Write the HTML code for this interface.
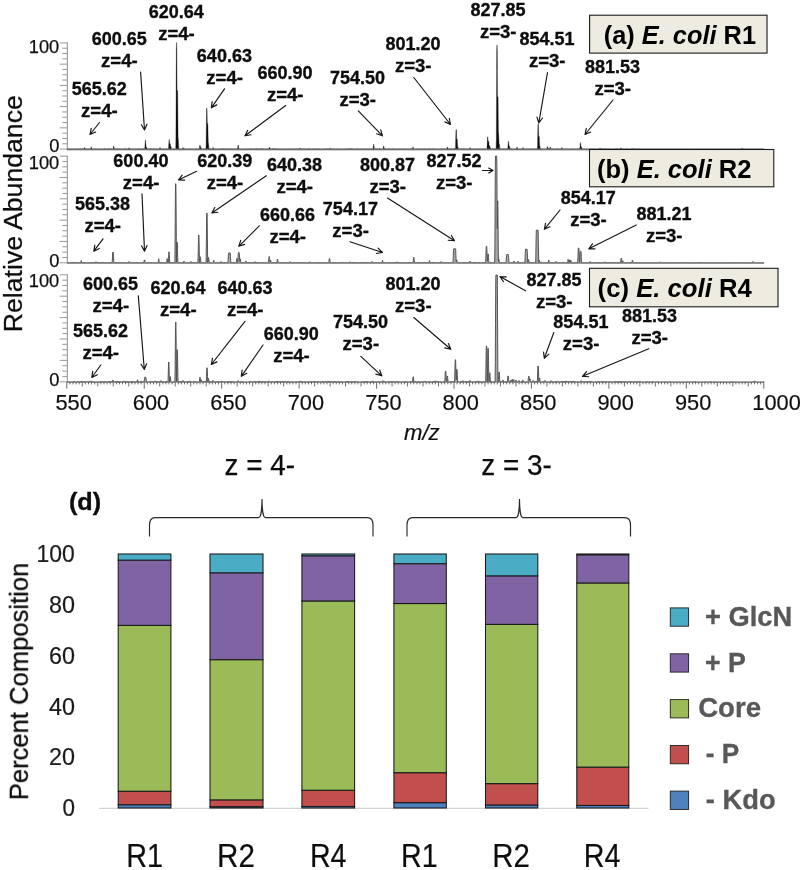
<!DOCTYPE html>
<html lang="en"><head><meta charset="utf-8"><title>LOS mass spectra and composition of E. coli R1, R2, R4</title>
<style>
html,body{margin:0;padding:0;background:#fff;}
body{width:800px;height:870px;overflow:hidden;}
svg{display:block;will-change:transform;}
text{font-family:"Liberation Sans",Arial,Helvetica,sans-serif;fill:#111;}
.pk{font-size:18px;font-weight:bold;text-anchor:middle;fill:#0a0a0a;stroke:#0a0a0a;stroke-width:0.3px;}
.yt{font-size:18.3px;fill:#111;stroke:#111;stroke-width:0.25px;}
.xt{font-size:21.8px;fill:#111;stroke:#111;stroke-width:0.2px;}
.bx{font-size:26.4px;font-weight:bold;fill:#000;}
.ar{stroke:#151515;stroke-width:1.15;fill:none;stroke-linecap:round;}
.bar rect{stroke:#1a1a1a;stroke-width:1.05;}
.lg{font-size:28px;font-weight:bold;fill:#595959;stroke:#595959;stroke-width:0.35px;}
.cy{font-size:24.6px;fill:#1a1a1a;text-anchor:end;stroke:#1a1a1a;stroke-width:0.2px;}
.cx{font-size:32.7px;fill:#111;stroke:#111;stroke-width:0.2px;}
.zz{font-size:29px;fill:#111;stroke:#111;stroke-width:0.25px;}
</style></head><body>
<svg width="800" height="870" viewBox="0 0 800 870">
<defs><filter id="soft" x="0" y="0" width="800" height="870" filterUnits="userSpaceOnUse"><feGaussianBlur stdDeviation="0.38"/></filter></defs>
<rect width="800" height="870" fill="#fff"/>
<g filter="url(#soft)">
<text transform="translate(22.3 332.2) rotate(-90)" font-size="26.2" textLength="237" lengthAdjust="spacingAndGlyphs" fill="#111" stroke="#111" stroke-width="0.25">Relative Abundance</text>
<path d="M67.3 149.7L67.3 149L67.5 148.8L67.7 149.1L67.9 148.8L68.1 149.1L68.3 149.1L68.5 148.7L68.7 149L68.9 149L69.1 148.9L69.3 148.8L69.5 149L69.7 148.9L69.9 149.1L71.5 149.1L71.7 149L71.9 149.1L72.1 149L72.3 149L72.5 148.9L72.7 149.1L73.7 149.1L73.9 148.8L74.1 149.1L74.3 148.9L74.5 149L74.7 149.1L74.9 148.9L75.1 148.9L75.3 148.8L75.5 149.1L76.1 149.1L76.3 149L76.5 149.1L76.7 148.8L76.9 149.1L77.5 149.1L77.7 148.7L77.9 149.1L78.3 149.1L78.5 148.7L78.7 149.1L78.9 148.8L79.1 149.1L79.3 149L79.5 149.1L79.7 148.9L79.9 149.1L80.1 149L80.3 148.9L80.5 148.7L80.7 149.1L80.9 148.7L81.1 148.8L81.3 149.1L81.5 149L81.7 149.1L81.9 148.7L82.1 149L82.3 149.1L83.1 149.1L83.3 148.6L83.5 149.1L83.7 149.1L83.9 148.7L84.1 148.2L84.3 147.7L84.5 147.6L84.7 147.7L84.9 148.2L85.1 148.7L85.3 149.1L85.5 149.1L85.7 148.6L85.9 148.9L86.1 149.1L86.3 148.6L86.5 148.9L86.7 149.1L86.9 149.1L87.1 149L87.3 149.1L87.9 149.1L88.1 148.8L88.3 149.1L88.5 149.1L88.7 148.9L88.9 149L89.1 148.9L89.3 148.8L89.5 149L89.9 149L90.1 149.1L90.3 148.9L90.5 148.8L90.7 148.2L90.9 147.4L91.1 146.9L91.3 146.9L91.5 147.4L91.7 148.2L91.9 148.9L92.1 149.1L92.3 149.1L92.5 149L92.7 149L92.9 149.1L93.1 149.1L93.3 149L93.5 148.8L93.7 149.1L94.1 149.1L94.3 148.9L94.5 149.1L94.7 148.8L94.9 149.1L95.1 148.8L95.3 149L95.5 149.1L96.1 149.1L96.3 148.9L96.5 149L96.7 149.1L96.9 148.9L97.1 148.8L97.3 149L97.5 149.1L97.7 149.1L97.9 148.9L98.1 148.9L98.3 149.1L98.5 148.9L98.7 149.1L98.9 149.1L99.1 148.8L99.3 148.9L99.5 149.1L99.7 149L99.9 148.9L100.1 149.1L100.3 149L100.5 148.9L100.7 149.1L100.9 149L101.1 148.9L101.3 148.9L101.5 149.1L101.7 149L101.9 149.1L102.1 148.9L102.3 148.9L102.5 149L102.7 149.1L102.9 149.1L103.1 148.9L103.3 149.1L103.5 148.9L103.7 148.9L103.9 149.1L104.1 148.6L104.3 149L104.5 148.6L104.7 149.1L104.9 149.1L105.1 148.8L105.3 148.9L105.5 149.1L105.7 149L105.9 149.1L106.5 149.1L106.7 148.8L106.9 149L107.1 148.9L107.3 149.1L107.5 149.1L107.7 149L107.9 149.1L108.1 148.8L108.3 149.1L108.5 148.7L108.7 149.1L108.9 148.8L109.1 149.1L109.3 148.7L109.5 149L109.7 148.9L109.9 148.9L110.1 149.1L110.5 149.1L110.7 148.8L110.9 149.1L111.1 149.1L111.3 149L111.5 148.6L111.7 149.1L111.9 149L112.1 149.1L112.3 148.9L112.5 149.1L112.7 149.1L112.9 148.9L113.1 148.4L113.3 147.4L113.5 146.4L113.7 146.1L113.9 146.4L114.1 147.3L114.3 148.3L114.5 148.9L114.7 149L114.9 149L115.1 148.8L115.3 149.1L115.5 148.9L115.7 149L115.9 149L116.1 148.9L116.3 149L116.7 149L116.9 148.6L117.1 149.1L117.3 148.8L117.5 148.9L117.7 149.1L117.9 148.9L118.1 149.1L118.3 148.8L118.5 149.1L118.7 149.1L118.9 149L119.1 148.9L119.3 148.8L119.5 148.8L119.7 149.1L119.9 149.1L120.1 148.9L120.3 149L120.5 149.1L120.7 148.8L120.9 149L121.1 149.1L121.3 148.9L121.5 149.1L121.7 149.1L121.9 148.9L122.1 149.1L122.3 149L122.5 149.1L122.7 148.9L122.9 149.1L123.1 149L123.3 149.1L123.5 149.1L123.7 148.8L123.9 148.9L124.1 149.1L124.3 148.8L124.5 148.8L124.7 149.1L124.9 148.7L125.1 149.1L125.3 149L125.5 148.8L125.9 148.8L126.1 149.1L126.3 149.1L126.5 148.9L126.7 149.1L126.9 149L127.1 149.1L127.3 148.8L127.5 148.9L127.7 148.9L127.9 149L128.3 149L128.5 148.6L128.7 148.1L128.9 147.8L129.1 147.8L129.3 148.1L129.5 148.6L129.7 148.7L129.9 148.8L130.1 149.1L130.3 149.1L130.5 148.8L130.7 149.1L130.9 149L131.1 149.1L131.3 149L131.5 149.1L131.7 149L131.9 149.1L132.1 149L132.3 149.1L132.5 148.9L132.7 149L132.9 149.1L133.1 149.1L133.3 149L133.5 148.9L133.7 149L133.9 148.8L134.1 149L134.3 149.1L134.5 149.1L134.7 148.9L134.9 149.1L135.1 148.9L135.3 148.8L135.5 148.9L135.7 148.8L135.9 149.1L136.1 149L136.3 149.1L137.3 149.1L137.5 149L137.7 148.9L137.9 149.1L138.1 148.8L138.5 148.8L138.7 149.1L138.9 149.1L139.1 148.9L139.3 149L139.5 148.9L139.7 148.9L139.9 148.8L140.1 149.1L140.3 148.9L140.5 149.1L140.9 149.1L141.1 148.7L141.3 149.1L141.5 148.8L141.7 149.1L141.9 149.1L142.1 149L142.3 149L142.5 149.1L142.7 149L142.9 148.9L143.1 148.9L143.3 149.1L143.5 148.7L143.7 148.7L143.9 148.6L144.1 149.1L144.3 149L144.5 149.1L144.7 148.9L144.9 146.8L145.1 143.7L145.3 140.7L145.5 139.9L145.7 140.7L145.9 143.7L146.1 146.8L146.3 147.3L146.5 147.3L146.7 147.5L146.9 148.3L147.1 148.7L147.3 149.1L147.5 149.1L147.7 148.9L147.9 149.1L148.1 149L148.3 148.9L148.5 148.9L148.7 148.7L148.9 148.8L149.1 149.1L149.3 149L149.5 148.6L149.7 149.1L149.9 148.8L150.1 149L150.3 149.1L150.5 148.7L150.7 148.8L150.9 149.1L151.1 148.8L151.3 149.1L151.5 149.1L151.7 148.8L151.9 149L152.1 149.1L152.3 148.9L152.5 149L152.7 148.8L152.9 148.8L153.1 149.1L153.3 149.1L153.5 149L153.7 149.1L153.9 148.7L154.1 148.7L154.3 148.8L154.5 148.9L154.7 149.1L154.9 148.8L155.1 149.1L155.3 149L155.5 149.1L155.7 149.1L155.9 148.7L156.1 149.1L156.3 149.1L156.5 149L156.7 148.7L156.9 148.7L157.1 149.1L157.3 149.1L157.5 149L157.7 149.1L157.9 149L158.1 149.1L159.1 149.1L159.3 148.8L159.5 148.5L159.7 148L159.9 147.6L160.1 147.6L160.3 148L160.5 148.5L160.7 148.7L160.9 149.1L161.7 149.1L161.9 148.9L162.1 148.7L162.3 148.9L162.5 149L162.7 149.1L162.9 149L163.1 149.1L163.3 149L163.5 148.8L163.7 149L163.9 149.1L164.1 149.1L164.3 149L164.5 149L164.7 149.1L164.9 149.1L165.1 148.8L165.3 149.1L165.7 149.1L165.9 148.7L166.1 148.9L166.5 148.9L166.7 149L166.9 149L167.1 149.1L167.3 149L167.5 148.9L167.7 149.1L167.9 148.9L168.1 148.9L168.3 149.1L168.5 148.3L168.7 145.1L168.9 141.9L169.1 139.5L169.3 139.5L169.5 141.9L169.7 143.8L170.3 143.8L170.5 145.6L170.7 146.7L171.1 146.7L171.3 147.5L171.5 148.6L171.7 149.1L172.3 149.1L172.5 148.9L172.7 149.1L173.1 149.1L173.3 148.7L173.5 149L173.7 149.1L174.1 149.1L174.3 149L174.5 148.9L174.7 148.8L174.9 148.8L175.1 149L175.3 149.1L175.7 149.1L175.9 138L176.1 93.6L176.3 49.3L176.5 42.6L176.7 42.6L176.9 49.3L177.1 90.5L177.7 90.5L177.9 116.6L178.1 138.4L178.3 138.4L178.5 142L178.7 146.7L178.9 148.9L179.1 149.1L179.3 148.7L179.5 149.1L179.7 149L179.9 149.1L180.1 148.9L180.3 149.1L180.5 148.9L180.7 149.1L180.9 149L181.1 149.1L181.3 149L181.5 149L181.7 148.9L181.9 149L182.1 148.9L182.3 148.8L182.5 148.5L182.7 148L182.9 147.6L183.1 147.6L183.3 148L183.5 148.5L183.7 149L183.9 149.1L184.1 148.8L184.3 148.6L184.5 149.1L184.9 149.1L185.1 148.8L185.3 149.1L185.5 149.1L185.7 148.9L185.9 149L186.1 149L186.3 149.1L186.5 149.1L186.7 149L186.9 149L187.1 148.9L187.3 149.1L187.5 149L187.7 148.9L187.9 149L188.1 148.9L188.3 148.8L188.5 149L188.7 149L188.9 149.1L189.1 149L189.3 149L189.5 149.1L189.7 149.1L189.9 148.9L190.1 148.5L190.3 148.9L190.5 149L190.7 148.9L190.9 149.1L191.1 149L191.3 149.1L191.5 149.1L191.7 149L192.1 149L192.3 149.1L192.5 149L192.7 149.1L192.9 148.9L193.1 149.1L193.3 149L193.5 148.9L193.7 148.9L193.9 149.1L194.1 149.1L194.3 148.9L194.5 149.1L194.7 149.1L194.9 149L195.1 149L195.3 148.9L195.5 149L195.9 149L196.1 148.8L196.3 148.9L196.5 148.9L196.7 149.1L196.9 148.8L197.1 149.1L197.3 148.9L197.5 149.1L197.7 149L197.9 149L198.1 149.1L198.3 148.8L198.5 148.9L198.7 149L198.9 149.1L199.1 148.7L199.3 148.7L199.5 147.3L199.7 146L199.9 144.9L200.1 144.9L200.3 146L200.5 147.3L200.7 147.6L201.1 147.6L201.3 148.1L201.5 148.8L201.7 149.1L201.9 148.9L202.1 149L202.3 149.1L202.5 149L202.7 148.9L202.9 149.1L203.7 149.1L203.9 149L204.1 149L204.3 149.1L204.5 149.1L204.7 149L204.9 149.1L205.1 149.1L205.3 149L205.5 148.6L205.7 149.1L205.9 149.1L206.1 144.8L206.3 127.6L206.5 110.5L206.7 107.9L206.9 107.9L207.1 110.5L207.3 123.6L207.9 123.6L208.1 134.9L208.3 143.3L208.5 143.3L208.7 145.3L208.9 147.8L209.1 149L209.3 148.9L209.5 148.8L209.7 149L210.1 149L210.3 148.5L210.5 149L210.7 148.8L210.9 149.1L211.1 148.9L211.3 149.1L211.7 149.1L211.9 149L212.1 149L212.3 148.9L212.5 148.4L212.7 147.9L212.9 147.5L213.1 147.5L213.3 147.9L213.5 148.4L213.7 148.8L213.9 148.9L214.1 149L214.3 148.7L214.5 149.1L214.7 149.1L214.9 149L215.1 149.1L215.3 149.1L215.5 148.8L215.7 149.1L215.9 149L216.1 148.9L216.3 149.1L216.5 149L216.7 149.1L217.1 149.1L217.3 149L217.5 149.1L217.7 149.1L217.9 148.8L218.1 148.8L218.3 148.9L218.5 149L218.7 149.1L219.1 149.1L219.3 149L219.5 148.8L219.7 148.8L219.9 149L220.1 149.1L220.3 149L220.5 149L220.7 148.9L220.9 148.7L221.1 149.1L221.3 148.6L221.5 149.1L222.3 149.1L222.5 148.6L222.7 149.1L222.9 148.8L223.1 149.1L223.3 149L223.5 149.1L223.7 148.6L223.9 149L224.1 149.1L224.3 148.6L224.5 149L224.7 148.9L224.9 149L225.1 149.1L225.5 149.1L225.7 148.7L225.9 148.9L226.1 149.1L226.3 148.8L226.5 149.1L226.7 148.8L226.9 149L227.1 149.1L227.3 148.9L227.5 148.9L227.7 149.1L227.9 149L228.1 148.8L228.3 148.7L228.5 149.1L228.7 149.1L228.9 148.6L229.1 149.1L229.3 149.1L229.5 148.9L229.7 149.1L229.9 148.8L230.1 149.1L230.5 149.1L230.7 148.7L230.9 149.1L231.1 148.8L231.3 148.8L231.5 149.1L231.7 149.1L231.9 148.9L232.1 149L232.3 149L232.5 148.9L232.7 148.8L232.9 149.1L233.1 149L233.3 148.9L233.5 149L233.7 149L233.9 149.1L234.1 148.7L234.3 149.1L234.5 149L235.1 149L235.3 149.1L235.5 148.9L235.7 148.8L235.9 148.9L236.3 148.9L236.5 149L236.7 148.7L236.9 149.1L237.1 148.9L237.3 148.8L237.5 148.8L237.7 147.4L237.9 146.1L238.1 145.1L238.3 145.1L238.5 146.1L238.7 147.4L238.9 148.8L239.1 149.1L239.3 149.1L239.5 149L239.7 149.1L239.9 149.1L240.1 149L240.3 149L240.5 149.1L240.7 149.1L240.9 148.8L241.1 149.1L241.5 149.1L241.7 148.9L241.9 149.1L242.1 149.1L242.3 148.9L242.5 149L242.7 148.9L242.9 149.1L243.7 149.1L243.9 148.8L244.1 148.9L244.3 149.1L244.5 148.9L244.7 149L244.9 149.1L245.1 148.8L245.3 149.1L245.5 148.8L245.7 148.8L245.9 149.1L246.1 149.1L246.3 149L246.5 149.1L246.9 149.1L247.1 149L247.3 149.1L247.5 149.1L247.7 148.8L247.9 148.8L248.1 149.1L248.3 148.9L248.5 148.6L248.7 149.1L249.1 149.1L249.3 148.9L249.5 149.1L249.7 149.1L249.9 148.8L250.1 149.1L250.3 148.9L250.5 148.6L250.7 149.1L250.9 149.1L251.1 148.8L251.3 149L251.5 148.9L251.7 149L251.9 148.5L252.1 148.9L252.3 149L252.5 149L252.7 148.9L252.9 149.1L253.1 149.1L253.3 148.9L253.5 149.1L253.7 149L253.9 149L254.1 149.1L254.3 148.5L254.5 148.9L254.7 149L254.9 149.1L255.1 149L255.3 149.1L255.5 149L255.7 149L255.9 148.5L256.1 148.8L256.3 148.7L256.5 148.8L256.7 148.5L256.9 149.1L257.1 149.1L257.3 149L257.7 149L257.9 149.1L258.1 148.9L258.3 148.7L258.5 149L258.7 149.1L258.9 148.8L259.1 149.1L259.3 149.1L259.5 149L259.7 149.1L259.9 148.7L260.1 149L260.3 148.9L260.5 149L260.7 148.9L260.9 149.1L261.1 148.7L261.3 148.9L261.5 149L261.7 148.4L261.9 149.1L262.1 148.9L262.3 149L262.5 149.1L262.7 148.6L262.9 149.1L263.1 149L263.5 149L263.7 149.1L263.9 148.8L264.1 149L264.3 149.1L264.5 149.1L264.7 149L264.9 149.1L265.1 148.9L265.3 149L265.5 149.1L265.9 149.1L266.1 148.9L266.3 149.1L266.5 148.7L266.7 149.1L266.9 148.9L267.1 148.9L267.3 149L267.5 149L267.7 148.8L267.9 149L268.1 149L268.3 149.1L268.5 148.6L268.7 149L268.9 148.6L269.1 147.9L269.3 147.3L269.5 147.1L269.7 147.3L269.9 147.9L270.1 148.6L270.3 149.1L270.5 148.9L270.7 148.8L270.9 149.1L271.1 148.8L271.3 149.1L271.5 148.9L271.7 149.1L271.9 148.8L272.1 148.6L272.3 149.1L272.5 148.8L272.7 149.1L272.9 149.1L273.1 148.5L273.3 149L273.5 148.9L273.7 149.1L273.9 149L274.1 149.1L274.3 148.8L274.5 149.1L274.7 148.5L274.9 149.1L275.1 149L275.3 149.1L275.5 149.1L275.7 148.8L275.9 149L276.1 149.1L276.3 148.9L276.5 148.8L276.7 148.9L276.9 148.8L277.1 149.1L277.3 148.7L277.5 148.9L277.7 149.1L277.9 148.7L278.1 149.1L278.3 148.9L278.5 149.1L278.9 149.1L279.1 148.9L279.3 149.1L279.7 149.1L279.9 148.8L280.1 149.1L280.3 148.9L280.5 149.1L281.1 149.1L281.3 149L281.5 148.8L281.7 149.1L281.9 149.1L282.1 148.9L282.3 148.9L282.5 149L282.7 149L282.9 149.1L283.5 149.1L283.7 148.8L283.9 149.1L284.1 148.8L284.3 149.1L284.7 149.1L284.9 148.9L285.1 149.1L285.3 149.1L285.5 149L285.7 149L285.9 148.9L286.1 148.9L286.3 149.1L286.5 149L287.3 149L287.5 149.1L287.7 149L287.9 148.8L288.1 149.1L288.3 149L288.5 149.1L288.9 149.1L289.1 149L289.3 148.7L289.5 149.1L289.7 148.8L289.9 148.9L290.1 149L290.3 149.1L290.5 149L290.7 149L290.9 149.1L291.1 149L291.3 148.7L291.5 149.1L291.7 149.1L291.9 148.8L292.1 149.1L292.3 149.1L292.5 149L292.7 148.8L292.9 148.8L293.1 148.9L293.3 148.6L293.5 148.9L293.7 149.1L293.9 149.1L294.1 148.9L294.3 148.9L294.5 149.1L294.7 148.9L294.9 149.1L295.1 149.1L295.3 148.7L295.5 149L295.7 149.1L295.9 149L296.1 149.1L296.3 148.6L296.5 148.9L296.7 148.8L296.9 149.1L297.1 149.1L297.3 149L297.5 149.1L297.7 148.8L297.9 149.1L298.1 149L298.3 149L298.5 149.1L298.7 148.9L298.9 148.9L299.1 148.7L299.3 148.9L299.5 148.6L299.7 148.2L299.9 147.9L300.1 147.9L300.3 148.2L300.5 148.6L300.7 148.9L300.9 148.8L301.1 149L301.3 149.1L301.5 148.8L301.7 149L301.9 149.1L302.1 149.1L302.3 148.9L302.5 149L302.7 148.9L302.9 149L303.1 148.7L303.3 149.1L303.5 148.9L303.7 149L303.9 148.8L304.1 149.1L305.1 149.1L305.3 148.9L305.5 148.7L305.7 149.1L305.9 148.9L306.1 149.1L306.5 149.1L306.7 149L306.9 148.9L307.1 149.1L307.3 149.1L307.5 149L307.7 149.1L307.9 148.6L308.1 149.1L308.3 149.1L308.5 148.8L308.7 149.1L308.9 149.1L309.1 148.5L309.3 149.1L309.5 149L309.7 149.1L309.9 149.1L310.1 149L310.3 149.1L310.5 148.8L310.7 148.9L310.9 148.9L311.1 149.1L311.7 149.1L311.9 148.9L312.1 149.1L312.3 149.1L312.5 149L312.7 148.9L312.9 149L313.1 149.1L313.3 149.1L313.5 148.6L313.7 148.8L313.9 149.1L314.1 148.7L314.3 149L314.5 149L314.7 149.1L314.9 148.7L315.1 149L315.3 149L315.5 149.1L315.7 149.1L315.9 149L316.1 149L316.3 148.7L316.5 149.1L316.7 149.1L316.9 148.8L317.1 148.9L317.3 149.1L317.5 148.7L317.7 148.9L317.9 148.8L318.1 149L318.3 148.8L318.5 149.1L318.7 149.1L318.9 148.8L319.1 148.9L319.3 148.9L319.5 148.8L319.7 149L319.9 148.9L320.1 149.1L320.3 149.1L320.5 148.9L320.7 149.1L320.9 149.1L321.1 149L321.3 149L321.5 148.9L321.7 148.9L321.9 149.1L322.1 148.8L322.3 149.1L322.5 149.1L322.7 149L322.9 148.9L323.1 149L323.3 149.1L323.5 149.1L323.7 149L323.9 148.9L324.1 148.7L324.3 149L324.5 149.1L324.7 149.1L324.9 148.8L325.1 148.8L325.3 149L325.5 149.1L325.7 149.1L325.9 148.9L326.1 149.1L326.3 148.7L326.5 148.9L326.7 148.8L326.9 149L327.1 148.8L327.3 149.1L327.5 148.7L327.7 149L327.9 149.1L328.3 149.1L328.5 149L328.7 149.1L329.1 149.1L329.3 149L329.5 148.6L329.7 148.2L329.9 147.9L330.1 147.9L330.3 148.2L330.5 148.6L330.7 149L330.9 148.8L331.1 149.1L331.3 149.1L331.5 149L331.7 149.1L331.9 149.1L332.1 148.9L332.3 149.1L332.5 148.7L332.7 148.6L332.9 149L333.1 149.1L333.3 149L333.5 149.1L334.3 149.1L334.5 148.8L334.7 148.8L334.9 148.9L335.1 149.1L335.3 148.9L335.5 149L335.7 149L335.9 149.1L336.1 149.1L336.3 148.8L336.5 149.1L336.7 149.1L336.9 149L337.1 149L337.3 149.1L337.5 148.7L337.7 149L337.9 149L338.1 149.1L338.3 149L338.5 148.9L338.7 149L338.9 149L339.1 149.1L339.3 148.9L339.5 149.1L339.9 149.1L340.1 149L340.3 148.8L340.5 149L340.7 149.1L340.9 149L341.1 148.8L341.3 148.9L341.5 148.9L341.7 149.1L342.3 149.1L342.5 149L342.7 149L342.9 149.1L343.1 148.9L343.3 149.1L343.5 149.1L343.7 149L343.9 149.1L344.5 149.1L344.7 149L345.3 149L345.5 149.1L345.7 148.7L345.9 148.8L346.1 149.1L346.5 149.1L346.7 149L346.9 148.9L347.1 149L347.3 149.1L347.5 148.5L347.7 148.9L347.9 148.9L348.1 149.1L348.3 149L348.5 148.8L348.7 149.1L348.9 148.8L349.1 149L349.3 148.7L349.5 149L349.7 148.7L349.9 149.1L350.1 148.7L350.3 148.9L350.5 149.1L350.7 148.8L350.9 149.1L351.1 148.9L351.3 148.8L351.5 148.8L351.7 148.6L351.9 148.8L352.1 148.5L352.3 148.9L352.5 149L352.7 148.9L352.9 149L353.1 149.1L353.3 149L353.5 149.1L354.3 149.1L354.5 149L354.7 149L354.9 148.8L355.1 148.9L355.3 148.8L355.5 149.1L356.1 149.1L356.3 148.9L356.5 149.1L356.7 149L356.9 149.1L357.1 148.7L357.3 149L357.5 148.8L357.7 149L357.9 148.8L358.1 149.1L358.3 149.1L358.5 148.8L358.7 149.1L358.9 149L359.1 148.9L359.3 148.9L359.5 149L359.7 149.1L359.9 149.1L360.1 149L360.3 148.9L360.7 148.9L360.9 149.1L361.1 149L361.3 148.8L361.5 149.1L361.7 149.1L361.9 148.8L362.1 148.7L362.3 148.9L362.5 149L362.7 149.1L362.9 149L363.1 149.1L363.3 149L363.5 148.9L363.7 148.9L363.9 148.8L364.1 149.1L364.3 149.1L364.5 148.8L364.7 148.8L364.9 149.1L365.1 149L365.3 149.1L365.5 149L365.7 149L365.9 148.8L366.1 149.1L366.3 149.1L366.5 148.9L366.7 149.1L366.9 148.7L367.1 149.1L367.5 149.1L367.7 148.8L367.9 148.8L368.1 148.9L368.3 149.1L368.9 149.1L369.1 148.7L369.3 148.8L369.5 149.1L369.7 148.9L370.1 148.9L370.3 149.1L370.5 149.1L370.7 148.8L370.9 148.9L371.1 149.1L371.3 148.6L371.5 149L371.7 149.1L371.9 148.8L372.1 148.9L372.3 149L372.5 148.7L372.7 148.8L372.9 149L373.1 147.8L373.3 146.2L373.5 144.5L373.7 144.1L373.9 144.5L374.1 146.2L374.3 147.9L374.5 149.1L374.9 149.1L375.1 148.9L375.3 149.1L375.5 148.7L375.7 148.7L375.9 149.1L376.1 149L376.3 149.1L376.5 149L376.7 148.9L376.9 148.7L377.1 148.6L377.3 148.7L377.5 149.1L378.1 149.1L378.3 149L378.5 148.9L378.7 149.1L378.9 149.1L379.1 148.6L379.3 148.9L379.5 148.6L379.7 149.1L379.9 148.8L380.1 148.7L380.3 148.8L380.5 149.1L380.7 148.9L380.9 149.1L381.1 149.1L381.3 149L381.5 148.9L381.7 149.1L381.9 149L382.1 148.9L382.3 149.1L382.5 148.9L382.9 148.9L383.1 148.3L383.3 147.2L383.5 146.2L383.7 145.9L383.9 146.2L384.1 147.2L384.3 148.3L384.5 149.1L384.7 148.9L384.9 149.1L385.1 149L385.3 148.8L385.5 148.7L385.7 149.1L385.9 149L386.1 149.1L386.5 149.1L386.7 148.9L386.9 149L387.1 149L387.3 149.1L387.7 149.1L387.9 149L388.1 149.1L388.3 149L388.5 148.8L388.7 148.5L388.9 148.7L389.1 148.8L389.3 148.9L389.5 148.7L389.7 149L389.9 148.9L390.1 149.1L390.3 149.1L390.5 148.8L390.7 149.1L390.9 149L391.1 149L391.3 149.1L391.5 149L391.7 149L391.9 149.1L392.1 149L392.3 149.1L392.5 148.7L392.7 149L392.9 148.8L393.1 149.1L393.3 148.7L393.5 148.8L393.7 148.9L393.9 149L394.1 148.9L394.3 149.1L394.5 149L394.7 149.1L394.9 148.9L395.1 148.7L395.3 148.8L395.5 149L395.7 148.9L395.9 149.1L396.7 149.1L396.9 149L397.1 149L397.3 148.9L397.5 148.8L397.7 148.9L397.9 149L398.1 149.1L398.3 149.1L398.5 148.9L398.7 149.1L399.1 149.1L399.3 148.8L399.5 148.8L399.7 148.9L399.9 149.1L400.1 149L400.3 148.9L400.5 148.8L400.7 148.7L400.9 149.1L401.1 148.9L401.3 149.1L401.7 149.1L401.9 148.9L402.1 149L402.3 149.1L402.5 149L402.7 148.9L402.9 148.7L403.1 149.1L403.5 149.1L403.7 148.8L403.9 149.1L404.1 149L404.3 148.9L404.5 149.1L404.7 148.8L404.9 149.1L405.1 148.7L405.3 149.1L406.5 149.1L406.7 149L406.9 149L407.1 149.1L407.3 149L407.5 149.1L407.7 149L407.9 149.1L408.1 149.1L408.3 149L408.5 149L408.7 149.1L408.9 149L409.1 148.9L409.3 149.1L409.5 149.1L409.7 148.9L409.9 149L410.1 148.9L410.3 148.6L410.5 149.1L410.7 148.9L410.9 149.1L411.1 148.7L411.3 148.9L411.5 149.1L411.7 148.8L411.9 149L412.1 149.1L412.3 148.9L412.5 148.2L412.7 147.4L412.9 146.9L413.1 146.9L413.3 147.5L413.5 148.2L413.7 148.9L413.9 149.1L414.1 149.1L414.3 149L414.5 149.1L415.1 149.1L415.3 149L415.7 149L415.9 148.9L416.1 148.9L416.3 149.1L416.5 149L416.7 148.7L416.9 149.1L417.1 149.1L417.3 149L417.5 149.1L417.7 148.9L417.9 149L418.1 149.1L418.3 148.9L418.5 148.8L418.7 149.1L419.3 149.1L419.5 148.9L419.7 148.6L419.9 148.9L420.1 148.8L420.3 149.1L420.7 149.1L420.9 148.9L421.1 149L421.3 149.1L421.5 148.9L421.7 148.9L421.9 148.7L422.1 148.8L422.3 148.8L422.5 149.1L422.7 148.8L422.9 149L423.1 149.1L423.3 149L423.5 149.1L423.7 149L423.9 148.8L424.1 149.1L424.3 148.9L424.5 148.8L424.7 149.1L424.9 148.7L425.1 149.1L425.3 149.1L425.5 148.8L425.7 149L425.9 149.1L426.1 149.1L426.3 148.9L426.5 149.1L426.7 149.1L426.9 149L427.1 149L427.3 149.1L427.5 149.1L427.7 148.9L427.9 148.8L428.1 149.1L428.3 148.9L428.5 148.8L428.7 149.1L428.9 148.7L429.1 149.1L429.3 148.8L429.5 148.7L429.7 148.7L429.9 149.1L430.1 149L430.3 149.1L430.5 148.9L430.7 148.7L430.9 148.9L431.1 148.7L431.3 149.1L431.7 149.1L431.9 148.9L432.1 148.8L432.3 149.1L432.5 149.1L432.7 148.8L432.9 149.1L433.1 148.9L433.3 149.1L433.5 149L433.7 148.6L433.9 149.1L434.1 149L434.3 149.1L434.5 148.9L434.7 148.7L434.9 148.9L435.1 149.1L435.3 148.9L435.5 148.7L435.7 149.1L435.9 149L436.1 149.1L436.7 149.1L436.9 148.9L437.1 149L437.3 149.1L437.9 149.1L438.1 149L438.3 149.1L438.5 148.9L438.7 149.1L439.7 149.1L439.9 149L440.1 148.7L440.3 149.1L440.5 149.1L440.7 149L440.9 149.1L441.1 148.9L441.3 148.8L441.5 148.7L441.7 149L441.9 149.1L442.1 148.7L442.3 148.8L442.5 148.8L442.7 149L442.9 149.1L443.1 149L443.3 149.1L443.5 148.8L443.7 149.1L443.9 149.1L444.1 148.9L444.3 149.1L444.5 148.9L444.7 149.1L444.9 148.6L445.1 148.8L445.3 148.9L445.5 149L445.7 149L445.9 149.1L446.7 149.1L446.9 148.5L447.1 147.8L447.3 147.1L447.5 146.9L447.7 147.1L447.9 147.8L448.1 148.5L448.3 149L448.5 148.9L448.7 149L448.9 149L449.1 148.7L449.3 149L449.5 148.9L449.7 149L449.9 149.1L450.1 148.8L450.3 149L450.5 148.7L450.7 149.1L450.9 148.9L451.1 148.7L451.3 149.1L451.5 148.9L451.7 148.7L451.9 148.9L452.1 149.1L452.3 149.1L452.5 149L452.7 149.1L452.9 149.1L453.1 149L453.3 149.1L453.5 148.7L453.7 149.1L453.9 149L454.1 149L454.3 148.7L454.5 149.1L454.7 148.6L454.9 148.7L455.1 148.9L455.3 149.1L455.5 147.1L455.7 138.9L455.9 130.7L456.1 129.5L456.3 129.5L456.5 130.7L456.7 138.9L456.9 139.3L457.3 139.3L457.5 143.7L457.7 146.7L457.9 146.7L458.1 147.5L458.3 148.6L458.5 149.1L458.7 149L458.9 148.9L459.1 148.9L459.3 149.1L459.5 149L459.7 148.8L459.9 149.1L460.1 149L460.3 149.1L460.5 149L460.7 148.6L460.9 148.9L461.1 149.1L461.3 148.8L461.7 148.8L461.9 149.1L462.1 149.1L462.3 148.9L462.7 148.9L462.9 149.1L463.1 148.9L463.3 148.6L463.5 148.8L463.7 148.5L463.9 148.9L464.1 149L464.3 148.7L464.5 148.8L464.7 149.1L464.9 149.1L465.1 149L465.3 149.1L465.5 148.7L465.7 148.7L465.9 148.8L466.1 149.1L466.3 149.1L466.5 148.9L466.7 149.1L466.9 148.9L467.1 149L467.3 148.9L467.5 149L467.7 149.1L468.3 149.1L468.5 148.9L468.7 149.1L468.9 149.1L469.1 148.9L469.3 148.9L469.5 148.5L469.7 148L469.9 147.6L470.1 147.6L470.3 148L470.5 148.5L470.7 149L470.9 148.9L471.1 148.9L471.3 149.1L472.1 149.1L472.3 148.7L472.5 149.1L473.7 149.1L473.9 149L474.1 149.1L474.3 149L474.5 148.7L474.7 149.1L474.9 149L475.1 149.1L475.5 149.1L475.7 149L475.9 149L476.1 148.8L476.3 148.6L476.5 149.1L476.7 148.8L476.9 149.1L477.3 149.1L477.5 148.9L477.7 148.8L477.9 149L478.1 149L478.3 149.1L478.7 149.1L478.9 149L479.1 149.1L479.3 148.6L479.5 148.8L479.7 149.1L480.1 149.1L480.3 149L480.5 149L480.7 148.7L480.9 149.1L481.1 149.1L481.3 149L481.5 148.9L481.7 149.1L481.9 148.9L482.1 149.1L482.3 149.1L482.5 149L482.7 149.1L482.9 149.1L483.1 148.7L483.3 148.8L483.5 148.9L483.7 149L483.9 149L484.1 149.1L484.3 149L484.5 149.1L484.7 149.1L484.9 148.7L485.1 149.1L485.3 149L485.5 149L485.7 148.8L485.9 149.1L486.1 148.9L486.3 148.9L486.5 149.1L486.9 149.1L487.1 145.3L487.3 140.2L487.5 136.9L487.9 136.9L488.1 140.2L488.3 141.2L488.7 141.2L488.9 142.1L489.1 145.4L489.5 145.4L489.7 145.8L489.9 147.5L490.1 147.6L490.3 147.6L490.5 148.1L490.7 148.5L490.9 148.7L491.1 148.8L491.3 149.1L491.5 149.1L491.7 149L491.9 149L492.1 148.9L492.3 149.1L492.5 148.7L492.7 149.1L492.9 148.9L493.1 148.9L493.3 148.8L493.5 148.8L493.7 149L493.9 149L494.1 148.7L494.3 148.8L494.5 149L494.7 148.8L494.9 149.1L495.1 148.9L495.3 149.1L495.5 148.8L495.7 149.1L495.9 148.8L496.1 148.9L496.3 138.3L496.5 94.9L496.7 51.6L496.9 45.1L497.1 45.1L497.3 51.6L497.5 94.9L497.7 97.1L498.1 97.1L498.3 120.2L498.5 133.5L498.7 133.5L498.9 138.7L499.1 143.9L499.3 143.9L499.5 144.5L499.7 146.8L499.9 149.1L500.1 149.1L500.3 149L500.5 148.9L500.7 148.7L500.9 148.8L501.1 149.1L501.3 149L501.5 148.6L501.7 149L501.9 148.9L502.1 149.1L502.7 149.1L502.9 148.9L503.1 149L503.3 149.1L503.5 148.5L503.7 148.9L503.9 149.1L504.1 148.7L504.3 148.8L504.5 149L504.7 149L504.9 148.9L505.1 149.1L505.3 148.8L505.5 149L505.7 148.9L505.9 149.1L506.1 149.1L506.3 148.7L506.5 149.1L506.7 148.8L506.9 148.8L507.1 149.1L507.7 149.1L507.9 147.1L508.1 144.4L508.3 141.8L508.5 141.1L508.7 141.8L508.9 144.4L509.1 146.3L509.5 146.3L509.7 146.6L509.9 147.9L510.1 149.1L510.3 148.9L510.5 149.1L510.7 148.7L510.9 149.1L511.1 148.6L511.3 149.1L511.5 148.6L511.7 148.9L511.9 148.8L512.1 148.9L512.3 148.9L512.5 149.1L512.7 149L512.9 149.1L513.1 149L513.3 149.1L513.5 148.9L513.7 149L513.9 149.1L514.1 149.1L514.3 148.8L514.5 149.1L514.7 149.1L514.9 148.9L515.1 149L515.5 149L515.7 149.1L515.9 148.9L516.1 149L516.3 148.9L516.5 148.3L516.7 147.6L516.9 147.1L517.1 147.1L517.3 147.6L517.5 148.3L517.7 148.9L517.9 148.8L518.1 148.9L518.3 149.1L518.5 149.1L518.7 148.8L518.9 149L519.1 149.1L519.3 149L519.5 148.8L519.7 149.1L519.9 149L520.1 149.1L520.3 149.1L520.5 148.9L520.7 149.1L520.9 149L521.1 148.9L521.7 148.9L521.9 149.1L522.1 149.1L522.3 148.8L522.5 148.5L522.7 148L522.9 147.6L523.1 147.6L523.3 148L523.5 148.5L523.7 149L523.9 148.9L524.1 149L524.3 148.7L524.5 149.1L524.9 149.1L525.1 149L525.3 149L525.5 149.1L525.7 148.9L525.9 149.1L526.1 149.1L526.3 148.6L526.5 149L526.7 149.1L526.9 148.8L527.1 149L527.3 149.1L527.5 148.9L527.7 148.8L527.9 148.9L528.1 149L528.3 148.7L528.5 149.1L528.7 149L528.9 148.9L529.1 149.1L529.3 148.9L529.5 148.9L529.7 148.8L529.9 149L530.1 148.6L530.3 149.1L530.7 149.1L530.9 149L531.1 148.9L531.3 149.1L531.5 148.8L531.7 148.8L531.9 149L532.1 149.1L532.3 148.9L532.5 148.9L532.7 149.1L533.3 149.1L533.5 148.9L533.7 148.8L533.9 148.9L534.1 149.1L534.3 149L534.5 149L534.7 148.7L534.9 149.1L535.1 148.9L535.3 149.1L535.5 148.8L535.7 149.1L535.9 148.9L536.1 149.1L536.3 148.9L536.5 149.1L536.7 149L536.9 148.8L537.1 148.9L537.3 149.1L537.5 146.5L537.7 135.9L537.9 125.3L538.1 123.7L538.3 123.7L538.5 125.3L538.7 135.9L538.9 136.4L539.3 136.4L539.5 142L539.7 146.1L539.9 146.1L540.1 147.1L540.3 148.4L540.5 148.9L540.7 149.1L540.9 149L541.1 148.8L541.3 149.1L541.5 149.1L541.7 148.8L541.9 149.1L542.7 149.1L542.9 149L543.1 149.1L543.3 148.8L543.5 149.1L543.7 149L543.9 148.9L544.1 149.1L544.3 149.1L544.5 149L544.7 149.1L544.9 148.9L545.1 149.1L545.3 149.1L545.5 148.9L545.7 149.1L546.1 149.1L546.3 148.8L546.5 148.9L546.7 149L546.9 148.5L547.1 147.6L547.3 146.7L547.5 146.5L547.7 146.7L547.9 147.6L548.1 148.5L548.3 149.1L548.5 149.1L548.7 148.7L548.9 148.6L549.1 149L549.3 149.1L549.5 148.8L549.7 148.3L549.9 147.6L550.1 147.1L550.3 147.1L550.5 147.6L550.7 148.3L550.9 148.9L551.1 149.1L551.3 149L551.5 149.1L551.7 149L551.9 148.9L552.1 148.6L552.3 149.1L552.5 148.8L552.7 148.8L552.9 148.9L553.1 149.1L553.3 149L553.5 149.1L553.7 149L553.9 149.1L554.1 149.1L554.3 149L554.5 149.1L554.7 149.1L554.9 149L555.1 149L555.3 148.9L555.5 148.9L555.7 148.7L555.9 149L556.1 148.8L556.3 149.1L556.5 148.9L556.7 148.9L556.9 148.7L557.1 149.1L557.3 148.7L557.5 149L557.7 149.1L557.9 149.1L558.1 148.8L558.3 149.1L558.5 148.9L558.7 149L558.9 148.9L559.1 149L559.3 149.1L559.5 149.1L559.7 149L559.9 148.9L560.1 149.1L560.3 148.8L560.5 149.1L560.7 149.1L560.9 148.9L561.1 149L561.3 148.6L561.5 148.5L561.7 148L561.9 147.6L562.1 147.6L562.3 148L562.5 148.5L562.7 149L562.9 149.1L563.1 149.1L563.3 149L563.5 149.1L563.7 149L563.9 148.9L564.1 149.1L564.3 149.1L564.5 148.9L564.7 148.9L564.9 149.1L566.1 149.1L566.3 148.7L566.5 148.8L566.7 149.1L566.9 148.9L567.1 149L567.3 149L567.5 149.1L568.1 149.1L568.3 149L568.5 149.1L568.7 149.1L568.9 148.9L569.1 148.8L569.3 148.9L569.5 149.1L569.7 149.1L569.9 148.9L570.1 149.1L570.3 149.1L570.5 148.9L570.7 149.1L570.9 149L571.1 149.1L571.3 149.1L571.5 148.8L571.7 149.1L571.9 148.9L572.1 148.7L572.3 149L572.5 149L572.7 149.1L572.9 148.9L573.1 149L573.3 148.9L573.5 148.7L573.7 148.9L573.9 148.8L574.1 149.1L574.3 149.1L574.5 148.9L574.7 149.1L574.9 149.1L575.1 149L575.3 149.1L575.5 148.9L575.7 148.7L575.9 149.1L576.7 149.1L576.9 148.8L577.1 148.9L577.3 148.9L577.5 149.1L577.7 148.8L577.9 149L578.1 148.7L578.3 149L578.5 149L578.7 148.9L578.9 148.6L579.1 149.1L579.3 148.9L579.5 149.1L579.7 149.1L579.9 147.5L580.1 145.2L580.3 143.1L580.5 142.5L580.7 143L580.9 145.2L581.1 147.1L581.5 147.1L581.7 147.3L581.9 148.2L582.1 148.8L582.3 149.1L583.1 149.1L583.3 148.7L583.5 149.1L583.7 149L583.9 148.8L584.1 148.9L584.3 149L584.5 148.9L584.7 149L584.9 149L585.1 149.1L585.5 149.1L585.7 149L585.9 149.1L586.7 149.1L586.9 148.9L587.1 149.1L587.3 148.9L587.5 149.1L587.7 148.9L588.1 148.9L588.3 149.1L588.5 149.1L588.7 148.9L588.9 149.1L589.3 149.1L589.5 149L589.7 148.9L589.9 149L590.1 148.9L590.3 148.8L590.5 149.1L590.7 149L590.9 149.1L591.3 149.1L591.5 149L591.7 149.1L591.9 149L592.1 148.8L592.3 149.1L592.5 148.9L592.7 149.1L592.9 149.1L593.1 148.7L593.3 149.1L593.5 148.8L593.7 149.1L593.9 149.1L594.1 149L594.3 149.1L594.5 149.1L594.7 148.9L594.9 148.9L595.1 149.1L595.3 148.9L595.5 148.9L595.7 149L595.9 149.1L596.1 148.9L596.3 149.1L596.7 149.1L596.9 149L597.1 148.8L597.3 149.1L597.9 149.1L598.1 148.9L598.3 149.1L598.5 148.9L598.7 148.8L598.9 149.1L599.1 149.1L599.3 148.9L599.5 148.6L599.7 148.2L599.9 147.9L600.1 147.9L600.3 148.2L600.5 148.6L600.7 149L600.9 148.9L601.1 149.1L601.3 148.9L601.5 149L601.7 149.1L601.9 148.7L602.1 148.9L602.3 149L602.5 148.6L602.7 148.8L602.9 149.1L603.1 149L603.3 148.7L603.5 148.8L603.7 148.7L603.9 149L604.1 148.8L604.3 149.1L604.5 149.1L604.7 148.9L604.9 149.1L605.1 148.9L605.3 149.1L605.5 149L605.7 148.6L605.9 148.9L606.1 148.8L606.3 149.1L606.5 149.1L606.7 148.8L606.9 149.1L607.3 149.1L607.5 148.8L607.7 149.1L607.9 149.1L608.1 149L608.3 149L608.5 149.1L608.7 148.8L608.9 148.9L609.1 148.8L609.3 148.9L609.5 148.9L609.7 149.1L610.1 149.1L610.3 148.9L610.5 149.1L610.7 148.8L610.9 148.9L611.1 149.1L611.3 149L611.5 149.1L613.3 149.1L613.5 148.9L613.7 149.1L613.9 148.8L614.1 149.1L614.3 149.1L614.5 148.9L614.7 148.8L614.9 148.8L615.1 148.9L615.3 149.1L615.5 148.9L615.7 148.7L615.9 149.1L616.1 149L616.3 148.6L616.5 149.1L616.7 149L616.9 148.6L617.1 148.9L617.3 149L617.5 148.9L617.7 149.1L617.9 148.9L618.1 149.1L618.3 148.9L618.5 149.1L618.7 149.1L618.9 149L619.1 149.1L619.3 148.8L619.5 149.1L619.9 149.1L620.1 149L620.3 149L620.5 148.6L620.7 148.1L620.9 147.8L621.1 147.8L621.3 148.1L621.5 148.6L621.7 148.9L621.9 149.1L622.1 148.9L622.3 149L622.5 149.1L622.7 149.1L622.9 148.9L623.1 148.8L623.3 149L623.5 148.9L623.7 148.9L623.9 149L624.1 148.9L624.3 149.1L624.5 148.9L624.7 149.1L624.9 148.8L625.1 148.7L625.3 148.8L625.5 149.1L625.7 149.1L625.9 148.9L626.1 149.1L626.3 148.9L626.5 149L626.7 148.7L626.9 149.1L627.1 149.1L627.3 148.9L627.5 148.8L627.7 149.1L628.3 149.1L628.5 149L628.7 149.1L628.9 149L629.1 149.1L629.3 149.1L629.5 148.9L629.7 149.1L629.9 148.8L630.1 149L630.3 149.1L630.5 149.1L630.7 149L630.9 149.1L631.1 149.1L631.3 149L631.5 149.1L631.7 148.5L631.9 148.9L632.1 148.8L632.3 148.6L632.5 148.9L632.7 149L632.9 149L633.1 148.9L633.3 148.7L633.5 149.1L633.7 148.7L633.9 149.1L634.1 149.1L634.3 148.8L634.5 149.1L634.7 148.9L634.9 149.1L635.1 148.9L635.3 149.1L635.5 148.8L635.7 149.1L636.1 149.1L636.3 149L636.5 149.1L636.7 149.1L636.9 149L637.1 149.1L637.3 149L637.5 149L637.7 149.1L637.9 148.8L638.1 149.1L638.3 149.1L638.5 148.7L638.7 149.1L638.9 149.1L639.1 148.9L639.3 149.1L639.5 149L639.7 149.1L640.1 149.1L640.3 148.9L640.5 149.1L640.7 149L640.9 149.1L641.1 149.1L641.3 148.9L641.5 149.1L641.7 149L641.9 149.1L642.1 149.1L642.3 149L642.5 148.8L642.7 149L643.1 149L643.3 148.9L643.5 149.1L644.5 149.1L644.7 148.9L644.9 149.1L645.3 149.1L645.5 148.9L645.7 148.9L645.9 149L646.1 149.1L646.7 149.1L646.9 149L647.3 149L647.5 149.1L647.9 149.1L648.1 148.9L648.3 149.1L648.9 149.1L649.1 149L649.3 149.1L649.5 149L649.7 149.1L649.9 149L650.3 149L650.5 149.1L651.5 149.1L651.7 148.9L651.9 149L652.1 149L652.3 148.8L652.5 149.1L652.7 149.1L652.9 149L653.1 149.1L653.3 148.9L653.5 148.9L653.7 149L653.9 149.1L654.1 149L654.3 149.1L654.5 149L654.7 149.1L654.9 149.1L655.1 148.9L655.3 149.1L655.9 149.1L656.1 148.9L656.3 149.1L656.5 149.1L656.7 149L656.9 148.9L657.1 148.9L657.3 149.1L657.5 149.1L657.7 149L657.9 149L658.1 149.1L658.3 148.9L658.5 149.1L658.7 149L659.7 149L659.9 149.1L660.1 149.1L660.3 148.9L660.5 149.1L660.7 149L660.9 149.1L661.3 149.1L661.5 149L661.7 149.1L661.9 149L662.1 148.9L662.3 149.1L662.7 149.1L662.9 149L663.1 149.1L663.3 149.1L663.5 149L663.7 149.1L663.9 149L664.1 149.1L664.3 149L664.5 149.1L664.7 149.1L664.9 149L665.1 149.1L665.3 149.1L665.5 148.9L665.7 149.1L665.9 149L666.1 149.1L666.3 149L666.5 149L666.7 149.1L666.9 149L667.1 149.1L667.3 149L667.5 149L667.7 149.1L667.9 149L668.1 149L668.3 149.1L668.7 149.1L668.9 149L669.1 149.1L669.3 149L669.5 149L669.7 149.1L670.1 149.1L670.3 149L670.5 148.9L670.7 149L670.9 149.1L671.1 149.1L671.3 149L671.5 148.9L671.7 149.1L671.9 149.1L672.1 148.9L672.3 149.1L672.7 149.1L672.9 148.9L673.1 149.1L673.5 149.1L673.7 149L673.9 149.1L674.1 149L674.3 149L674.5 148.9L674.7 148.9L674.9 149.1L675.3 149.1L675.5 149L675.7 149.1L675.9 149L676.1 149.1L676.3 148.9L676.5 148.9L676.7 149.1L677.3 149.1L677.5 149L677.7 149.1L677.9 148.9L678.1 149L678.3 148.9L678.5 149.1L678.7 149L678.9 149L679.1 149.1L679.3 148.9L679.5 149L679.7 149.1L679.9 149L680.1 149.1L680.3 148.9L680.5 148.9L680.7 149.1L680.9 149L681.1 149.1L681.3 149.1L681.5 149L681.7 148.9L681.9 149L682.1 149.1L682.3 148.9L682.5 149.1L682.9 149.1L683.1 149L683.5 149L683.7 149.1L683.9 149L684.1 149.1L684.3 148.9L684.5 149.1L684.7 149.1L684.9 148.9L685.1 149L685.3 149.1L685.5 149L685.7 149.1L686.1 149.1L686.3 148.9L686.5 149L686.7 149.1L686.9 149.1L687.1 149L687.3 148.8L687.5 149L687.7 149L687.9 149.1L689.1 149.1L689.3 148.9L689.5 149L689.7 149.1L689.9 149.1L690.1 149L690.3 149L690.5 149.1L690.9 149.1L691.1 149L691.3 149.1L691.7 149.1L691.9 149L692.1 149.1L692.3 149L692.5 149.1L692.9 149.1L693.1 149L693.3 149.1L693.7 149.1L693.9 148.9L694.1 149.1L694.3 149L694.5 149L694.7 149.1L695.3 149.1L695.5 149L695.7 149.1L695.9 149L696.1 149L696.3 149.1L696.5 149L696.7 148.9L696.9 149L697.1 149.1L697.7 149.1L697.9 149L698.1 149L698.3 149.1L698.5 149.1L698.7 149L698.9 149L699.1 149.1L699.3 149.1L699.5 149L699.7 149.1L699.9 149L700.1 149L700.3 149.1L701.1 149.1L701.3 149L701.5 148.8L701.7 149.1L701.9 148.9L702.1 148.9L702.3 149.1L702.5 149L702.7 149.1L702.9 149.1L703.1 149L703.3 149.1L703.5 149.1L703.7 149L703.9 148.9L704.1 149.1L704.3 149L704.5 149L704.7 149.1L704.9 149L705.1 149.1L705.3 149L705.5 149L705.7 148.9L705.9 149.1L706.9 149.1L707.1 149L707.3 148.8L707.5 149L707.7 149L707.9 149.1L708.3 149.1L708.5 149L708.7 149.1L709.3 149.1L709.5 149L709.7 149.1L709.9 149L710.1 148.9L710.3 148.9L710.5 149.1L710.7 149L710.9 149.1L711.3 149.1L711.5 149L711.7 149L711.9 148.9L712.1 148.9L712.3 149.1L712.5 149L712.7 149.1L712.9 148.9L713.1 149.1L713.3 148.9L713.5 148.8L713.9 148.8L714.1 149L714.3 149L714.5 149.1L714.7 149L714.9 149.1L715.1 149.1L715.3 148.9L715.5 148.9L715.7 149.1L715.9 148.8L716.1 149.1L716.3 149.1L716.5 148.9L716.7 148.9L716.9 149.1L717.1 149L717.3 149.1L717.5 149L717.7 149.1L717.9 148.9L718.1 149.1L718.3 149.1L718.5 149L718.7 149L718.9 149.1L719.1 149.1L719.3 149L719.5 148.9L719.7 149L719.9 149.1L720.1 149L720.3 149L720.5 148.9L720.7 149.1L720.9 149.1L721.1 148.9L721.3 149.1L721.7 149.1L721.9 148.9L722.1 149.1L722.3 149L722.5 149.1L722.7 148.9L722.9 149L723.1 149.1L723.3 149L723.5 149L723.7 149.1L723.9 149.1L724.1 148.9L724.3 149L724.5 149.1L724.7 149L724.9 149.1L725.1 149.1L725.3 148.9L725.5 149.1L725.7 149L725.9 149.1L726.1 149.1L726.3 148.9L726.5 149.1L726.7 149L726.9 149L727.1 148.9L727.3 148.9L727.5 149L727.7 149L727.9 148.9L728.1 148.9L728.3 149.1L728.5 149L728.7 149.1L728.9 148.8L729.1 148.9L729.3 149.1L729.5 148.9L729.7 149.1L729.9 149L730.1 149.1L730.3 149.1L730.5 149L730.7 149.1L730.9 149L731.1 148.9L731.5 148.9L731.7 149L731.9 149L732.1 149.1L732.3 149.1L732.5 148.9L732.7 149.1L732.9 149.1L733.1 149L733.3 149.1L734.3 149.1L734.5 149L734.7 149.1L734.9 149L735.1 149.1L735.3 149.1L735.5 149L735.7 149L735.9 149.1L736.1 149.1L736.3 148.9L736.5 149.1L736.7 149.1L736.9 149L737.1 149L737.3 149.1L737.5 149.1L737.7 148.9L737.9 148.9L738.1 149L738.3 149.1L738.5 149L738.7 148.9L738.9 149.1L739.1 149L739.3 149.1L739.5 149.1L739.7 149L739.9 149L740.1 149.1L740.3 149L740.7 149L740.9 149.1L741.1 149.1L741.3 149L741.5 148.6L741.7 148.2L741.9 147.9L742.1 147.9L742.3 148.2L742.5 148.6L742.7 148.9L742.9 149.1L743.1 148.8L743.3 149.1L743.5 149.1L743.7 149L743.9 148.9L744.1 149L744.3 149.1L744.7 149.1L744.9 149L745.1 149.1L745.5 149.1L745.7 149L745.9 149.1L746.1 149L746.3 149.1L746.5 149.1L746.7 149L746.9 149L747.1 149.1L747.3 149.1L747.5 148.9L747.7 149L748.1 149L748.3 149.1L748.9 149.1L749.1 148.9L749.3 149.1L749.5 148.8L749.7 149L749.9 149.1L750.1 148.9L750.3 148.9L750.5 149L750.7 149.1L750.9 149L751.1 149L751.3 149.1L751.7 149.1L751.9 149L752.1 149.1L752.3 149L752.5 149.1L752.7 149L752.9 149.1L753.1 149L753.3 149L753.5 148.9L753.7 149L753.9 149.1L754.1 149L754.3 149.1L754.5 149L754.9 149L755.1 149.1L755.3 149L755.7 149L755.9 149.1L756.1 149L756.3 149.1L756.7 149.1L756.9 148.9L757.1 148.9L757.3 149.1L757.7 149.1L757.9 149L758.1 148.9L758.3 149L758.5 149.1L758.7 148.9L758.9 149L759.1 149.1L759.3 149.1L759.5 149L759.7 149.1L759.9 149L760.1 149.1L760.3 149L760.5 148.9L760.7 148.9L760.9 149.1L761.1 149.1L761.3 148.9L761.5 149L761.7 149.1L761.9 148.9L762.1 149.1L762.9 149.1L763.1 148.9L763.3 149.1L763.5 149L763.7 148.9L763.9 149L763.9 149.7Z" fill="#0d0d0d" stroke="#0d0d0d" stroke-width="0.3" stroke-linejoin="round"/>
<path d="M67.3 262.8L67.5 262.8L67.7 262.6L67.9 262.8L68.1 262.7L68.3 262.8L68.5 262.5L68.7 262.7L68.9 262.4L69.1 262.8L69.3 262.6L69.5 262.8L69.7 262.8L69.9 262.7L70.1 262.8L70.3 262.8L70.5 262.6L70.7 262.7L70.9 262.8L71.1 262.3L71.3 262.7L71.5 262.8L71.7 262.7L71.9 262.8L72.3 262.8L72.5 262.3L72.7 262.7L72.9 262.7L73.1 262.6L73.3 262.3L73.5 262.8L73.7 262.8L73.9 262.2L74.1 262.8L74.3 262.8L74.5 262.6L74.7 262.2L74.9 262.8L75.1 262.8L75.3 262.6L75.5 262.8L75.7 262.8L75.9 262.6L76.1 262.7L76.3 262.6L76.5 262.8L76.7 262.4L76.9 262.4L77.1 262.7L77.3 262.8L77.5 262.6L77.7 262.6L77.9 262.8L78.1 262.8L78.3 262.5L78.5 262.7L78.7 262.8L78.9 262.7L79.3 262.7L79.5 262.8L79.7 262.3L79.9 262.7L80.1 262.8L80.3 262.5L80.5 262.6L80.7 262.4L80.9 261.5L81.1 260.6L81.3 260.6L81.5 261.5L81.7 262.3L81.9 262.8L82.1 262.8L82.3 262.5L82.5 262.8L82.7 262.8L82.9 262.4L83.1 262.5L83.3 262.6L83.5 262.8L83.7 262.2L83.9 262.6L84.1 262.5L84.3 262.6L84.5 262.8L84.9 262.8L85.1 262.3L85.3 262.8L85.7 262.8L85.9 262.6L86.1 262.6L86.3 262.7L86.5 262.8L86.7 262.8L86.9 262.7L87.1 262.7L87.3 262.5L87.5 262.7L87.7 262.8L87.9 262.6L88.1 262.8L88.5 262.8L88.7 262.6L88.9 262.3L89.1 262.5L89.3 262.5L89.5 262.7L89.7 262.7L89.9 262.8L90.7 262.8L90.9 262.5L91.1 262.6L91.3 262.5L91.5 262.4L91.7 262.8L91.9 262.5L92.1 262.3L92.3 262.7L92.5 262.5L92.7 262.7L92.9 262.8L93.1 262.7L93.3 262.8L93.5 262.7L93.7 262.8L93.9 262.6L94.1 262.8L94.3 262.3L94.5 262.4L94.7 262.8L94.9 262.8L95.1 262.7L95.3 262.6L95.5 262.6L95.7 262.1L95.9 261.7L96.1 261.7L96.3 262.1L96.5 262.6L96.7 262.8L97.3 262.8L97.5 262.5L97.7 262.8L97.9 262.5L98.1 262.7L98.3 262.8L98.5 262.8L98.7 262.2L98.9 262.8L99.1 262.8L99.3 262.4L99.5 262.7L99.7 262.7L99.9 262.4L100.1 262.8L100.3 262.6L100.5 262.8L100.9 262.8L101.1 262.5L101.3 262.7L101.5 262.8L101.7 262.8L101.9 262.4L102.1 262.5L102.3 262.8L102.5 262.2L102.7 262.8L102.9 262.8L103.1 262.7L103.3 262.5L103.5 262.4L103.7 262.5L103.9 262.8L104.3 262.8L104.5 262.7L104.7 262.8L104.9 262.7L105.1 262.8L106.3 262.8L106.5 262.6L106.7 262.7L106.9 262.8L107.1 262.6L107.3 262.6L107.5 262.4L107.7 262.8L108.1 262.8L108.3 262.7L108.5 262.6L108.7 262.7L108.9 262.8L109.1 262.6L109.3 262.7L109.5 262.7L109.7 262.8L109.9 262.7L110.1 262.8L110.3 262.8L110.5 262.7L110.7 262.3L110.9 262.5L111.1 262.7L111.3 262.7L111.5 262.5L111.7 262.4L111.9 262.4L112.1 262.7L112.3 260.8L112.5 256.9L112.7 253L112.9 252L113.1 252L113.3 253L113.5 256.9L113.7 260.8L113.9 262.8L114.1 262.6L114.3 262.8L114.5 262.8L114.7 262.6L114.9 262.8L115.1 262.8L115.3 262.2L115.5 262.8L115.9 262.8L116.1 262.7L116.3 262.7L116.5 262.5L116.7 262.5L116.9 262.8L117.7 262.8L117.9 262.6L118.1 262.7L118.3 262.5L118.5 262.5L118.7 262.7L118.9 262.3L119.1 262.8L119.5 262.8L119.7 262.5L119.9 262.7L120.1 262.8L120.3 262.6L120.5 262.5L120.7 262.7L120.9 262.8L121.1 262.5L121.5 262.5L121.7 262.8L121.9 262.6L122.1 262.6L122.3 262.8L122.5 262.5L122.7 262.7L122.9 262.8L123.1 262.2L123.3 262.7L123.5 262.8L123.7 262.7L123.9 262.6L124.1 262.5L124.3 262.7L124.5 262.8L125.1 262.8L125.3 262.7L125.5 262.8L125.7 262.7L125.9 262.8L126.1 262.8L126.3 262.7L126.5 262.8L126.7 262.5L126.9 262.8L127.1 262.7L127.3 262.7L127.5 262.8L127.7 262.6L127.9 262.7L128.1 262.8L128.3 262.6L128.5 262.5L128.7 262.1L128.9 261.6L129.1 261.6L129.3 262.1L129.5 262.6L129.7 262.8L130.1 262.8L130.3 262.7L130.5 262.8L130.7 262.6L130.9 262.6L131.1 262.8L131.3 262.8L131.5 262.3L131.7 262.3L131.9 262.5L132.1 262.8L132.5 262.8L132.7 262.4L132.9 262.6L133.1 262.8L133.3 262.8L133.5 262.7L133.7 262.8L133.9 262.7L134.1 262.6L134.3 262.5L134.5 262.7L134.7 262.8L134.9 262.7L135.1 262.3L135.3 262.6L135.5 262.8L135.7 262.4L135.9 262.7L136.1 262L136.3 262.8L136.5 262.7L136.7 262.8L136.9 262.6L137.1 262.8L137.5 262.8L137.7 262.7L137.9 262.8L138.1 262.8L138.3 262.3L138.5 262.5L138.7 262.5L138.9 262.8L139.1 262.6L139.3 262.8L139.5 262.8L139.7 262.6L140.1 262.6L140.3 262.7L140.5 262.8L140.7 262.8L140.9 262.6L141.1 262.8L141.3 262.8L141.5 262.6L141.7 262.8L141.9 262.8L142.1 262.5L142.3 262.8L142.5 262.4L142.7 262.6L142.9 262.5L143.1 262.5L143.3 262.8L143.5 262.7L143.7 262.8L143.9 262L144.1 261L144.3 260L144.5 259.8L144.7 260L144.9 261.1L145.1 262.1L145.3 262.7L145.5 262.5L145.7 262.7L145.9 262.8L146.3 262.8L146.5 262.4L146.7 262.6L146.9 262.6L147.1 262.7L147.3 262.8L147.5 262.8L147.7 262.5L147.9 262.8L148.1 262.8L148.3 262.4L148.5 262.4L148.7 262.6L148.9 262.6L149.1 262.7L149.3 262.4L149.5 262.8L149.7 262.7L149.9 262.6L150.1 262.4L150.3 262.8L150.5 262.7L150.7 262.8L151.1 262.8L151.3 262.7L151.5 262.5L151.7 262.8L152.1 262.8L152.3 262.6L152.5 262.6L152.7 262.8L152.9 262.6L153.1 262.8L153.3 262.6L153.5 262.8L153.9 262.8L154.1 262.7L154.3 262.8L154.5 262.7L155.1 262.7L155.3 262.5L155.5 262.8L155.7 262.7L155.9 262.7L156.1 262.8L156.3 262.6L156.5 262.8L156.9 262.8L157.1 262.7L157.3 262.6L157.5 262.6L157.7 262.8L157.9 262.6L158.1 262.6L158.3 261.4L158.5 260L158.7 258.6L158.9 260L159.1 261.4L159.3 262.7L159.5 262.5L159.7 262.2L159.9 262.6L160.1 262.8L160.3 262.3L160.5 262.8L160.9 262.8L161.1 262.6L161.3 262.5L161.5 262.5L161.7 262.8L161.9 262.4L162.1 262.7L162.3 262.8L162.5 262.7L162.9 262.7L163.1 262.6L163.3 262.8L163.5 262.4L163.7 262.8L163.9 262.6L164.1 262.8L164.3 262.7L164.5 262.7L164.7 262.8L164.9 262.6L165.1 262.6L165.3 262.8L165.9 262.8L166.1 262.7L166.3 262.7L166.5 262.4L166.7 262L166.9 260.3L167.1 258.6L167.3 258.6L167.5 260.3L167.7 262L167.9 262.7L168.1 262.6L168.3 262.7L168.5 258.8L168.7 254.8L168.9 251.8L169.1 251.8L169.3 254.8L169.5 258.8L169.7 262.8L169.9 262.7L170.1 262.7L170.3 262.5L170.5 262.7L170.7 262.6L170.9 262.2L171.1 262.6L171.3 262.6L171.5 262.5L171.7 262.8L171.9 262.6L172.3 262.6L172.5 262.5L172.9 262.5L173.1 262.8L173.3 262.6L173.5 262.8L173.7 262.4L173.9 262.7L174.1 262.8L174.3 262.7L174.5 262.8L174.7 262.5L174.9 262.8L175.1 237.7L175.3 208.9L175.5 183.8L175.9 183.8L176.1 208.9L176.3 237.7L176.5 262.4L176.7 257.2L176.9 249.8L177.1 242.3L177.3 242.3L177.5 249.8L177.7 257.2L177.9 262.6L178.1 262.8L178.3 262.6L178.5 262.7L178.7 262.6L178.9 262.7L179.1 262.8L179.3 262.7L179.5 262.5L179.7 262.8L179.9 262.6L180.1 262.8L180.3 262.6L180.5 262.7L180.7 262.8L180.9 262.5L181.1 262.8L181.3 262.7L181.5 262.8L181.7 262.8L181.9 262.6L182.1 262.8L182.9 262.8L183.1 262.3L183.3 262.8L183.5 262.5L183.7 261.8L183.9 261.1L184.1 261.1L184.3 261.8L184.5 262.5L184.7 262.6L184.9 262.7L185.1 262.8L185.3 262.6L185.5 262.7L185.7 262.6L185.9 262.6L186.1 262.4L186.3 262.8L186.9 262.8L187.1 262.6L187.3 262.7L187.5 262.7L187.7 262.8L187.9 262.8L188.1 262.7L188.3 262.8L188.5 262.8L188.7 262.7L188.9 262.8L189.1 262.8L189.3 262.4L189.5 262.8L189.7 262.6L189.9 262.6L190.1 262.5L190.3 262.8L190.5 262.6L190.7 262.1L190.9 261.6L191.1 261.6L191.3 262.1L191.5 262.6L191.7 262.8L191.9 262.8L192.1 262.6L192.3 262.8L192.5 262.2L192.7 262.5L192.9 262.4L193.1 262.7L193.3 262.8L193.5 262.7L193.7 262.8L193.9 262.6L194.1 262.7L194.3 262.6L194.5 262.8L194.7 262.8L194.9 262.7L195.1 262.8L195.3 262.8L195.5 262.6L195.7 262.3L195.9 262.8L196.1 262.5L196.3 262.8L196.5 262.8L196.7 262.6L196.9 262.6L197.1 262.8L197.3 262.6L197.5 262.7L197.7 262.4L197.9 262.5L198.1 257.7L198.3 247.6L198.5 237.5L198.7 235L198.9 235L199.1 242.6L199.3 252.7L199.5 262.8L199.7 261.3L199.9 259.3L200.1 257.3L200.3 256.8L200.5 258.3L200.7 260.3L200.9 262.3L201.1 262.7L201.3 262.8L201.5 262.5L201.7 262.8L201.9 262.7L202.1 262.8L202.3 262.4L202.5 262.5L202.7 262.8L203.7 262.8L203.9 262.5L204.1 262.8L204.3 262.8L204.5 262.7L204.7 262.6L204.9 262.5L205.1 262.6L205.3 262.8L205.5 262.8L205.7 262.7L205.9 262.8L206.1 262.6L206.3 247L206.5 228.9L206.7 213.1L207.1 213.1L207.3 228.9L207.5 247L207.7 262.8L207.9 261.9L208.1 260L208.3 258.2L208.5 257.3L208.7 258.2L208.9 260L209.1 261.9L209.3 262.5L209.5 262.8L209.7 262.7L209.9 262.7L210.1 262.8L210.3 262.6L210.5 262.8L210.7 262.8L210.9 262.5L211.1 262.8L211.3 262.8L211.5 262.6L211.7 262.8L212.3 262.8L212.5 262.6L212.7 262.8L212.9 262.8L213.1 262.6L213.3 262.3L213.5 261.3L213.7 260.3L213.9 260.3L214.1 261.3L214.3 262.3L214.5 262.5L214.7 262.6L214.9 262.5L215.1 262.8L215.3 262.7L215.5 262.8L215.7 262.8L215.9 262.6L216.1 262.6L216.3 262.8L216.5 262.8L216.7 262.4L216.9 262.6L217.1 262.7L217.3 262.6L217.5 262.7L217.7 262.8L217.9 262.8L218.1 262.7L218.3 262.6L218.5 262.8L219.1 262.8L219.3 262.5L219.5 262.6L219.7 262.4L219.9 262.8L220.1 262.8L220.3 262.3L220.5 262.6L220.7 262.1L220.9 261.5L221.1 261.6L221.3 262.1L221.5 262.6L221.9 262.6L222.1 262.7L222.3 262.6L222.5 262.5L222.7 262.5L222.9 262.4L223.1 262.5L223.3 262.7L223.5 262.8L223.7 262.6L223.9 262.8L224.1 262.2L224.3 262.8L224.7 262.8L224.9 262.6L225.1 262.7L225.3 262.6L225.5 262.7L225.7 262.8L225.9 262.5L226.1 262.8L226.3 262.8L226.5 262.5L226.7 262.6L226.9 262.8L227.1 262.8L227.3 262.5L227.5 262.5L227.7 262.8L227.9 262.5L228.1 260.5L228.3 256.9L228.5 253.4L228.7 252.9L230.1 252.9L230.3 253.4L230.5 256.9L230.7 260.5L230.9 262.8L231.1 262.7L231.3 262.6L231.5 262.8L231.7 262.8L231.9 262.5L232.1 262.6L232.3 262.8L232.5 262.5L232.7 262.6L232.9 262.7L233.1 262.4L233.3 262.6L233.5 262.6L233.7 262.5L233.9 262.6L234.1 262.4L234.3 262.7L234.5 262.8L234.7 262.4L234.9 262.5L235.1 262.6L235.3 262.7L235.7 262.7L235.9 262.8L236.1 262.6L236.3 262.7L236.5 261.3L236.7 259.8L236.9 258.3L237.1 259.8L237.3 261.3L237.5 262.2L237.7 262.8L237.9 260.9L238.1 257.1L238.3 253.3L238.5 252.4L239.1 252.4L239.3 253.3L239.5 257.1L239.7 260.9L239.9 261.5L240.1 260.1L240.3 258.8L240.5 260.1L240.7 261.5L240.9 262.4L241.1 262.7L241.3 262.8L241.5 262.5L241.7 262.5L241.9 262.8L242.1 262.8L242.3 262.2L242.5 262.7L242.7 262.8L242.9 262.5L243.1 262.4L243.3 262.8L243.5 262.4L243.7 262.6L243.9 262.7L244.1 262.8L244.3 262.6L244.5 262.8L244.7 262.7L244.9 262.8L245.1 262.8L245.3 262.6L245.5 262.4L245.7 261.7L245.9 261L246.1 261L246.3 261.7L246.5 262.4L246.7 262.7L246.9 262.5L247.1 262.8L247.5 262.8L247.7 262.7L247.9 262.2L248.1 262.7L248.3 262.7L248.5 262.6L248.7 262.5L248.9 262.7L249.1 262.4L249.3 262.8L249.5 262.5L249.7 262.6L249.9 262.5L250.1 262.4L250.3 262.8L250.5 262.6L250.7 262.7L250.9 262.8L251.3 262.8L251.5 262.5L251.7 262.8L251.9 262.8L252.1 262.7L252.3 262.4L252.5 262.7L252.7 262.4L252.9 262.7L253.1 262.8L253.3 262.8L253.5 262.7L253.7 262.3L253.9 262.7L254.1 262.8L254.3 262.6L254.5 262.6L254.7 262.2L254.9 261.7L255.1 261.7L255.3 262.2L255.5 262.6L255.7 262.7L255.9 262.7L256.1 262.8L256.3 262.5L256.5 262.8L256.9 262.8L257.1 262.5L257.3 262.8L257.5 262.8L257.7 262.1L257.9 262.8L258.1 262.8L258.3 262.6L258.5 262.6L258.7 262.7L258.9 262.8L259.1 262.6L259.3 262.8L259.5 262.7L259.7 262.6L259.9 262.8L260.3 262.8L260.5 262.6L260.7 262.6L260.9 262.8L261.1 262.7L261.3 262.6L261.5 262.5L261.7 262.6L261.9 262.7L262.1 262.8L262.3 262.6L262.5 262.5L262.7 262.7L262.9 262.8L263.1 262.3L263.3 262.7L263.5 262.8L263.7 262.6L263.9 262.8L264.1 262.8L264.3 262.5L264.5 262.7L264.7 262.5L264.9 262.5L265.1 262.8L265.3 262.6L265.5 262.8L265.7 262.7L266.1 262.7L266.3 262.8L266.5 262.6L266.7 262.7L266.9 262.6L267.1 262.8L267.3 262.7L267.5 262.8L268.3 262.8L268.5 261.8L268.7 259.7L268.9 257.5L269.1 256.5L269.3 256.5L269.5 257.6L269.7 259.7L269.9 261.8L270.1 262.3L270.3 261.3L270.5 260.3L270.7 260.3L270.9 261.3L271.1 262.3L271.3 262.7L271.5 262.8L271.7 262.7L271.9 262.8L272.1 262.7L272.5 262.7L272.7 262.8L272.9 262.5L273.1 262.8L273.3 262.6L273.5 262.6L273.7 262.8L273.9 262.2L274.1 262.7L274.3 262.6L274.5 262.8L274.7 262.6L274.9 262.8L275.1 262.6L275.3 262.8L275.5 262.8L275.7 262.6L275.9 262.5L276.1 262.8L276.7 262.8L276.9 262.2L277.1 260.9L277.3 259.6L277.5 259L277.7 259.6L277.9 260.9L278.1 262.2L278.3 262.8L278.5 262.6L278.7 262.8L278.9 262.7L279.1 262.6L279.3 262.7L279.5 262.5L279.7 262.6L279.9 262.8L280.3 262.8L280.5 262.6L280.7 262.7L280.9 262.7L281.1 262.8L281.3 262.5L281.5 262.5L281.7 262.6L281.9 262.8L282.1 262.2L282.3 262.5L282.5 262.8L282.7 262.5L282.9 262.7L283.1 262.8L283.3 262.8L283.5 262.6L283.7 262.6L283.9 262.7L284.1 262.8L284.3 262.8L284.5 262.7L284.7 262.8L284.9 262.8L285.1 262.6L285.3 262.4L285.5 262.8L285.7 262.5L285.9 262.8L286.1 262.5L286.3 262.6L286.5 262.7L286.7 262.7L286.9 262.8L287.1 262.8L287.3 262.5L287.5 262.6L287.7 262.2L287.9 262.8L288.1 262.8L288.3 262.7L288.5 262.7L288.7 262.8L288.9 262.8L289.1 262.7L289.3 262.4L289.5 262.6L289.7 262.2L289.9 261.7L290.1 261.7L290.3 262.2L290.5 262.6L290.7 262.6L290.9 262.8L291.3 262.8L291.5 262.5L291.7 262.5L291.9 262.8L292.1 262.6L292.3 262.8L292.5 262.7L292.7 262.7L292.9 262.5L293.1 262.8L293.3 262.8L293.5 262.5L293.7 262.8L294.1 262.8L294.3 262.4L294.5 262.7L294.7 262.5L294.9 262.7L295.1 262.8L295.3 262.6L295.5 262.6L295.7 262.8L295.9 262.8L296.1 262.1L296.3 262.3L296.5 262.6L296.7 262.6L296.9 262.5L297.1 262.6L297.3 262.8L297.5 262.8L297.7 262.5L297.9 262.4L298.1 262.5L298.3 262.5L298.5 262.7L298.7 262.5L298.9 262.4L299.1 262.6L299.3 262.5L299.5 262.5L299.7 262.8L299.9 262.5L300.1 262.8L300.3 262.8L300.5 262.4L300.7 262.8L300.9 262.7L301.1 262.5L301.3 262.6L301.5 262.8L301.7 262.8L301.9 262.6L302.1 262.6L302.3 262.7L302.5 262.8L302.7 262.8L302.9 262.7L303.1 262.7L303.3 262.5L303.5 262.8L303.7 262.5L303.9 262.8L304.1 262.8L304.3 262.5L304.5 262.8L304.7 262.8L304.9 262.7L305.1 262.8L305.5 262.8L305.7 262.7L305.9 262.8L306.1 262.7L306.3 262.7L306.5 262.6L306.7 262.8L306.9 262.7L307.1 262.8L307.5 262.8L307.7 262.6L307.9 262.6L308.1 262.3L308.3 262.8L308.5 262.7L308.7 262.3L308.9 262.8L309.3 262.8L309.5 262.6L309.7 262.2L309.9 261.8L310.1 261.8L310.3 262.2L310.5 262.6L310.7 262.8L310.9 262.8L311.1 262.6L311.3 262.7L311.5 262.8L312.1 262.8L312.3 262.6L312.9 262.6L313.1 262.8L313.3 262.7L313.7 262.7L313.9 262.8L314.1 262.8L314.3 262.7L314.5 262.6L314.7 262.8L314.9 262.8L315.1 262.7L315.3 262.6L315.5 262.8L316.3 262.8L316.5 262.5L316.7 262.8L316.9 262.3L317.1 262.7L317.3 262.6L317.5 262.7L317.7 262.5L317.9 262.6L318.1 262.5L318.3 262.6L318.7 262.6L318.9 262.5L319.1 262.7L319.3 262.8L319.5 262.4L319.7 262.8L319.9 262.6L320.1 262.3L320.3 262.8L320.9 262.8L321.1 262.6L321.3 262.8L321.5 262.7L321.7 262.8L321.9 262.6L322.1 262.8L322.7 262.8L322.9 262.4L323.1 262.8L323.3 262.7L323.5 262.8L323.9 262.8L324.1 262.5L324.3 262.8L324.5 262.8L324.7 262.7L324.9 262.8L325.1 262.6L325.3 262.8L325.5 262.8L325.7 262.6L325.9 262.5L326.1 262.6L326.3 262.8L326.5 262.5L326.7 262.5L326.9 262.8L327.1 262.6L327.3 262.7L327.5 262.7L327.7 262.6L327.9 262.5L328.1 262.7L328.3 262.7L328.5 262.8L328.7 262.8L328.9 261.7L329.1 260.2L329.3 258.7L329.5 258.3L329.7 258.7L329.9 260.2L330.1 261.7L330.3 262.6L330.5 262.7L330.7 262.8L330.9 262.6L331.1 262.8L331.3 262.5L331.5 262.8L331.7 262.8L331.9 262.7L332.1 262.8L332.3 262.6L332.5 262.6L332.7 262.8L332.9 262.8L333.1 262.3L333.3 262.5L333.5 262.6L333.7 262.7L333.9 262.4L334.1 262.8L334.3 262.8L334.5 262.7L334.7 262.8L334.9 262.8L335.1 262.3L335.3 262.7L335.5 262.8L336.1 262.8L336.3 262.7L336.5 262.8L336.7 262.8L336.9 262.7L337.1 262.8L337.3 262.8L337.5 262.7L337.7 262.8L337.9 262.7L338.1 262.8L338.3 262.5L338.5 262.4L338.7 262.6L338.9 262.7L339.1 262.5L339.3 262.6L339.7 262.6L339.9 262.8L340.1 262.6L340.5 262.6L340.7 262.7L340.9 262.8L341.1 262.6L341.3 262.8L341.5 262.8L341.7 262.4L341.9 262.5L342.1 262.8L342.3 262.4L342.5 262.8L342.7 262.6L342.9 262.6L343.1 262.7L343.3 262.7L343.5 262.5L343.7 262.6L343.9 262.8L344.1 262.8L344.3 262.5L344.5 262.6L344.7 262.8L344.9 262.8L345.1 262.6L345.3 262.8L345.7 262.8L345.9 262.7L346.1 262.8L346.3 262.5L346.5 262.8L346.7 262.5L346.9 262.8L347.1 262.8L347.3 262.6L347.5 262.5L347.7 262.7L347.9 262.8L348.1 262.4L348.3 262.5L348.5 262.6L348.7 262.8L348.9 262.5L349.1 262.6L349.3 262.8L349.5 262.4L349.7 262.2L349.9 261.8L350.1 261.8L350.3 262.2L350.5 262.6L350.7 262.8L350.9 262.5L351.1 262.8L351.5 262.8L351.7 262.6L351.9 262.5L352.1 262.8L352.3 262.4L352.7 262.4L352.9 262.8L353.1 262.4L353.3 262.2L353.5 262.8L353.7 262.8L353.9 262.4L354.1 262.6L354.3 262.7L354.5 262.7L354.7 262.8L354.9 262.8L355.1 262.7L355.3 262.6L355.5 262.5L355.7 262.5L355.9 262.8L356.1 262.7L356.3 262.4L356.5 262.8L356.7 262.6L356.9 262.8L357.1 262.7L357.3 262.3L357.5 262.6L357.7 262.8L358.1 262.8L358.3 262.7L358.5 262.8L358.7 262.7L358.9 262.7L359.1 262.8L359.3 262.8L359.5 262.5L359.7 262.5L359.9 262.3L360.1 262.5L360.3 262.6L360.5 262.7L360.7 262.5L360.9 262.6L361.1 262.7L361.3 262.3L361.5 262.7L361.7 262.7L361.9 262.5L362.1 262.6L362.3 262.7L362.5 262.5L362.7 262.1L362.9 262.8L363.1 262.6L363.3 262.6L363.5 262.7L363.7 262.4L363.9 262.7L364.1 262.4L364.3 262.8L364.5 262.7L364.7 262.8L364.9 262.6L365.3 262.6L365.5 262.7L365.7 262.8L365.9 262.8L366.1 262.5L366.3 262.7L366.5 262.5L366.7 262.8L367.1 262.8L367.3 262.5L367.5 262.8L367.7 262.8L367.9 262.5L368.1 262.7L368.5 262.7L368.7 262.5L368.9 262.6L369.1 262.7L369.3 262.7L369.5 262.5L369.7 262.5L369.9 262.8L370.1 262.5L370.3 262.8L370.9 262.8L371.1 262.6L371.3 262.8L371.5 262.6L371.7 262L371.9 261.5L372.1 261.6L372.3 262.1L372.5 262.6L372.7 262.8L372.9 262.5L373.1 262.7L373.3 262.7L373.5 262.6L373.7 262.8L374.1 262.8L374.3 262.4L374.5 262.6L374.7 262.3L374.9 262.5L375.1 262.5L375.3 262.8L375.7 262.8L375.9 262.7L376.1 262.8L376.3 262.8L376.5 262.6L376.7 262.6L376.9 262.8L377.1 262.7L377.3 262.4L377.5 262.5L377.7 262.8L377.9 262.5L378.1 262.8L378.5 262.8L378.7 262.5L378.9 262.8L379.3 262.8L379.5 262.6L379.7 262.8L379.9 262.7L380.1 262.8L380.5 262.8L380.7 262.6L380.9 262.7L381.1 262.6L381.3 262.7L381.5 262.7L381.7 262.8L381.9 262.7L382.1 261.9L382.3 261.1L382.5 260.2L382.7 261.1L382.9 261.9L383.1 262.8L383.3 262.8L383.5 262.5L383.7 262.7L384.1 262.7L384.3 262.5L384.5 262.5L384.7 262.8L384.9 262.7L385.1 262.5L385.3 262.8L385.5 262.7L385.7 262.8L386.1 262.8L386.3 262.7L386.5 262.6L386.7 262.8L387.3 262.8L387.5 262.7L387.7 262.8L387.9 262.4L388.1 262.8L388.3 262.5L388.5 262.8L388.7 262.8L388.9 262.4L389.1 262.8L389.5 262.8L389.7 262.7L389.9 262.4L390.1 262.8L390.3 262.8L390.5 262.7L390.7 262.8L390.9 262.8L391.1 262.7L391.3 262.8L391.7 262.8L391.9 262.6L392.1 262.8L392.3 262.6L392.5 262.5L392.7 262.7L392.9 262.8L393.1 262.8L393.3 262.4L393.5 262.5L393.7 262.8L393.9 262.8L394.1 262.6L394.3 262.8L394.5 262.6L394.7 262.5L394.9 262.8L395.1 262.8L395.3 262.3L395.5 262.8L395.7 262.7L395.9 262.8L396.1 262.8L396.3 262.5L396.5 262.4L396.7 262.2L396.9 261.8L397.1 261.8L397.3 262.2L397.5 262.6L397.7 262.8L398.5 262.8L398.7 262.7L398.9 262.8L399.1 262.8L399.3 262.2L399.5 262.5L399.7 262.8L399.9 262.5L400.1 262.6L400.3 262.7L400.5 262.6L400.7 262.8L400.9 262.8L401.1 262.3L401.3 262.7L401.5 262.4L401.7 262.8L402.1 262.8L402.3 262.7L402.5 262.7L402.7 262.5L402.9 262.6L403.1 262.7L403.3 262.6L403.5 262.6L403.7 262.7L403.9 262.8L404.1 262.8L404.3 262.6L404.5 262.8L404.7 262.4L404.9 262.8L405.1 262.7L405.3 262.8L405.5 262.7L405.7 262.5L405.9 262.4L406.1 262.5L406.3 262.6L406.5 262.7L406.7 262.8L406.9 262.6L407.1 262.8L407.3 262.7L407.5 262.7L407.7 262.5L407.9 262.8L408.1 262.5L408.3 262.7L408.5 262.4L408.7 262.7L408.9 262.7L409.1 262.8L409.3 262.5L409.5 262.7L409.7 262.8L409.9 262.6L410.1 262.6L410.3 262.8L410.5 262.4L410.7 262.7L410.9 262.7L411.1 262.6L411.3 262.8L411.5 262.6L411.7 262.8L411.9 262.7L412.1 262.5L412.3 262.8L412.5 262.8L412.7 262.4L412.9 262.7L413.1 262.3L413.3 260.5L413.5 258.7L413.7 257.3L413.9 257.3L414.1 258.7L414.3 260.5L414.5 262.3L414.7 262.8L414.9 262.8L415.1 262.6L415.3 262.6L415.5 262.7L415.9 262.7L416.1 262.8L416.3 262.8L416.5 262.7L416.7 262.5L416.9 262.8L417.1 262.7L417.3 262.6L417.5 262.8L417.7 262.6L417.9 262.7L418.1 262.5L418.3 262.8L418.5 262.8L418.7 262.4L418.9 262.3L419.1 262.6L419.3 262.4L419.5 262.8L419.7 262.5L419.9 262.6L420.1 262.6L420.3 262.8L420.5 262.7L420.7 262.6L420.9 262.5L421.1 262.6L421.3 262.6L421.5 262.5L421.7 262.4L421.9 262.8L422.1 262.8L422.3 262.7L422.5 262.4L422.7 262.3L422.9 262.5L423.1 262.8L423.3 262.6L423.5 262.8L423.7 262.5L423.9 262.7L424.1 262.4L424.3 262.8L424.5 262.4L424.7 262.8L424.9 262.6L425.1 262.6L425.3 262.8L425.5 262.8L425.7 262.7L425.9 262.8L426.1 262.8L426.3 262.6L426.7 262.6L426.9 262.8L427.1 262.7L427.3 262.7L427.5 262.5L427.7 262.4L427.9 262.8L428.1 262.7L428.3 262.8L428.5 262.3L428.7 262.6L428.9 262.6L429.1 262.1L429.3 261.3L429.5 260.6L429.7 261.3L429.9 262.1L430.1 262.7L430.3 262.8L430.5 262.7L430.7 262.6L430.9 262.7L431.1 262.7L431.3 262.2L431.5 262.8L431.7 262.8L431.9 262.5L432.1 262.8L432.3 262.3L432.5 262.8L432.7 262.7L432.9 262.3L433.1 262.8L433.3 262.5L433.5 262.6L433.7 262.7L433.9 262.4L434.1 262.8L434.3 262.6L434.5 262.8L434.7 262.4L434.9 262.8L435.1 262.7L435.3 262.8L435.5 262.8L435.7 262.5L435.9 262.8L436.1 262.6L436.3 262.8L436.7 262.8L436.9 262.6L437.1 262.8L437.3 262.6L437.5 262.5L437.7 262.7L437.9 262.7L438.1 262.8L438.3 262.8L438.5 262.7L438.7 262.7L438.9 262.4L439.1 262.7L439.3 262.8L439.5 262.5L439.7 262.8L440.3 262.8L440.5 262.6L440.7 262.1L440.9 261.6L441.1 261.6L441.3 262.1L441.5 262.3L441.7 262.8L441.9 262.8L442.1 262.5L442.3 262.4L442.5 262.8L442.7 262.4L442.9 262.7L443.1 262.8L443.3 262.7L443.5 262.5L443.7 262.4L443.9 262.8L444.1 262.8L444.3 262.7L444.5 262.8L444.7 262.8L444.9 262.6L445.1 262.7L445.3 262.8L445.5 262.8L445.7 262.4L445.9 262.8L446.1 262.3L446.3 262.8L446.5 262.8L446.7 262.7L446.9 262.8L447.1 262.7L447.3 262.7L447.5 262.8L447.7 262.3L447.9 262.3L448.1 262.8L449.1 262.8L449.3 262.5L449.5 262.5L449.7 262.8L449.9 262.6L450.1 262.6L450.3 262.8L450.5 262.7L450.7 262.8L450.9 262.5L451.1 262.4L451.3 262.6L451.5 262.4L451.7 262.8L451.9 262.8L452.1 262.4L452.3 262.7L452.5 262.6L452.7 262.8L452.9 262.6L453.1 260.3L453.3 255.2L453.5 250.1L453.7 248.8L455.5 248.8L455.7 250.1L455.9 255.2L456.1 260.3L456.3 261.8L456.5 260.8L456.7 259.8L456.9 260.8L457.1 261.8L457.3 262.8L457.5 262.8L457.7 262.6L457.9 262.8L458.1 262.8L458.3 262.4L458.5 262.8L458.7 262.8L458.9 262.7L459.1 262.7L459.3 262.8L459.5 262.8L459.7 262.6L459.9 262.8L460.1 262.6L460.3 262.8L460.5 262.5L460.7 262.8L461.1 262.8L461.3 262.5L461.5 262.7L461.7 262.8L461.9 262.6L462.1 262.7L462.3 262.8L462.5 262.6L462.7 262.8L462.9 262.5L463.1 262.2L463.3 262.8L463.5 262.7L463.7 262.8L463.9 262.6L464.1 262.8L464.3 262.3L464.5 262.5L464.7 262.3L464.9 262.5L465.1 262.8L465.3 262.7L465.5 262.4L465.7 262.5L465.9 262.8L466.1 262.7L466.3 262.4L466.5 262.4L466.7 262.8L466.9 262.6L467.1 262.6L467.3 262.8L467.5 262.8L467.7 262.5L467.9 262.7L468.1 262.7L468.3 262.5L468.5 262.5L468.7 262.6L468.9 262.8L469.3 262.8L469.5 262.5L469.7 261.9L469.9 261.3L470.1 261.3L470.3 261.9L470.5 262.5L470.7 262.8L470.9 262.4L471.1 262.4L471.3 262.7L471.5 262.7L471.7 262.5L471.9 262.8L472.1 262.5L472.3 262.8L472.5 262.8L472.7 262.6L472.9 262.7L473.1 262.8L473.3 262.8L473.5 262.7L473.7 262.8L473.9 262.3L474.1 262.8L474.3 262.7L474.5 262.1L474.7 262.8L474.9 262.6L475.1 262.6L475.3 262.7L475.5 262.8L475.7 262.8L475.9 262.7L476.1 262.8L476.3 262.4L476.5 262.7L476.7 262.6L476.9 262.8L477.1 262.8L477.3 262.6L477.5 262.8L477.7 262.6L477.9 262.8L478.1 262.8L478.3 262.6L478.5 262.8L478.7 262.2L478.9 262.8L479.1 262.4L479.3 262.4L479.5 262.8L479.7 262.6L479.9 262.5L480.1 262.6L480.3 262.6L480.5 262.8L480.7 262.6L480.9 262.8L481.3 262.8L481.5 262.6L481.9 262.6L482.1 262.8L482.3 262.7L482.5 262.8L482.7 262.7L482.9 262.7L483.1 262.8L483.3 262.4L483.5 262.8L483.7 262.6L483.9 262.8L484.1 262.5L484.3 262.8L484.5 262.5L484.7 262.8L485.1 262.8L485.3 262.7L485.5 262.8L485.7 261.3L485.9 255.3L486.1 249.3L486.3 246.3L486.7 246.3L486.9 249.3L487.1 255.3L487.3 261.3L487.5 260.4L487.7 257.3L487.9 254.1L488.3 254.1L488.5 257.3L488.7 260.4L488.9 262.7L489.1 262.8L489.3 262.8L489.5 262.7L489.7 262.8L490.1 262.8L490.3 262.4L490.5 262.8L490.7 262.7L490.9 262L491.1 262.7L491.5 262.7L491.7 262.5L491.9 262.6L492.1 262.6L492.3 262.8L492.5 262.7L492.7 262.6L492.9 262.7L493.1 262.6L493.3 262.5L493.5 262.4L493.7 262.7L493.9 262.6L494.1 262.8L494.3 262.8L494.5 262.6L494.7 262.8L494.9 243.4L495.1 204.5L495.3 165.7L495.5 156L496.7 156L496.9 165.7L497.1 204.5L497.3 229L497.5 206.4L497.7 200.8L497.9 206.4L498.1 229L498.3 251.5L498.5 261.6L498.7 260.5L498.9 259.3L499.1 260.5L499.3 261.6L499.5 262.5L499.7 262.8L499.9 262.7L500.1 262.8L500.3 262.7L500.5 262.8L500.7 262.8L500.9 262.5L501.1 262.8L501.3 262.8L501.5 262.5L501.7 262.8L502.3 262.8L502.5 262.6L502.7 262.5L502.9 262.6L503.1 262.8L503.3 262.8L503.5 262.6L503.7 262.8L504.1 262.8L504.3 262.5L504.5 262.8L504.7 262.5L504.9 262.6L505.1 262.8L505.9 262.8L506.1 261.3L506.3 258.3L506.5 255.3L506.7 254.5L508.3 254.5L508.5 255.3L508.7 258.3L508.9 261.3L509.1 262.4L509.3 262.6L509.5 262.7L509.7 262.8L509.9 262.8L510.1 262.4L510.3 262.7L510.5 262.5L510.7 262.8L510.9 262.6L511.1 262.5L511.3 262.7L511.5 262.8L511.7 262.2L511.9 262.4L512.1 262.4L512.3 262.8L512.5 262.4L512.7 262.6L512.9 262.3L513.1 262.7L513.3 262.8L513.5 262.4L513.7 261.7L513.9 261L514.1 261L514.3 261.7L514.5 262.4L514.7 262.3L514.9 262.8L515.1 262.8L515.3 262.7L515.5 262.6L515.7 262.8L516.1 262.8L516.3 262.7L516.5 262.7L516.7 262.8L516.9 262.7L517.1 262.8L517.3 262.8L517.5 262.5L517.7 261.9L517.9 261.3L518.1 261.3L518.3 261.9L518.5 262.5L518.7 262.8L519.3 262.8L519.5 262.3L519.7 262.6L519.9 262.7L520.1 262.8L520.5 262.8L520.7 262.7L520.9 262.5L521.1 262.8L521.3 262.6L521.5 262.8L521.7 262.6L521.9 262.8L522.1 262.6L522.3 262.4L522.5 262.8L522.7 262.8L522.9 262.5L523.1 262.8L523.7 262.8L523.9 262.5L524.1 262.8L524.9 262.8L525.1 257.9L525.3 252.9L525.5 249.2L527.1 249.2L527.3 252.9L527.5 257.9L527.7 262.2L527.9 262.8L528.1 262.1L528.3 260.8L528.5 259.5L528.7 259.5L528.9 260.8L529.1 262.1L529.3 262.8L529.5 262.7L529.7 262.7L529.9 262.5L530.1 262.6L530.3 262.6L530.5 262.8L530.7 262.8L530.9 262.2L531.1 262.8L531.5 262.8L531.7 262.7L531.9 262.8L532.1 262.6L532.3 262.8L533.3 262.8L533.5 262.6L533.7 262.8L533.9 262.3L534.1 262.5L534.3 262.7L534.5 262.8L534.7 262.5L534.9 262.6L535.1 262.8L535.3 262.7L535.5 262.7L535.7 262.8L535.9 250.9L536.1 239.1L536.3 230.2L538.1 230.2L538.3 239.1L538.5 250.9L538.7 262.8L538.9 262.3L539.1 261.3L539.3 260.3L539.5 260.3L539.7 261.3L539.9 262.3L540.1 262.8L540.3 262.5L540.5 262.7L540.7 262.8L540.9 262.8L541.1 262.5L541.3 262.4L541.5 262.3L541.7 262.2L541.9 262.8L542.1 262.7L542.3 262.6L542.5 262.8L542.7 262.7L542.9 262.5L543.1 262.8L543.3 262.6L543.5 262.8L543.7 262.8L543.9 262.7L544.1 262.6L544.3 262.6L544.5 262.5L544.7 262.8L544.9 262.6L545.1 262.8L545.3 262.7L545.5 262.8L545.7 262.7L545.9 262.8L546.1 262.7L546.3 262.5L546.5 262.5L546.7 262.8L546.9 262.4L547.1 262.6L547.3 262.4L547.5 262.7L547.7 262.8L547.9 262.7L548.1 262.8L548.3 262.2L548.5 261.1L548.7 260L548.9 260L549.1 261.1L549.3 262.2L549.5 262.8L549.7 262.6L549.9 262.5L550.1 262.7L550.3 262.6L550.5 262.6L550.7 262.8L550.9 262.6L551.1 262.8L551.3 262.7L551.5 262.7L551.7 262.6L551.9 262.4L552.1 262.8L553.1 262.8L553.3 262.7L553.5 262.8L553.7 262.7L554.1 262.7L554.3 262.5L554.5 262.6L554.7 262.7L554.9 262.4L555.1 262.8L555.3 262.8L555.5 262.6L555.7 262.1L555.9 261.6L556.1 261.6L556.3 262.1L556.5 262.2L556.7 262.8L556.9 262.5L557.1 262.4L557.3 262.8L557.9 262.8L558.1 262.7L558.3 262.8L558.5 262.8L558.7 262.7L558.9 262.3L559.1 262.8L559.3 262.7L559.5 262.8L559.7 262.7L559.9 262.8L560.5 262.8L560.7 262.7L560.9 262.5L561.1 262.6L561.3 262.7L561.5 262.6L561.7 262.8L561.9 262.6L562.1 262.1L562.3 262.6L562.5 262.3L562.7 262.6L562.9 262.8L563.1 262.7L563.3 262.8L563.5 262.6L563.7 262.5L563.9 262.6L564.1 262.5L564.3 262.7L564.5 262.8L564.7 262.8L564.9 262.6L565.1 262.5L565.3 262.5L565.5 262.8L565.7 262.6L566.1 262.6L566.3 262.8L567.3 262.8L567.5 262.7L567.7 261.7L567.9 260.5L568.1 259.4L568.3 260.5L568.5 261.7L568.7 262.7L568.9 262.8L569.1 261.8L569.3 260.8L569.5 259.8L569.7 260.8L569.9 261.8L570.1 262.8L570.3 262.3L570.5 261.2L570.7 260.1L570.9 260.1L571.1 261.2L571.3 262.3L571.5 262.6L571.7 262.8L571.9 262.7L572.1 262.8L573.7 262.8L573.9 262.7L574.1 262.6L574.3 262.7L574.5 262.8L574.7 262.6L574.9 262.6L575.1 262.8L575.3 262.5L575.5 262.8L575.7 262.7L575.9 262.6L576.1 262.5L576.3 262.4L576.5 262.6L576.7 262.5L576.9 262.4L577.1 262.4L577.3 262.7L577.5 262.6L577.7 262.8L577.9 257.4L578.1 252L578.3 248L578.9 248L579.1 252L579.3 257.4L579.5 262.8L579.7 260.7L579.9 256.5L580.1 252.3L580.3 251.3L580.9 251.3L581.1 252.3L581.3 256.5L581.5 260.7L581.7 262.8L581.9 262.4L582.1 262.8L582.3 262.8L582.5 262.5L582.7 262.8L582.9 262.8L583.1 262.7L583.3 262.6L583.5 262.8L583.7 262.7L583.9 262.8L584.1 262.8L584.3 262.7L584.5 262.8L584.7 262.7L584.9 262.6L585.1 262.8L585.3 262.7L585.5 262.7L585.7 262.8L585.9 262.7L586.1 262.8L586.3 262.6L586.5 262.7L586.7 262.3L586.9 262.8L587.1 262.8L587.3 262.6L587.5 262.5L587.7 262.8L588.1 262.8L588.3 262.7L588.5 262.8L588.7 262.5L588.9 262.4L589.1 262.8L589.3 262.5L589.5 262.6L589.7 262.1L589.9 261.6L590.1 261.6L590.3 262L590.5 262.6L590.7 262.6L590.9 262.7L591.1 262.8L591.3 262.7L591.5 262.6L591.7 262.8L591.9 262.8L592.1 262.5L592.3 262.8L592.5 262.8L592.7 262.7L592.9 262.5L593.3 262.5L593.5 262.7L593.7 262.7L593.9 262.6L594.1 262.4L594.3 262.7L594.5 262.8L594.7 262.5L594.9 262.7L595.1 262.8L595.3 262.8L595.5 262.6L595.7 262.7L596.1 262.7L596.3 262.5L596.5 262.8L596.7 262.6L596.9 262.6L597.1 262.7L597.3 262.4L597.5 262.4L597.7 262.8L597.9 262.5L598.1 262.8L598.3 262.3L598.5 262.5L598.7 262.8L598.9 262.5L599.1 262.6L599.3 262.8L599.5 262.8L599.7 262.7L599.9 262.5L600.1 262.5L600.3 262.6L600.5 262.6L600.7 262.8L600.9 262.8L601.1 262.7L601.3 262.8L601.7 262.8L601.9 262.5L602.1 262.7L602.3 262.6L602.5 262.8L602.7 262.8L602.9 262.5L603.1 262.6L603.3 262.5L603.5 262.8L603.7 262.8L603.9 262.6L604.1 262.8L604.3 262.4L604.5 262.4L604.7 262.2L604.9 261.8L605.1 261.8L605.3 262.2L605.5 262.6L605.7 262.8L605.9 262.7L606.1 262.3L606.3 262.5L606.5 262.6L606.7 262.8L606.9 262.2L607.1 262.4L607.3 262.6L607.5 262.6L607.7 262.7L607.9 262.6L608.1 262.5L608.3 262.7L608.5 262.7L608.7 262.8L608.9 262.8L609.1 262.7L609.3 262.6L609.5 262.8L609.7 262.5L609.9 262.8L610.1 262.5L610.3 262.5L610.5 262.4L610.7 262.6L610.9 262.8L611.1 262.3L611.3 262.8L611.5 262.4L611.7 262.8L611.9 262.7L612.1 262.8L612.3 262.7L612.5 262.6L612.7 262.5L612.9 262.8L613.3 262.8L613.5 262.5L613.7 262.6L613.9 262.5L614.1 262.7L614.3 262.3L614.5 262.6L614.7 262.5L614.9 262.5L615.1 262.6L615.3 262.8L615.5 262.7L615.7 262.4L615.9 262.4L616.1 262.8L616.3 262.6L616.5 262.8L616.7 262.5L616.9 262.7L617.1 262.8L617.7 262.8L617.9 262.7L618.1 262.8L618.3 262.8L618.5 262.4L618.7 262.8L619.3 262.8L619.5 262.4L619.7 262.5L619.9 262.3L620.1 262.8L620.3 262.7L620.5 262.1L620.7 260.6L620.9 259.1L621.1 258.3L621.3 258.3L621.5 259L621.7 260.5L621.9 262L622.1 262.8L622.3 262.4L622.5 261.5L622.7 260.7L622.9 260.7L623.1 261.6L623.3 262.4L623.5 262.6L623.7 262.8L623.9 262.8L624.1 262.6L624.3 262.8L624.9 262.8L625.1 262.5L625.3 262.6L625.5 262.8L625.9 262.8L626.1 262.5L626.3 262.6L626.5 262.6L626.7 262.8L626.9 262.8L627.1 262.5L627.3 262.3L627.5 262.6L627.7 262.8L628.1 262.8L628.3 262.6L628.5 262.6L628.7 262.8L628.9 262.6L629.1 262.4L629.3 262.6L629.5 262.8L630.1 262.8L630.3 262.3L630.5 262.8L630.7 262.4L630.9 262.8L631.1 262.6L631.3 262.6L631.5 262.7L631.7 262.7L631.9 262.2L632.1 261.3L632.3 260.4L632.5 260.2L632.7 260.4L632.9 261.3L633.1 262.2L633.3 262.7L633.5 262.7L633.7 262.6L633.9 262.7L634.1 262.5L634.3 262.8L634.5 262.7L634.7 262.6L634.9 262.8L635.1 262.8L635.3 262.6L635.5 262.5L635.7 262.8L636.5 262.8L636.7 262.7L636.9 262.3L637.1 262.8L637.7 262.8L637.9 262.5L638.1 262.8L638.5 262.8L638.7 262.6L638.9 262.7L639.1 262.8L639.3 262.8L639.5 262.6L639.7 262.6L639.9 262.3L640.1 262.8L640.3 262.6L640.5 262.5L640.7 262.7L640.9 262.8L641.1 262.7L641.3 262.6L641.5 262.7L641.7 262.7L641.9 262.8L642.1 262.7L642.5 262.7L642.7 262.8L642.9 262.7L643.3 262.7L643.5 262.8L643.7 262.6L643.9 262.6L644.1 262.7L644.3 262.8L644.7 262.8L644.9 262.7L645.1 262.8L645.5 262.8L645.7 262.7L645.9 262.8L646.1 262.8L646.3 262.6L646.5 262.5L646.7 262.8L647.1 262.8L647.3 262.7L647.5 262.8L647.7 262.6L647.9 262.6L648.1 262.7L648.3 262.7L648.5 262.8L649.1 262.8L649.3 262.7L649.5 262.8L649.7 262.7L649.9 262.8L650.1 262.8L650.3 262.6L650.5 262.6L650.7 262.8L650.9 262.7L651.1 262.8L651.3 262.8L651.5 262.6L651.7 262.7L651.9 262.8L652.1 262.6L652.3 262.6L652.5 262.8L652.7 262.8L652.9 262.7L653.1 262.8L653.3 262.7L653.7 262.7L653.9 262.8L654.1 262.8L654.3 262.7L654.5 262.7L654.7 262.8L654.9 262.8L655.1 262.5L655.3 262.6L655.5 262.8L655.7 262.8L655.9 262.6L656.1 262.8L656.3 262.8L656.5 262.7L656.7 262.8L657.1 262.8L657.3 262.7L657.5 262.8L657.7 262.6L657.9 262.7L658.1 262.5L658.3 262.7L658.5 262.7L658.7 262.6L658.9 262.8L659.1 262.6L659.3 262.8L659.5 262.6L659.7 262.3L659.9 261.9L660.1 261.9L660.3 262.2L660.5 262.6L660.7 262.7L660.9 262.5L661.1 262.7L661.3 262.7L661.5 262.8L661.7 262.7L661.9 262.8L662.1 262.7L662.3 262.5L662.5 262.6L662.7 262.6L662.9 262.8L663.1 262.8L663.3 262.7L663.5 262.7L663.7 262.8L664.3 262.8L664.5 262.6L664.7 262.7L664.9 262.6L665.1 262.8L665.5 262.8L665.7 262.7L665.9 262.8L666.1 262.6L666.3 262.7L666.5 262.8L666.7 262.7L666.9 262.7L667.1 262.5L667.3 262.8L667.9 262.8L668.1 262.6L668.3 262.8L668.5 262.8L668.7 262.6L668.9 262.6L669.1 262.7L669.3 262.6L669.5 262.8L669.7 262.6L669.9 262.8L670.1 262.6L670.3 262.8L670.5 262.6L670.7 262.8L671.1 262.8L671.3 262.7L671.5 262.8L671.9 262.8L672.1 262.7L672.3 262.7L672.5 262.8L672.7 262.7L672.9 262.8L673.1 262.7L673.3 262.8L673.5 262.8L673.7 262.5L673.9 262.8L674.1 262.8L674.3 262.6L674.5 262.8L674.7 262.8L674.9 262.7L675.1 262.7L675.3 262.8L675.5 262.8L675.7 262.6L675.9 262.8L676.3 262.8L676.5 262.5L676.7 262.8L676.9 262.6L677.1 262.8L677.3 262.6L677.5 262.8L677.7 262.7L677.9 262.7L678.1 262.8L678.3 262.8L678.5 262.5L678.7 262.7L678.9 262.8L679.1 262.8L679.3 262.7L679.5 262.6L679.7 262.8L679.9 262.7L680.1 262.6L680.3 262.8L680.5 262.7L680.7 262.6L680.9 262.8L681.1 262.8L681.3 262.5L681.5 262.8L681.7 262.6L681.9 262.7L682.1 262.6L682.7 262.6L682.9 262.8L683.1 262.8L683.3 262.5L683.5 262.8L684.3 262.8L684.5 262.7L684.7 262.7L684.9 262.8L685.3 262.8L685.5 262.7L685.7 262.8L685.9 262.6L686.1 262.7L686.3 262.8L686.5 262.7L686.7 262.6L686.9 262.8L687.1 262.7L687.7 262.7L687.9 262.5L688.1 262.7L688.3 262.8L689.3 262.8L689.5 262.5L689.7 262.7L689.9 262.8L690.1 262.6L690.3 262.6L690.5 262.8L690.7 262.7L690.9 262.8L691.1 262.8L691.3 262.7L691.5 262.8L691.7 262.7L691.9 262.8L692.1 262.7L692.3 262.7L692.5 262.8L693.1 262.8L693.3 262.7L693.5 262.6L693.7 262.8L694.3 262.8L694.5 262.6L694.7 262.6L694.9 262.7L695.1 262.8L695.3 262.7L695.5 262.8L696.1 262.8L696.3 262.7L696.5 262.8L696.7 262.6L696.9 262.8L697.1 262.8L697.3 262.7L697.5 262.6L697.7 262.8L697.9 262.7L698.7 262.7L698.9 262.6L699.1 262.8L699.3 262.7L699.5 262.6L699.7 262.3L699.9 262L700.1 262L700.3 262.3L700.5 262.6L700.7 262.8L700.9 262.7L701.1 262.8L701.3 262.6L701.5 262.8L702.1 262.8L702.3 262.7L702.5 262.5L702.7 262.8L702.9 262.7L703.1 262.6L703.3 262.8L703.5 262.8L703.7 262.6L703.9 262.8L704.1 262.7L704.3 262.7L704.5 262.8L704.7 262.8L704.9 262.7L705.1 262.8L705.3 262.7L705.5 262.8L705.7 262.8L705.9 262.7L706.3 262.7L706.5 262.8L706.7 262.7L707.5 262.7L707.7 262.8L707.9 262.4L708.1 262.8L708.3 262.7L708.5 262.8L708.7 262.8L708.9 262.6L709.1 262.8L709.3 262.6L709.5 262.8L709.7 262.7L709.9 262.8L710.3 262.8L710.5 262.7L710.7 262.8L710.9 262.7L711.1 262.8L711.3 262.8L711.5 262.6L711.7 262.8L711.9 262.8L712.1 262.6L712.3 262.6L712.5 262.7L712.7 262.6L712.9 262.7L713.1 262.8L713.3 262.8L713.5 262.7L713.7 262.6L713.9 262.8L714.7 262.8L714.9 262.7L715.3 262.7L715.5 262.8L715.9 262.8L716.1 262.6L716.3 262.8L716.5 262.7L716.7 262.8L716.9 262.6L717.1 262.8L717.5 262.8L717.7 262.7L717.9 262.7L718.1 262.5L718.3 262.7L718.5 262.8L718.7 262.7L718.9 262.8L719.1 262.7L719.3 262.8L719.9 262.8L720.1 262.7L720.3 262.8L720.5 262.6L720.7 262.8L720.9 262.6L721.1 262.5L721.3 262.7L721.5 262.6L721.7 262.8L721.9 262.7L722.1 262.7L722.3 262.8L722.5 262.6L722.7 262.8L723.1 262.8L723.3 262.6L723.5 262.8L724.1 262.8L724.3 262.6L724.5 262.8L724.7 262.7L724.9 262.8L725.1 262.7L725.3 262.8L725.5 262.8L725.7 262.7L725.9 262.7L726.1 262.8L726.5 262.8L726.7 262.7L726.9 262.8L727.3 262.8L727.5 262.7L727.7 262.8L727.9 262.6L728.1 262.7L729.1 262.7L729.3 262.6L729.5 262.8L729.7 262.8L729.9 262.7L730.1 262.8L730.3 262.5L730.5 262.8L730.7 262.8L730.9 262.7L731.1 262.8L731.3 262.6L731.5 262.7L731.7 262.6L731.9 262.7L732.1 262.8L732.5 262.8L732.7 262.5L732.9 262.6L733.1 262.8L733.9 262.8L734.1 262.7L734.7 262.7L734.9 262.8L735.1 262.8L735.3 262.7L735.5 262.7L735.7 262.8L735.9 262.7L736.1 262.6L736.3 262.8L736.5 262.8L736.7 262.5L736.9 262.8L737.1 262.6L737.3 262.8L737.9 262.8L738.1 262.7L738.3 262.8L738.5 262.7L738.7 262.8L738.9 262.6L739.1 262.7L739.3 262.6L739.5 262.8L739.7 262.8L739.9 262.6L740.1 262.8L740.3 262.6L740.5 262.8L740.7 262.7L740.9 262.7L741.1 262.8L741.3 262.7L741.5 262.7L741.7 262.8L741.9 262.6L742.1 262.8L742.3 262.7L742.5 262.7L742.7 262.8L742.9 262.7L743.1 262.7L743.3 262.6L743.5 262.7L743.7 262.8L743.9 262.8L744.1 262.7L744.3 262.5L744.5 262.6L744.7 262.8L744.9 262.7L745.1 262.7L745.3 262.8L745.9 262.8L746.1 262.7L746.5 262.7L746.7 262.6L746.9 262.6L747.1 262.8L747.3 262.8L747.5 262.7L747.7 262.8L748.1 262.8L748.3 262.5L748.5 262.8L748.7 262.6L748.9 262.8L749.1 262.8L749.3 262.6L749.5 262.7L749.7 262.8L749.9 262.8L750.1 262.7L750.3 262.7L750.5 262.8L750.7 262.6L750.9 262.6L751.1 262.8L751.3 262.8L751.5 262.6L751.7 262.6L751.9 262.8L752.1 262.8L752.3 262.7L752.5 262.5L752.7 262L752.9 261.5L753.1 261.5L753.3 262L753.5 262.5L753.7 262.8L753.9 262.8L754.1 262.6L754.3 262.8L754.5 262.8L754.7 262.7L754.9 262.7L755.1 262.8L755.3 262.7L755.5 262.8L755.7 262.6L755.9 262.8L756.1 262.7L756.3 262.8L756.5 262.8L756.7 262.7L757.1 262.7L757.3 262.6L757.5 262.6L757.7 262.8L757.9 262.8L758.1 262.6L758.3 262.8L758.5 262.6L758.7 262.5L758.9 262.6L759.1 262.7L759.3 262.7L759.5 262.8L759.7 262.8L759.9 262.6L760.3 262.6L760.5 262.8L760.7 262.8L760.9 262.7L761.1 262.8L761.3 262.7L761.5 262.8L761.7 262.8L761.9 262.6L762.1 262.8L762.3 262.7L762.5 262.8L763.3 262.8L763.5 262.7L763.7 262.8L763.9 262.8" fill="#505050" fill-opacity="0.5" stroke="#505050" stroke-width="0.95" stroke-linejoin="round"/>
<path d="M67.3 382.2L67.5 382L67.7 381.6L67.9 381.5L68.1 381.7L68.3 382L68.5 381.9L68.7 382.1L68.9 382.2L69.1 382.2L69.3 381.7L69.5 382L69.7 382.2L69.9 382.2L70.1 382.1L70.3 382.2L70.5 382L70.7 381.9L70.9 382.2L71.1 382.1L71.3 382.2L71.7 382.2L71.9 381.7L72.1 381.8L72.3 381.9L72.5 382.2L72.9 382.2L73.1 382L73.3 382.1L73.5 381.8L73.7 382.2L73.9 381.5L74.1 381.8L74.3 381.4L74.5 382L74.7 382.1L74.9 382.2L75.1 381.8L75.3 381.7L75.5 382L75.7 381.9L75.9 382.1L76.1 382.2L76.7 382.2L76.9 382L77.1 382L77.3 381.7L77.5 381.8L77.7 381.5L77.9 381L78.1 381L78.3 381.5L78.5 382L78.7 381.9L78.9 382.2L79.9 382.2L80.1 381.7L80.3 381.9L80.5 382.2L80.9 382.2L81.1 381L81.3 381.9L81.5 382.1L81.7 382.2L81.9 382.2L82.1 382L82.3 381.6L82.5 381.8L82.7 382L82.9 382.2L83.1 382.2L83.3 382L83.5 382.2L83.7 382.2L83.9 381.5L84.1 382.2L84.5 382.2L84.7 381.5L84.9 382.1L85.1 382.1L85.3 382L85.5 382.2L85.7 382.2L85.9 382L86.1 382.2L86.3 382L86.5 381.7L86.7 381.8L86.9 381.6L87.1 381.7L87.3 381.5L87.5 382L87.7 381.9L87.9 382.2L88.1 382.1L88.3 382.2L88.5 382.1L88.7 382.2L88.9 382L89.1 381.2L89.3 382.2L89.5 381.9L89.7 381.9L89.9 382.2L90.3 382.2L90.5 381.9L90.7 381.4L90.9 380.9L91.1 380.9L91.3 381.4L91.5 381.3L91.7 381.6L91.9 382.1L92.1 381.9L92.3 382L92.5 382L92.7 381.7L92.9 382.2L93.3 382.2L93.5 381.9L93.7 382.2L93.9 382.1L94.1 381.7L94.3 381.8L94.5 382.1L94.7 382.2L94.9 382.2L95.1 381.9L95.3 382L95.5 382.2L95.7 381.9L95.9 382.2L96.3 382.2L96.5 381.8L96.7 382.2L96.9 382L97.1 382L97.3 382.2L97.5 382.1L97.7 382.2L97.9 382.2L98.1 382L98.3 382.2L98.5 381.9L98.7 382L98.9 382.2L99.1 381.9L99.3 382.2L99.5 381.9L99.7 382.2L99.9 382L100.1 382.2L100.3 382.2L100.5 381L100.7 381.9L100.9 381.7L101.1 382.2L101.3 382.2L101.5 382.1L101.7 382L101.9 382.1L102.1 382.2L102.5 382.2L102.7 381.5L102.9 382.1L103.1 382.2L103.7 382.2L103.9 382L104.1 381.6L104.3 381.9L104.5 382.2L104.7 381.6L104.9 382L105.1 381.4L105.3 382.1L105.5 382.2L105.7 382L105.9 382.1L106.1 382.2L106.7 382.2L106.9 381.9L107.1 382L107.3 382.2L107.5 382.2L107.7 381.8L107.9 381.9L108.1 382.2L108.3 382L108.5 381.5L108.7 382L108.9 382.2L109.1 381.6L109.3 381.2L109.5 382L109.7 382.2L109.9 382.2L110.1 381.4L110.3 382.1L110.5 381.8L110.7 381.9L110.9 382L111.1 381.5L111.3 382L111.5 381.8L111.7 381.9L111.9 381.9L112.1 381.2L112.3 382.2L112.5 381.8L112.7 380.9L112.9 380L113.1 380L113.3 380.9L113.5 381.7L113.7 382L113.9 381.8L114.1 382.2L114.3 382.1L114.5 382.2L114.7 381.8L114.9 381.9L115.1 382L115.3 382L115.5 382.2L115.7 382.1L115.9 381.4L116.1 382.2L116.3 382.2L116.5 381.8L116.7 382L116.9 382.2L117.1 381.5L117.3 381.5L117.5 382.1L117.7 381.4L117.9 382.2L118.1 381.5L118.3 382.2L118.5 381.9L118.7 382.1L118.9 382.2L119.1 381.8L119.3 382.2L119.7 382.2L119.9 381.5L120.1 382.2L120.3 381.9L120.5 382.1L120.7 381.7L120.9 382.2L121.3 382.2L121.5 382L121.7 382.2L121.9 381.9L122.1 381.9L122.3 381.7L122.5 381.9L122.7 381.6L122.9 382.2L123.3 382.2L123.5 381.9L123.7 381.4L123.9 380.9L124.1 380.9L124.3 381.4L124.5 381.9L124.7 382.2L124.9 382.2L125.1 382.1L125.3 381.6L125.5 382L125.7 382.2L125.9 381.9L126.1 382.2L126.3 381.5L126.5 382.2L126.7 382.1L126.9 382.1L127.1 382.2L127.3 382.2L127.5 382.1L127.7 381.3L127.9 382L128.1 381.9L128.3 382L128.5 382L128.7 381.9L128.9 381.6L129.1 382.2L129.5 382.2L129.7 381.8L129.9 382.2L130.1 381.7L130.3 381.7L130.5 382.2L130.7 381.9L130.9 382.2L131.1 381.8L131.3 381.9L131.5 381.6L131.7 381.8L131.9 382.2L132.1 381.6L132.3 382L132.5 381.7L132.7 382L132.9 381.7L133.1 382.2L133.3 381.6L133.5 382.2L133.7 382.1L133.9 381.9L134.1 382.2L134.3 381.9L134.5 382L134.7 381.8L134.9 382.1L135.1 382.2L135.5 382.2L135.7 382L135.9 382.1L136.1 381.8L136.3 381.5L136.5 382.1L136.7 382.2L136.9 381.9L137.1 381.4L137.3 380.5L137.5 379.7L137.7 380.5L137.9 381.4L138.1 382.2L138.3 382.2L138.5 381.4L138.7 382.2L138.9 381.6L139.1 382.2L139.3 382.2L139.5 382.1L139.7 381.9L139.9 382.2L140.1 382.2L140.3 382L140.5 381.6L140.7 382.2L140.9 381.3L141.1 382.2L141.3 381.8L141.5 381.9L141.7 381.6L141.9 382.2L142.1 381.8L142.3 382.1L142.5 382.2L143.1 382.2L143.3 381.9L143.5 382.1L143.7 381.4L143.9 381.8L144.1 382.2L144.3 380.5L144.5 378.9L144.7 377.2L145.9 377.2L146.1 378.9L146.3 380.5L146.5 382L146.7 381.9L146.9 382.2L147.9 382.2L148.1 381.9L148.3 382.2L148.5 381.9L148.7 381.8L148.9 381.7L149.1 382.1L149.3 382.1L149.5 381.7L149.7 381.8L149.9 381.5L150.1 382.2L150.3 382.2L150.5 381.7L150.7 382.1L150.9 382.1L151.1 381.6L151.3 381.8L151.5 382.2L151.7 381.8L151.9 382L152.1 381.7L152.3 381.9L152.5 382.2L152.7 381.5L152.9 382L153.1 382L153.3 382.2L153.5 382L153.7 382.1L153.9 381.8L154.1 381.9L154.3 381.6L154.5 381.8L154.7 381.4L154.9 380.9L155.1 380.9L155.3 381.4L155.5 381.9L155.7 381.5L155.9 382L156.3 382L156.5 381.4L156.7 382L156.9 382.1L157.1 382.2L157.5 382.2L157.7 381.6L157.9 381.8L158.1 382.2L158.3 382.2L158.5 381.7L158.7 381.9L158.9 382.2L159.1 382.1L159.3 382.2L159.5 381.7L159.7 381.8L159.9 382.2L160.1 382.2L160.3 382.1L160.5 381.2L160.7 381.3L160.9 380.7L161.1 380.7L161.3 381.3L161.5 381.5L161.7 382.2L161.9 382.2L162.1 381.5L162.3 381.6L162.5 381.8L162.7 382.2L162.9 382L163.1 381.8L163.3 382.2L163.5 382L163.7 381.7L163.9 382.2L164.1 381.9L164.3 382.1L164.5 382.2L165.1 382.2L165.3 381.7L165.5 382L165.7 382.2L165.9 381.5L166.1 381.2L166.3 382.2L166.5 381.9L166.7 382.1L166.9 381.8L167.1 382L167.3 381.9L167.5 382L167.7 382.2L167.9 382.2L168.1 379.4L168.3 372.1L168.5 364.8L168.7 362L168.9 362L169.1 368.4L169.3 375.8L169.5 382.1L169.7 380.8L169.9 378.9L170.1 377.1L170.3 376.6L170.5 378L170.7 379.9L170.9 381.7L171.1 382L171.3 382.2L172.1 382.2L172.3 382L172.5 382.2L172.7 382.2L172.9 381.8L173.1 381.9L173.3 382L173.5 382.2L173.7 381.7L173.9 381.9L174.1 382.2L174.3 382.2L174.5 381.8L174.7 381.7L174.9 382.2L175.1 371.3L175.3 349.4L175.5 327.5L175.7 322L175.9 322L176.1 338.4L176.3 360.3L176.5 381.6L176.7 376.3L176.9 364.5L177.1 352.7L177.3 349.7L177.5 352.7L177.7 364.5L177.9 376.3L178.1 382.2L178.3 382.1L178.5 382.2L178.7 381.6L178.9 381.6L179.1 381.3L179.3 382.2L179.7 382.2L179.9 382L180.1 382.2L180.3 381.6L180.5 381.3L180.7 382.2L180.9 382.1L181.1 381.5L181.3 382.2L181.5 382.2L181.7 381.7L181.9 381.9L182.1 382.2L182.3 381.9L182.5 381.9L182.7 381.2L182.9 380.5L183.1 380.5L183.3 381.2L183.5 381.9L183.7 381.6L183.9 381.8L184.1 381.9L184.3 382.2L184.5 382.2L184.7 382L184.9 381.5L185.1 381.9L185.3 382L185.5 381.9L185.7 381.9L185.9 382.1L186.1 382L186.3 382.2L186.5 382.1L186.7 381.7L186.9 382L187.1 381.5L187.3 381.5L187.5 382.1L187.7 382.2L187.9 382L188.1 382.2L188.3 381.8L188.5 382.1L188.7 381.8L188.9 382.1L189.1 382.2L189.3 381.5L189.5 381.9L189.7 381.4L189.9 380.9L190.1 380.9L190.3 381.4L190.5 381.9L190.7 382.1L190.9 381.9L191.1 382.2L191.5 382.2L191.7 381.9L191.9 381.8L192.1 381.9L192.3 382.2L192.5 381.9L192.7 382.1L192.9 381.8L193.1 381.9L193.3 382.2L193.5 382L193.7 382L193.9 381.7L194.1 381.4L194.3 382.2L195.1 382.2L195.3 381.5L195.5 381.8L195.7 382.1L195.9 381.9L196.1 382L196.3 382.2L196.5 382L196.7 381.9L196.9 381.7L197.1 382.2L197.3 382L197.5 381.9L197.7 381.9L197.9 382.2L198.9 382.2L199.1 381.9L199.3 381.8L199.5 380.1L199.7 378.5L199.9 377.2L200.1 377.2L200.3 378.5L200.5 380.1L200.7 381.8L200.9 381.4L201.1 380.5L201.3 379.7L201.5 380.5L201.7 381.4L201.9 382.2L202.1 381.6L202.3 382.2L202.5 382.1L202.7 381.9L202.9 382.1L203.1 382L203.3 382L203.5 381.9L203.7 381.7L203.9 382L204.1 381.7L204.3 382L204.5 381.7L204.7 382.2L204.9 381.5L205.1 381.9L205.3 381.8L205.5 381.5L205.7 382.2L206.1 382.2L206.3 381.5L206.5 376.3L206.7 371.1L206.9 367.8L207.1 367.8L207.3 371.1L207.5 376.3L207.7 381.5L207.9 382.2L208.1 380.9L208.3 379.7L208.5 378.4L208.7 379.7L208.9 380.9L209.1 382.1L209.3 382.1L209.5 382.2L209.7 381.6L209.9 381.9L210.1 381.7L210.3 382.2L210.7 382.2L210.9 381.7L211.1 382.2L211.3 381.9L211.5 381.7L211.7 382.2L211.9 381.8L212.1 382.1L212.3 382L212.5 381.9L212.7 381.2L212.9 380.5L213.1 380.5L213.3 381.2L213.5 381.9L213.7 382.1L213.9 382.2L214.1 382.2L214.3 382L214.5 381.7L214.7 382.1L214.9 382.2L215.1 382L215.3 382.2L215.5 381.9L215.7 382.2L215.9 381.8L216.1 382.2L216.3 381.7L216.5 382.1L216.7 382.2L216.9 382L217.1 382.2L217.3 382.1L217.5 381.4L217.7 381.9L217.9 381.9L218.1 382.2L218.3 381.6L218.5 381.8L218.7 382.1L218.9 382.2L219.3 382.2L219.5 382.1L219.7 382L220.3 382L220.5 382.1L220.7 382.2L220.9 381.3L221.1 381.7L221.3 381.7L221.5 382L221.7 381.5L221.9 381L222.1 381L222.3 381.5L222.5 381.8L222.7 381.6L222.9 382.2L223.1 382L223.3 381.8L223.5 382L223.7 382L223.9 381.8L224.1 381.8L224.3 382.2L224.5 382L224.7 381.9L224.9 381.7L225.1 381.9L225.3 382.2L225.5 382L225.7 382.2L225.9 382.1L226.1 381.7L226.3 382L226.5 381.9L226.7 381.9L226.9 382.1L227.1 382.2L227.3 382.2L227.5 381.7L227.7 382.1L227.9 382.2L228.1 381.6L228.3 382.2L228.5 382.2L228.7 381.4L228.9 381.8L229.1 382L229.3 381.8L229.5 381.8L229.7 382.2L229.9 381.8L230.1 382.2L230.5 382.2L230.7 382L230.9 381.3L231.1 382.2L231.3 382.2L231.5 381.8L231.7 381.4L231.9 382.1L232.1 381.9L232.3 382.2L232.5 382.1L232.7 381.7L232.9 382.2L233.1 381.7L233.3 381.7L233.5 382.2L233.7 382.2L233.9 382.1L234.1 382.2L234.3 382.2L234.5 382L234.9 382L235.1 382.2L235.3 382.2L235.5 381.9L235.7 381.7L235.9 381.8L236.1 382.2L237.1 382.2L237.3 381.9L237.5 381.9L237.7 381.3L237.9 380.7L238.1 380.7L238.3 381.3L238.5 381.7L238.7 382.1L238.9 382L239.1 382.2L239.5 382.2L239.7 381.8L239.9 382.1L240.1 382L240.3 382L240.5 381.9L240.7 382.2L240.9 381.7L241.1 382.2L241.3 382L241.5 381.7L241.7 382.2L241.9 381.4L242.1 381.8L242.3 382.1L242.5 382.2L242.7 382.2L242.9 381.9L243.1 382.1L243.3 381.9L243.5 381.9L243.7 382.1L243.9 382.1L244.1 381.9L244.3 382.2L244.7 382.2L244.9 382L245.1 382.2L245.3 381.9L245.5 382.2L245.7 382.2L245.9 382.1L246.1 382.2L246.3 382.2L246.5 382.1L246.7 382.2L246.9 382.2L247.1 382.1L247.3 382.2L247.5 382.2L247.7 382.1L247.9 382.2L248.1 382L248.3 382L248.5 381.9L248.7 382.1L248.9 382.1L249.1 382.2L249.3 382.2L249.5 382L249.7 381.5L249.9 381L250.1 381L250.3 381.5L250.5 382L250.7 382.1L250.9 381.8L251.1 382L251.3 382.2L251.5 381.9L251.7 381.8L251.9 382L252.1 382.2L252.3 382.1L252.5 381.8L252.7 381.9L252.9 382L253.1 382L253.3 381.9L253.5 382.2L253.7 382.1L253.9 382.2L254.1 382.1L254.3 382.2L254.5 381.6L254.7 382L254.9 381.6L255.1 382.2L255.3 381.7L255.5 381.7L255.7 382.1L255.9 382.2L256.3 382.2L256.5 381.9L256.7 381.5L256.9 382L257.1 382.2L257.3 382.2L257.5 382L257.7 381.7L257.9 382L258.1 381.8L258.3 382.2L258.5 382.2L258.7 382L258.9 381.5L259.1 382.2L259.3 380.9L259.5 381.3L259.7 382.2L259.9 381.8L260.1 381.8L260.3 381.5L260.5 382.2L260.9 382.2L261.1 382L261.3 382.2L261.5 382.2L261.7 382.1L261.9 382.2L262.1 381.2L262.3 381.9L262.5 381.6L262.7 381.7L262.9 382L263.1 382.2L263.5 382.2L263.7 381.9L263.9 381.4L264.1 382.1L264.3 382.2L264.5 382.1L264.7 382L264.9 381.9L265.1 382.2L265.3 382.2L265.5 381.6L265.7 381.5L265.9 381.4L266.1 382.1L266.3 382.2L266.9 382.2L267.1 381.9L267.3 381.6L267.5 382.2L267.7 382.2L267.9 381.9L268.1 382.2L268.3 382.2L268.5 381.9L268.7 381.4L268.9 380.9L269.1 380.9L269.3 381.4L269.5 381.9L269.7 382.2L270.1 382.2L270.3 382L270.5 382.2L271.1 382.2L271.3 381.7L271.5 382.2L271.7 382L271.9 382.2L272.1 382.1L272.3 381.7L272.5 381.2L272.7 382L272.9 382L273.1 381.9L273.3 382L273.5 382.2L273.9 382.2L274.1 382L274.3 382L274.5 382.2L274.7 382.2L274.9 382L275.1 382.2L275.3 382.2L275.5 381.7L275.7 381.4L275.9 381.9L276.1 381.6L276.3 382.2L276.5 381.5L276.7 382.2L276.9 382.2L277.1 381.6L277.3 382L277.5 382.1L277.7 381.2L277.9 381.6L278.1 381.4L278.3 381.7L278.5 382.2L278.7 381.9L278.9 382.2L279.1 381.6L279.3 382.2L279.5 382.2L279.7 381.9L279.9 382.2L280.1 381.9L280.3 382.2L280.5 381.8L280.7 382.2L280.9 382.2L281.1 381.2L281.3 381.6L281.5 382.1L281.7 382.2L281.9 382.1L282.1 382.2L282.3 382.2L282.5 381.7L282.7 382.2L282.9 381.6L283.1 382.1L283.3 381.4L283.5 382.2L283.7 382.1L283.9 382L284.1 382.2L284.3 382.2L284.5 382L284.7 381.6L284.9 381.2L285.1 381.2L285.3 381.6L285.5 382L285.7 382.2L285.9 381.8L286.1 382.2L286.3 381.8L286.5 382L286.7 382.2L286.9 382.2L287.1 382L287.3 382.2L287.5 382.2L287.7 381.5L287.9 382.2L288.1 381.6L288.3 382.1L288.5 382.2L288.7 381.8L288.9 382.1L289.1 382.2L289.3 381.8L289.5 382.2L289.7 381.8L289.9 382.2L290.9 382.2L291.1 381.8L291.3 381.9L291.5 382.1L291.7 381.7L291.9 382.2L292.1 382.1L292.3 382L292.5 382.2L292.7 382.1L292.9 381.9L293.1 381.7L293.3 382.2L293.9 382.2L294.1 382.1L294.5 382.1L294.7 381.9L294.9 382.2L295.5 382.2L295.7 381.8L295.9 382L296.1 381.7L296.3 382.2L296.9 382.2L297.1 381.9L297.3 381.7L297.5 382.2L297.7 382L297.9 382.2L298.1 382.1L298.3 382L298.5 382.2L298.7 382.1L298.9 382.1L299.1 381.7L299.3 382.2L299.5 381.9L299.7 381.5L299.9 380.9L300.1 381L300.3 381.5L300.5 381.6L300.7 382.1L300.9 381.6L301.1 382.2L301.3 381.9L301.5 382.2L301.7 381.6L301.9 382.1L302.1 382.2L302.3 381.6L302.5 381.8L302.7 381.9L302.9 381.9L303.1 382.1L303.3 382.2L303.5 381.9L303.7 382.2L304.1 382.2L304.3 381.7L304.5 381.8L304.7 382L304.9 382.2L305.1 381.8L305.3 381.6L305.5 382.2L305.7 382.2L305.9 382.1L306.1 381.8L306.3 382.2L306.5 381.9L306.7 382.2L308.1 382.2L308.3 381.5L308.5 381.9L308.7 382L308.9 382L309.1 381.8L309.3 382.2L309.5 381.9L309.7 382L309.9 382.1L310.1 381.9L310.3 382.2L310.5 382.2L310.7 381.7L310.9 382.2L311.1 381.9L311.3 381.6L311.5 382L311.7 381.9L311.9 382L312.1 382.1L312.3 381.7L312.5 382.1L312.7 382.1L312.9 381.7L313.1 382L313.3 382L313.5 381.5L313.7 381.8L313.9 382.2L314.1 381.2L314.3 382.1L314.5 382L314.7 381.6L314.9 381.8L315.1 381.8L315.3 382.2L315.5 382.2L315.7 381.7L315.9 382.1L316.1 382.2L316.3 381.7L316.5 382L316.7 382.2L316.9 382.2L317.1 381.7L317.3 381.5L317.5 381.8L317.7 381.7L317.9 382.2L318.1 381.7L318.3 381.8L318.5 381.7L318.7 381.5L318.9 382.1L319.1 382L319.3 382.2L319.5 382L319.7 381.9L319.9 382.2L320.1 381.8L320.3 381.8L320.5 382.2L320.7 381.9L320.9 381.7L321.1 382.1L321.3 381.9L321.5 382.2L321.7 382.2L321.9 382L322.1 381.8L322.3 382.2L322.5 381L322.7 381.4L322.9 382.2L323.1 381.7L323.3 381.9L323.5 382L323.7 382.2L323.9 381.8L324.1 382L324.3 382.2L324.5 382.1L324.7 381.6L324.9 382.2L325.1 382L325.5 382L325.7 381.6L325.9 381.8L326.1 381.5L326.3 382.2L326.7 382.2L326.9 382.1L327.1 381.7L327.3 382.2L327.5 381.7L327.7 381.7L327.9 382.1L328.1 382.1L328.3 381.5L328.5 381.3L328.7 382.2L328.9 381.5L329.1 382.1L329.3 381.9L329.5 382L329.7 381.5L329.9 381L330.1 381L330.3 381.5L330.5 382L330.7 382.2L330.9 381.8L331.1 382.2L331.3 382.1L331.5 382.1L331.7 381.7L331.9 382.2L332.1 381.9L332.3 381.8L332.5 382.2L332.7 381.8L332.9 382.1L333.1 381.8L333.3 382.2L333.5 382.1L333.7 382.2L333.9 382L334.1 382.2L334.3 381.5L334.5 382L334.7 382.2L334.9 381.5L335.1 381.9L335.3 382.2L335.5 381.8L335.7 382.2L335.9 382L336.1 382.2L336.3 382.2L336.5 381.8L336.7 381.7L336.9 382.1L337.1 382L337.3 381.7L337.5 382L337.7 382.1L337.9 381.8L338.1 382.2L338.3 381.5L338.5 382.2L338.7 382.1L338.9 381.9L339.1 382.2L339.3 381.7L339.5 382.2L339.9 382.2L340.1 381.9L340.3 381.8L340.5 382.2L340.7 382.2L340.9 381.8L341.1 382.1L341.3 382.1L341.5 381.5L341.7 382L341.9 382.2L342.1 381.7L342.3 381.9L342.5 382.2L343.1 382.2L343.3 382L343.5 382.2L343.7 382.1L343.9 382.1L344.1 382.2L344.7 382.2L344.9 382L345.1 382.2L345.3 381.9L345.5 382.2L345.7 381.8L345.9 382.2L346.1 381.6L346.3 382L346.5 381.9L346.7 382.2L346.9 381.6L347.1 381.4L347.3 381.9L347.5 381L347.7 382.2L347.9 381.4L348.1 382.2L348.3 382.1L348.5 382L348.7 381.6L348.9 381.8L349.1 382L349.3 382.2L349.5 381.9L349.7 381.7L349.9 382.2L350.1 382.2L350.3 381.8L350.5 381.7L350.7 381.8L350.9 382.2L351.1 382.2L351.3 381.6L351.5 382.2L351.7 382.2L351.9 381.9L352.1 381.6L352.3 381.8L352.5 382.2L353.1 382.2L353.3 381.6L353.5 382L353.7 382L353.9 382.2L354.1 382.1L354.3 381.7L354.5 381.9L354.7 381.5L354.9 381.1L355.1 381.1L355.3 381.6L355.7 381.6L355.9 382.2L356.1 382L356.3 381.8L356.5 382L356.7 382.1L356.9 382.2L357.1 382L357.3 381.9L357.5 381.7L357.7 382.2L357.9 381.8L358.1 381.8L358.3 382.2L358.5 382L358.7 382.1L358.9 381.9L359.1 382.2L359.3 382.2L359.5 382.1L359.7 382.2L359.9 382.2L360.1 382L360.3 382.2L360.5 381.9L360.7 382.2L361.1 382.2L361.3 382.1L361.5 382.1L361.7 382.2L361.9 382.1L362.1 382.2L362.3 381.5L362.5 382.2L362.7 382.1L362.9 382L363.1 381.9L363.3 382.2L363.5 381.8L363.7 381.6L363.9 382.2L364.1 381.9L364.3 381.8L364.5 382L364.7 382.1L364.9 381.5L365.1 382.2L365.3 381.9L365.5 382.2L365.7 381.8L365.9 382.2L366.1 382.2L366.3 382L366.5 382.2L366.7 381.6L366.9 382.2L367.1 381.2L367.3 381.9L367.5 382.2L367.9 382.2L368.1 382.1L368.3 381.9L368.5 381.7L368.7 381.8L368.9 381.8L369.1 382.2L369.3 382.2L369.5 382.1L369.7 382.2L369.9 382.2L370.1 382.1L370.3 382.2L370.5 381.8L370.7 382.2L370.9 381.5L371.1 382.2L371.3 382.1L371.5 382.2L371.7 382.2L371.9 381.9L372.1 382.2L372.3 381.6L372.5 381.9L372.7 381.4L372.9 380.9L373.1 380.9L373.3 381.4L373.5 381.8L373.7 381.8L373.9 382.2L374.1 382L374.3 382.2L374.5 382.1L374.7 382.2L374.9 381.7L375.1 382.2L375.3 382.1L375.5 381.9L375.7 381.9L375.9 382.2L376.1 381.7L376.3 382L376.5 382.2L376.7 382.2L376.9 381.8L377.1 381.8L377.3 382.2L377.5 382.2L377.7 382.1L377.9 382.1L378.1 382.2L378.3 382L378.5 381.6L378.7 382.2L378.9 381.8L379.1 382.2L379.3 382.1L379.5 382.2L379.7 381.8L379.9 382.2L380.5 382.2L380.7 381.9L380.9 381.8L381.1 381.9L381.3 382.2L381.5 382.2L381.7 381.7L381.9 381.4L382.1 381.9L382.3 382.2L382.5 381.9L382.7 381.3L382.9 380.7L383.1 380.7L383.3 381.3L383.5 381.9L383.7 381.6L383.9 382.2L384.1 381.9L384.3 382.2L384.5 382.2L384.7 381.5L384.9 381.8L385.1 382.2L385.3 382.2L385.5 381.9L385.9 381.9L386.1 382.1L386.3 381.9L386.5 382.2L386.9 382.2L387.1 382.1L387.3 382L387.5 381.7L387.7 381.9L387.9 381.8L388.1 381.8L388.3 381.6L388.5 382.1L388.7 382.2L388.9 381.9L389.1 381.8L389.3 381.9L389.5 381.4L389.7 382.1L389.9 382L390.1 382.2L390.3 381.7L390.5 381.8L390.7 382.2L390.9 381.9L391.1 382.2L391.3 382L391.5 381.5L391.7 382.2L391.9 382.2L392.1 381.8L392.3 381.8L392.5 382L392.7 381.4L392.9 381.6L393.1 382.1L393.3 382.2L393.5 382.2L393.7 381.8L393.9 381.9L394.1 382.2L394.3 381.7L394.5 381.7L394.7 382.2L395.1 382.2L395.3 382L395.5 382L395.7 381.7L395.9 381.7L396.1 382.2L396.3 382.2L396.5 381.9L396.7 381.5L396.9 381.1L397.1 381.1L397.3 381.6L397.5 382L397.7 382.2L398.1 382.2L398.3 382.1L398.5 382.2L398.7 381.5L398.9 382.2L399.3 382.2L399.5 382.1L399.7 382.2L399.9 381.9L400.1 382L400.3 382.1L400.5 382.2L400.7 382L401.1 382L401.3 382.1L401.7 382.1L401.9 382.2L402.1 381.9L402.3 381.7L402.5 382.1L402.7 382.2L402.9 382.2L403.1 381.9L403.3 382.1L403.5 382.1L403.7 382.2L403.9 381.9L404.1 381.7L404.3 382L404.5 382.2L404.7 382.1L404.9 381.6L405.1 381.6L405.3 382.2L405.5 382.2L405.7 381.4L405.9 381.9L406.1 382.2L406.3 382.2L406.5 381.8L406.7 382.1L406.9 382.2L407.1 382.2L407.3 382L407.5 382.2L407.7 382.2L407.9 382.1L408.1 382L408.3 382.1L408.5 382.2L408.7 382L408.9 382L409.1 381.8L409.3 382.1L409.5 382.2L409.7 382.2L409.9 382.1L410.1 382.1L410.3 381.5L410.5 382.2L410.7 382.1L410.9 382.2L411.1 382L411.3 381.8L411.5 381.7L411.7 382.2L411.9 381.9L412.1 382.2L412.3 381.4L412.5 381.7L412.7 379.9L412.9 378.1L413.1 376.8L413.3 376.8L413.5 378.2L413.7 380L413.9 381.8L414.1 382.2L414.3 381.6L414.5 382.2L414.7 382L414.9 381.6L415.1 381.5L415.3 382.2L415.5 382.2L415.7 382L415.9 382.2L416.1 382.2L416.3 381.9L416.5 382.2L416.7 382L416.9 382.2L417.1 381.9L417.3 382.2L417.5 381.7L417.7 382.2L417.9 382L418.1 382.2L418.3 382.2L418.5 381.5L418.7 382.2L418.9 381.9L419.1 382.2L419.3 381.9L419.5 382.2L419.7 382.2L419.9 381.7L420.1 381.6L420.3 382.2L420.7 382.2L420.9 382.1L421.1 382.2L421.3 382.2L421.5 381.9L421.7 381.6L421.9 382.1L422.1 382.2L422.3 382.2L422.5 381.7L422.7 381.7L422.9 382.1L423.1 382.1L423.3 382.2L423.5 381.8L423.7 381.6L423.9 382.2L424.1 382.1L424.3 381.8L424.5 382L424.7 381.5L424.9 381L425.1 381L425.3 381.5L425.5 381.6L425.7 381.5L425.9 381.8L426.1 382.1L426.3 382.2L426.5 382.2L426.7 381.7L426.9 381.9L427.1 382.1L427.3 382L427.5 382.2L427.7 382L427.9 382.2L428.1 382.2L428.3 381.9L428.5 382.2L428.7 381.6L428.9 382.2L429.1 382.2L429.3 382.1L429.5 381.7L429.7 381.6L429.9 382L430.1 382L430.3 382.2L430.5 381.6L430.7 381.8L430.9 382.2L431.3 382.2L431.5 382L431.7 381.9L431.9 382.2L432.1 382.1L432.3 382L432.5 382.2L432.7 382.1L432.9 382.2L433.1 382.2L433.3 381.4L433.5 382.2L433.7 382.1L433.9 382L434.1 381.4L434.3 381.5L434.5 382.1L434.7 381.2L434.9 382.1L435.1 382.1L435.3 382.2L435.5 381.9L435.7 381.4L435.9 380.9L436.1 380.9L436.3 381.4L436.5 381.3L436.7 381.8L436.9 382.2L437.1 381.8L437.5 381.8L437.7 381.9L437.9 382.2L438.1 382L438.3 381.1L438.5 382.1L438.7 382.2L438.9 381.9L439.1 381.9L439.3 382L439.5 381.9L439.7 382.2L440.1 382.2L440.3 382L440.5 381.4L440.7 382.2L440.9 382.2L441.1 382.1L441.3 382.2L442.3 382.2L442.5 382L442.7 382.2L442.9 381.8L443.1 382.2L443.5 382.2L443.7 381.6L443.9 381.9L444.1 382.2L444.5 382.2L444.7 382.1L444.9 380.2L445.1 376.1L445.3 372L445.5 371L445.7 371L445.9 372L446.1 376.1L446.3 380.2L446.5 382.2L446.7 381.7L446.9 379.6L447.1 377.5L447.3 376L447.5 376L447.7 377.6L447.9 379.6L448.1 381.7L448.3 382.2L448.9 382.2L449.1 382.1L449.3 381.7L449.5 382L449.7 382L449.9 382.2L450.1 382.2L450.3 382.1L450.5 382L450.7 381.8L450.9 382L451.1 381.5L451.3 382.1L451.5 381.3L451.7 381.2L451.9 381.8L452.1 381.7L452.3 382.2L452.5 382.1L452.7 382L452.9 382L453.1 382.2L453.3 381.7L453.5 381.4L453.7 382.1L453.9 381.9L454.1 381.9L454.3 382.2L454.5 381.9L454.7 378.1L454.9 369.9L455.1 361.7L455.3 359.7L455.5 359.7L455.7 361.7L455.9 369.9L456.1 378.1L456.3 379.8L456.5 375.1L456.7 370.4L456.9 369.2L457.1 370.4L457.3 375.1L457.5 379.8L457.7 382.2L457.9 381.9L458.1 381.8L458.3 381.9L458.5 381.6L458.7 381.7L458.9 381.6L459.1 381.9L459.3 382.2L459.5 382.1L459.7 382.2L459.9 382.2L460.1 382L460.3 381.6L460.5 381.9L460.7 381.9L460.9 381.6L461.1 382.2L461.3 381.3L461.5 382.2L461.7 382.2L461.9 382.1L462.1 382.2L462.3 382.2L462.5 381.8L462.7 381.3L462.9 380.7L463.1 380.7L463.3 381.3L463.5 381.8L463.7 382L463.9 382.1L464.1 381.9L464.3 381.8L464.5 382.2L464.7 382L464.9 382L465.1 382.1L465.3 382.2L465.5 381.7L465.7 381.8L465.9 381.9L466.1 381.1L466.3 382.2L466.7 382.2L466.9 382.1L467.1 381.5L467.3 382L467.5 382.2L467.7 381.9L467.9 381.6L468.1 381.5L468.3 382.2L468.7 382.2L468.9 381.5L469.1 382.2L469.3 381.7L469.5 381.5L469.7 381.2L469.9 380.5L470.1 380.5L470.3 381.2L470.5 381.9L470.7 382.1L470.9 382.2L471.1 382.1L471.3 382L471.5 382L471.7 382.1L471.9 381.8L472.1 382L472.3 382.2L472.5 382.1L472.7 382L472.9 381.6L473.1 381.9L473.3 382L473.5 382.2L473.7 382.1L473.9 382.1L474.1 382.2L474.3 381.9L474.5 382.1L474.7 382.2L474.9 382.2L475.1 381.9L475.3 381.7L475.5 382L475.7 381.3L475.9 381.9L476.1 381.5L476.3 381.8L476.5 382.2L476.7 382.2L476.9 382L477.1 381.7L477.3 382.2L477.5 381.9L477.7 381.4L477.9 380.9L478.1 380.9L478.3 381.4L478.5 381.4L478.7 381.6L478.9 382.2L479.1 382.1L479.3 381.7L479.5 382.2L479.7 381.8L479.9 381.8L480.1 381.9L480.3 382.2L480.7 382.2L480.9 381.7L481.1 381.9L481.3 382.2L481.5 381.8L481.7 381.5L481.9 382.2L482.1 382.2L482.3 382.1L482.5 381.9L482.7 382.2L482.9 382.1L483.1 382.2L483.3 382L483.5 381.8L483.7 382.2L483.9 382.1L484.1 381.6L484.3 382.2L484.5 381.9L484.7 382.2L484.9 381.7L485.1 382.2L485.3 382.1L485.5 382.2L485.7 382.2L485.9 369L486.1 355.9L486.3 346L486.7 346L486.9 355.9L487.1 369L487.3 382.1L487.5 373L487.7 360.7L487.9 348.4L488.3 348.4L488.5 360.7L488.7 373L488.9 381.9L489.1 381.3L489.3 377.9L489.5 374.5L489.7 372.8L489.9 372.8L490.1 376.2L490.3 379.6L490.5 382.2L490.7 381.9L490.9 382.2L491.1 381.5L491.3 382.2L491.5 382.2L491.7 381.8L491.9 381.8L492.1 382.2L492.3 382.1L492.5 382.2L492.7 381.8L492.9 381.8L493.1 382.2L493.7 382.2L493.9 382.1L494.1 381.8L494.3 382L494.5 381.7L494.7 382.2L494.9 382.1L495.1 382.1L495.3 362.7L495.5 323.7L495.7 284.7L495.9 275L497.3 275L497.5 304.2L497.7 343.2L497.9 382L498.1 382L498.3 382.2L498.5 379.4L498.7 375.7L498.9 372L499.3 372L499.5 375.7L499.7 379.4L499.9 382.2L500.1 382.2L500.3 381.8L500.5 382.1L500.7 382L500.9 382.2L501.1 381.5L501.3 381.8L501.5 382.2L501.9 382.2L502.1 381.6L502.3 381.5L502.5 381.8L502.7 380.9L502.9 380.1L503.1 380.1L503.3 381L503.5 381.8L503.7 382L503.9 381.5L504.1 381.9L504.3 382.2L504.5 382.2L504.7 381.9L504.9 382.2L505.1 382.1L505.3 382.2L505.5 382.2L505.7 381.6L505.9 382.2L506.1 382.2L506.3 381.7L506.5 381.9L506.7 381.7L506.9 381.9L507.1 381.9L507.3 382.2L507.5 380.1L507.7 378.1L507.9 376L508.3 376L508.5 378.1L508.7 380.1L508.9 381.7L509.1 382.2L509.5 382.2L509.7 381.5L509.9 382.2L510.1 382.2L510.3 381.3L510.5 381.8L510.7 380.9L510.9 380L511.1 380L511.3 380.9L511.5 381.8L511.7 381.6L511.9 381.2L512.1 380.2L512.3 379.2L512.5 380.2L512.7 381.2L512.9 382.2L513.1 382.2L513.3 381.7L513.5 380.7L513.7 379.7L513.9 379.7L514.1 380.7L514.3 381.7L514.5 382L514.7 382L514.9 382.2L515.1 382.2L515.3 381.9L515.5 381.6L515.7 380.9L515.9 380.1L516.1 380.1L516.3 380.9L516.5 381.8L516.7 382.2L516.9 381.7L517.1 381.9L517.3 382L517.5 382.2L517.7 382.1L517.9 381.9L518.1 382L518.3 381.6L518.5 381.9L518.7 381.2L518.9 380.5L519.1 380.5L519.3 381.2L519.5 381.8L519.7 382.2L520.7 382.2L520.9 382L521.1 382L521.3 382.2L521.5 381.9L521.7 381.1L521.9 382.1L522.1 382.2L522.3 382.2L522.5 381.8L522.7 381L522.9 380.2L523.1 380.2L523.3 381L523.5 381.8L523.7 382.1L523.9 382L524.1 382L524.3 382.2L524.5 382.1L524.7 382.2L524.9 382.2L525.1 381.8L525.3 382.1L525.5 382.2L526.1 382.2L526.3 381.8L526.5 381.9L526.7 382.1L526.9 382L527.1 382.2L527.3 382.2L527.5 382L527.7 382.2L527.9 381.3L528.1 380.6L528.3 378.6L528.5 376.5L528.7 376L528.9 376L529.1 376.5L529.3 378.6L529.5 380.7L529.7 380.2L529.9 378.9L530.1 378.9L530.3 380.2L530.5 381.5L530.7 382.2L530.9 381.9L531.1 382.2L531.3 382L531.5 382.1L531.7 382.2L531.9 381.8L532.1 382.1L532.3 382L532.5 381.9L532.7 381.2L532.9 380.5L533.1 380.5L533.3 381.2L533.5 381.6L533.7 381.8L533.9 381.4L534.1 382.2L534.3 382L534.5 382.2L534.7 382.1L534.9 382.1L535.1 381.3L535.3 381.9L535.5 382.2L535.7 381.6L535.9 382L536.1 382L536.3 382.1L536.5 382.2L536.7 381.3L536.9 381.8L537.1 382.2L537.3 381.8L537.5 377L537.7 371.2L537.9 366L538.3 366L538.5 371.2L538.7 377L538.9 382.1L539.1 381.4L539.3 379.7L539.5 378L539.7 378L539.9 379.7L540.1 381.4L540.3 382.2L540.7 382.2L540.9 382L541.1 382.1L541.3 381.8L541.5 382.2L541.7 382.1L541.9 381.7L542.1 381.8L542.3 382.2L542.5 382L542.7 381.8L542.9 381.8L543.1 382L543.3 382.2L543.5 381.5L543.7 382L543.9 382.2L544.1 382.2L544.3 382.1L544.5 381.9L544.7 381.2L544.9 380.5L545.1 380.5L545.3 381.2L545.5 381.9L545.7 381.7L545.9 382.2L546.1 382.1L546.3 382.1L546.5 382.2L546.9 382.2L547.1 381.9L547.3 382L547.5 382.2L547.7 382.2L547.9 381.8L548.1 382.2L548.3 382.1L549.3 382.1L549.5 382.2L549.7 381.8L549.9 381.8L550.1 382.2L550.3 382.2L550.5 381.9L550.7 381.3L550.9 380.7L551.1 380.7L551.3 381.3L551.5 381.9L551.7 382.2L551.9 382.2L552.1 382.1L552.3 382.1L552.5 382.2L552.7 381.6L552.9 382.1L553.1 382.2L553.3 381.9L553.5 381.7L553.7 381.7L553.9 382.1L554.1 382.2L554.3 382.2L554.5 382.1L554.7 382.2L555.1 382.2L555.3 381.6L555.5 382.2L555.7 382.2L555.9 382.1L556.1 381.9L556.3 381.8L556.5 381.4L556.7 382.1L556.9 382.2L557.1 382.2L557.3 382.1L557.5 381.9L557.7 381.4L557.9 381L558.1 381L558.3 381.4L558.5 381.9L558.7 382.2L558.9 381.9L559.1 382.2L559.3 382L559.5 382.1L559.7 382.2L559.9 382L560.1 382.2L560.3 381.9L560.5 382.1L560.7 381.9L560.9 382.1L561.1 382.2L561.3 381.4L561.5 382.2L561.7 381.9L561.9 382.2L562.1 382.2L562.3 381.5L562.5 381.7L562.7 381.7L562.9 382L563.1 382L563.3 381.2L563.5 382.2L563.7 381.7L563.9 382.1L564.1 382.2L564.3 381.6L564.5 382.2L564.7 381.5L564.9 381.9L565.1 382.2L565.3 381.8L565.5 381.9L565.7 381.4L565.9 380.9L566.1 380.9L566.3 381.4L566.5 381.9L566.7 382.1L566.9 382L567.1 382L567.3 381.4L567.5 382.1L567.7 382.2L567.9 382.2L568.1 381.9L568.3 381.4L568.5 381.8L568.7 381.7L568.9 381.7L569.1 382.2L569.3 381.7L569.5 381.9L569.7 382.2L569.9 381.8L570.1 382L570.3 381.8L570.5 382.1L570.7 382.2L570.9 381.3L571.1 381.8L571.3 382.2L571.5 381.9L571.7 382.2L571.9 381.7L572.1 381.6L572.3 382L572.5 381.7L572.7 382.1L572.9 381.3L573.1 382.2L573.3 382.2L573.5 381.9L573.7 381.5L573.9 381L574.1 381L574.3 381.5L574.5 382L574.7 382.2L574.9 382.1L575.1 382.2L575.3 382.2L575.5 381.8L575.7 382.2L576.1 382.2L576.3 381.9L576.5 382.1L576.7 382.2L576.9 381.9L577.1 381.8L577.3 382.1L577.5 382.1L577.7 382.2L577.9 381.8L578.1 381.8L578.3 382.2L578.5 382.2L578.7 381.9L578.9 381.8L579.1 381.7L579.3 381.9L579.5 382L579.7 381.9L579.9 382.2L580.1 381.8L580.3 382L580.5 381.9L580.7 381.3L580.9 380.7L581.1 380.7L581.3 381.3L581.5 381.8L581.7 382.1L581.9 382.2L582.1 382.2L582.3 382L582.5 381.7L582.7 382L582.9 382L583.1 382.2L583.3 382L583.5 381.7L583.7 382.1L583.9 382.1L584.1 381.7L584.3 381.7L584.5 382.2L584.7 382.2L584.9 382L585.1 381.8L585.3 382.2L585.5 381.7L585.7 381.9L585.9 381.6L586.1 382L586.3 381.8L586.5 382.2L586.7 381.7L586.9 382L587.1 382.2L587.3 382.1L587.5 381.8L587.7 382.2L587.9 381.7L588.1 381.4L588.3 382.2L588.5 382L588.7 382.2L588.9 381.7L589.1 382L589.3 382.2L589.5 382L589.7 381.6L589.9 381.1L590.1 381.1L590.3 381.5L590.5 382L590.7 382.2L590.9 382L591.1 381.4L591.3 382.1L591.5 382.2L592.1 382.2L592.3 381.9L592.5 381.8L592.7 382.2L592.9 382.2L593.1 381.9L593.3 382.2L594.7 382.2L594.9 382.1L595.1 381.9L595.3 382L595.5 382.2L595.7 381.6L595.9 382L596.1 382.2L596.3 382.2L596.5 382L596.7 382.2L596.9 382.1L597.1 382.2L597.7 382.2L597.9 381.5L598.1 382.2L598.3 381.9L598.5 381.8L598.7 381.8L598.9 382.1L599.1 381.4L599.3 382.1L599.5 382.2L599.7 382.1L599.9 381.8L600.1 381.7L600.3 381.8L600.5 381.8L600.7 382.1L600.9 382.2L601.1 382.1L601.3 382.2L601.5 382L601.7 381.5L601.9 381L602.1 381L602.3 381.5L602.5 382L602.7 382.2L602.9 382.2L603.1 382L603.3 382.2L603.7 382.2L603.9 381.6L604.1 382.2L604.3 381.9L604.5 382.1L604.7 381.9L604.9 381.7L605.1 381.7L605.3 382.1L605.5 382.1L605.7 381.9L605.9 382.2L606.1 382L606.3 381.7L606.5 381.8L606.7 382.2L606.9 382L607.1 381.8L607.3 382.2L607.5 381.9L607.7 382L607.9 382.2L608.1 382.2L608.3 382L608.5 382.1L608.7 381.8L608.9 382.2L609.5 382.2L609.7 382.1L609.9 382.2L610.1 381.6L610.3 382L610.5 381.9L610.7 382L610.9 382.2L611.1 382.2L611.3 381.9L611.5 382L611.7 381.6L611.9 381.9L612.1 381.9L612.3 382.1L612.5 382.2L613.1 382.2L613.3 382L613.5 382.2L613.7 381.7L613.9 382.2L614.1 381.9L614.3 382.2L614.5 382L614.7 381.6L614.9 381.2L615.1 381.2L615.3 381.6L615.5 381.9L615.7 381.7L615.9 382L616.1 381.6L616.3 382.2L616.5 381.9L616.7 381.5L616.9 382.2L617.1 382.2L617.3 381.9L617.5 381.9L617.7 382.2L617.9 382L618.1 382.1L618.3 381.8L618.5 382.1L618.7 381.5L618.9 382.2L619.1 381.3L619.3 382.2L619.5 382L619.7 382.2L619.9 381.4L620.1 381.9L620.3 381.8L620.5 382.2L620.7 382.1L620.9 382.1L621.1 381.5L621.3 382.2L621.5 381.7L621.7 381.9L621.9 381.7L622.1 381.9L622.3 382.2L622.5 382L622.7 382.2L622.9 382.2L623.1 381.5L623.3 381.8L623.5 382.2L623.7 381.6L623.9 381.9L624.1 381.7L624.3 382.2L624.5 382.2L624.7 381.7L624.9 381.8L625.1 381.7L625.3 382.2L625.5 381.5L625.7 382.2L625.9 382.2L626.1 382.1L626.3 382.2L626.5 382L626.7 381.8L626.9 382.2L627.1 382.1L627.3 382.2L627.5 381.9L627.7 382.2L627.9 382L628.1 381.9L628.3 381.6L628.5 382.2L628.7 381.8L628.9 381.9L629.1 382L629.3 381.7L629.5 382.2L629.7 381.7L629.9 381.6L630.1 382L630.3 381.9L630.5 382.2L630.7 381.5L630.9 382.2L631.1 381.9L631.3 382.2L631.5 382.2L631.7 381.6L631.9 382.2L632.3 382.2L632.5 382.1L632.7 382.2L632.9 382.1L633.1 382.1L633.3 381.8L633.5 382.2L633.7 382L633.9 382.2L634.1 381.6L634.3 381.8L634.5 381.8L634.7 382.2L634.9 381.8L635.1 381.8L635.3 381.6L635.5 381.9L635.7 382.2L636.3 382.2L636.5 381.8L636.7 382L636.9 382.2L637.1 382.2L637.3 381.5L637.5 382.2L637.7 382.1L637.9 381.8L638.1 381.9L638.3 382.2L638.5 381.8L638.7 382L638.9 382L639.1 382.2L639.3 382.2L639.5 381.9L639.7 381.6L639.9 381.2L640.1 381.2L640.3 381.6L640.5 381.8L640.7 382L640.9 382.2L641.3 382.2L641.5 382L641.7 382.2L641.9 382.1L642.1 382L642.3 382L642.5 382.2L642.9 382.2L643.1 382.1L643.3 382L643.5 382.2L643.7 382.2L643.9 382.1L644.1 382.1L644.3 382.2L644.5 382L644.7 382.2L644.9 382L645.1 382.2L645.3 382.1L645.5 382.2L645.7 381.9L645.9 382.2L646.1 381.8L646.3 382L646.5 381.7L646.7 382.2L646.9 382.2L647.1 382.1L647.3 382.2L647.5 381.8L647.7 382L647.9 382L648.1 381.9L648.3 382.2L648.5 381.9L648.7 381.9L648.9 382.2L649.1 382.2L649.3 382L649.5 381.7L649.7 382.1L649.9 382.2L650.1 381.8L650.3 382.2L650.5 382.1L650.7 382.1L650.9 381.9L651.1 382L651.3 382.1L651.5 382L651.7 382.2L652.1 382.2L652.3 382.1L652.5 381.8L652.7 382.1L652.9 382.2L653.1 381.7L653.3 382.2L653.5 382L653.7 381.9L653.9 382.1L654.1 382.2L654.3 382L654.5 382.1L654.7 382.2L654.9 382.2L655.1 382L655.3 382L655.5 382.2L655.7 382L655.9 382.1L656.3 382.1L656.5 381.8L656.7 382.1L656.9 382L657.1 382L657.3 382.1L657.5 382.2L657.7 382L657.9 382.2L658.1 382.2L658.3 381.7L658.5 382L658.7 382.1L658.9 382L659.1 382.1L659.3 382.1L659.5 382L659.7 382L659.9 382.1L660.1 382.1L660.3 382.2L660.5 382.1L660.7 382L660.9 382L661.1 382.1L662.3 382.1L662.5 382L662.9 382L663.1 382.2L663.3 382.1L663.5 382L663.7 382L663.9 381.9L664.1 382.2L664.5 382.2L664.7 382.1L664.9 382L665.1 382.2L665.3 381.7L665.5 382.2L665.7 382.1L665.9 382.1L666.1 382.2L666.3 382.1L666.5 382.1L666.7 381.8L666.9 381.9L667.1 382.2L667.3 382.2L667.5 382L667.7 382.2L667.9 382L668.1 382.2L668.3 382.2L668.5 382.1L668.7 382.2L669.3 382.2L669.5 381.8L669.7 381.7L669.9 381.3L670.1 381.3L670.3 381.6L670.5 381.8L670.7 382.2L670.9 382.2L671.1 382L671.3 382.2L671.5 382.2L671.7 382.1L671.9 381.9L672.1 382.1L672.3 381.8L672.5 382.1L672.7 382L672.9 382L673.1 381.9L673.3 382.2L674.3 382.2L674.5 382L674.7 382.2L674.9 382.2L675.1 381.9L675.3 382.1L675.5 382.1L675.7 382.2L675.9 382.1L676.1 382.2L676.3 382.1L676.5 382.2L676.9 382.2L677.1 381.8L677.3 382.1L677.5 382.2L677.7 382.2L677.9 382.1L678.1 382.2L678.3 382.1L678.5 382.2L678.7 382.1L678.9 381.9L679.1 381.9L679.3 382.2L679.5 381.8L679.7 382L679.9 382.2L680.1 382L680.3 382.1L680.5 382L680.7 382.2L681.5 382.2L681.7 381.9L681.9 382.1L682.1 382.1L682.3 381.9L682.5 382.2L682.9 382.2L683.1 382L683.3 382.2L683.5 382.1L683.7 382.1L683.9 382.2L684.1 381.9L684.3 382.1L684.5 382.2L684.7 382.2L684.9 382L685.1 381.9L685.3 381.9L685.5 382.2L685.7 382.1L685.9 382.2L686.1 382L686.3 382.2L686.5 382.2L686.7 381.8L686.9 381.9L687.1 382.2L687.5 382.2L687.7 381.8L687.9 381.8L688.1 382.1L688.3 382.1L688.5 382.2L688.7 382.1L688.9 382.1L689.1 382.2L689.3 382L689.5 382L689.7 382.2L689.9 382.2L690.1 382.1L690.3 381.9L690.5 382L690.7 382L690.9 381.8L691.1 382.2L691.3 382.2L691.5 382L691.9 382L692.1 382.2L692.3 382.2L692.5 382.1L692.7 382.1L692.9 382.2L693.1 382.2L693.3 382.1L693.5 382L693.7 382.1L694.1 382.1L694.3 381.8L694.5 382.2L694.7 381.7L694.9 382.2L695.1 381.9L695.3 382L695.5 381.7L695.7 382.1L695.9 382L696.1 382.1L696.3 382L696.5 382L696.7 382.2L696.9 382.2L697.1 382.1L697.3 381.9L697.5 381.9L697.7 382.1L697.9 382L698.1 382.2L698.3 382.2L698.5 382.1L698.7 381.9L698.9 382.1L699.1 382.2L699.7 382.2L699.9 382L700.1 382.2L700.3 382L700.5 382.1L700.7 382.1L700.9 381.9L701.1 382L701.3 382.1L701.5 381.9L701.7 382.2L701.9 382.2L702.1 382.1L702.3 382L702.5 382.2L702.9 382.2L703.1 382L703.3 382.2L703.9 382.2L704.1 382L704.3 382.2L704.5 381.8L704.7 381.9L704.9 382.1L705.1 382.1L705.3 382.2L705.5 381.9L705.7 381.8L705.9 381.9L706.1 382.2L706.3 382L706.5 382.2L706.7 382L706.9 382.2L707.1 382.2L707.3 382.1L707.5 382L707.7 382.1L707.9 382L708.1 382.1L708.3 382.2L708.5 382L708.7 382.2L708.9 382.2L709.1 381.9L709.3 382L709.5 382L709.7 382.2L709.9 382.1L710.1 381.6L710.3 382L710.5 382.2L710.7 381.6L710.9 382.2L711.3 382.2L711.5 382L711.7 382L711.9 382.1L712.1 382L712.5 382L712.7 382.2L712.9 382.2L713.1 381.9L713.3 382.2L713.7 382.2L713.9 382L714.1 382.1L714.3 382L714.5 382.2L714.7 382.2L714.9 381.7L715.1 381.9L715.3 381.9L715.5 382L715.7 382.1L715.9 382.2L716.1 381.8L716.3 382.2L716.9 382.2L717.1 382.1L717.3 382.2L718.5 382.2L718.7 382L718.9 382.1L719.1 382.2L719.3 381.9L719.5 382.2L719.7 381.9L719.9 382L720.1 382.1L720.3 382.2L720.5 382L720.9 382L721.1 381.8L721.3 381.9L721.5 382.2L721.9 382.2L722.1 381.8L722.3 382L722.5 382L722.7 382.2L722.9 382.1L723.1 381.9L723.3 382.2L723.7 382.2L723.9 382.1L724.1 381.8L724.3 382.1L724.5 382.2L724.7 382.2L724.9 382L725.1 382.2L725.7 382.2L725.9 382.1L726.1 382.2L726.3 381.8L726.5 382.2L726.7 382.2L726.9 382.1L727.1 382.2L727.3 382.1L727.5 382.2L727.7 382.2L727.9 382L728.1 382L728.3 382.2L728.5 382L728.7 382.2L728.9 382.1L729.1 382L729.3 382L729.5 382.2L729.7 382.1L729.9 382.2L730.1 381.9L730.3 382.2L730.5 382L730.7 382.1L730.9 381.7L731.1 382.2L731.9 382.2L732.1 381.9L732.3 382.1L732.5 382.2L732.7 381.9L732.9 381.8L733.1 382.1L733.3 381.8L733.5 382.1L733.7 382.2L733.9 382.2L734.1 381.9L734.3 382.2L734.5 381.9L734.7 382.2L734.9 382L735.3 382L735.5 382.2L735.7 382.1L735.9 382.1L736.1 382.2L736.3 381.9L736.5 382.2L736.7 382.1L736.9 382L737.1 382L737.3 381.8L737.5 382.2L737.7 382.1L737.9 382.2L738.1 382.2L738.3 382.1L738.7 382.1L738.9 382.2L739.1 382.1L739.3 382.2L739.5 382L739.7 382L739.9 382.2L740.1 382L740.3 382.2L740.5 382L740.7 382.2L741.7 382.2L741.9 382L742.1 382.2L742.3 382L742.5 382.2L742.9 382.2L743.1 382.1L743.3 382L743.5 381.9L743.7 382.2L743.9 382.2L744.1 382.1L744.3 382.2L744.5 382L744.7 382.2L744.9 382.2L745.1 381.9L745.3 381.8L745.5 382.2L745.7 382L745.9 382.2L746.1 382.2L746.3 382L746.5 382.2L746.9 382.2L747.1 382L747.3 382.1L747.5 382L747.7 382L747.9 382.2L748.1 382.2L748.3 382.1L748.5 382.1L748.7 382.2L748.9 381.9L749.1 382.1L749.3 382.1L749.5 382.2L749.7 382.2L749.9 382L750.1 382.2L750.3 382.2L750.5 382.1L750.7 382.2L751.1 382.2L751.3 382.1L751.5 382.2L751.7 382.1L751.9 382.2L752.1 382.1L753.1 382.1L753.3 381.7L753.5 382L753.7 381.8L753.9 382.1L754.1 382.2L754.3 382.2L754.5 381.9L754.7 381.4L754.9 380.9L755.1 380.9L755.3 381.4L755.5 381.9L755.7 382L755.9 382.2L756.1 382L756.3 382.1L756.5 382.2L756.7 382.1L757.1 382.1L757.3 382L757.5 382.2L757.7 382.2L757.9 382.1L758.1 382.2L758.3 382.1L758.5 382.1L758.7 382.2L758.9 382.1L759.1 382.1L759.3 382.2L759.5 381.9L759.7 382.2L759.9 382.1L760.1 382.2L760.3 382.2L760.5 382L760.7 382.2L760.9 382L761.1 382.1L761.5 382.1L761.7 382.2L761.9 381.8L762.1 382.2L762.3 382.2L762.5 382.1L762.7 382.2L762.9 381.9L763.1 382L763.3 382.1L763.5 382.2L763.7 381.7L763.9 382" fill="#505050" fill-opacity="0.5" stroke="#505050" stroke-width="0.95" stroke-linejoin="round"/>
<g stroke="#8c8c8c" stroke-width="1" fill="none">
<path d="M67.3 42.4V149.6"/>
<path d="M59.7 149.1H67.3M62.3 143.79H67.3M62.3 138.48H67.3M62.3 133.17H67.3M59.7 127.86H67.3M62.3 122.55H67.3M62.3 117.24H67.3M62.3 111.93H67.3M59.7 106.62H67.3M62.3 101.31H67.3M62.3 96H67.3M62.3 90.69H67.3M59.7 85.38H67.3M62.3 80.07H67.3M62.3 74.76H67.3M62.3 69.45H67.3M59.7 64.14H67.3M62.3 58.83H67.3M62.3 53.52H67.3M62.3 48.21H67.3M59.7 42.9H67.3" stroke="#9a9a9a"/>
</g>
<path d="M66.8 149.4H764.2" stroke="#6e6e6e" stroke-width="1.7" fill="none"/>
<text class="yt" x="59.3" y="52.6" text-anchor="end">100</text>
<text class="yt" x="59.3" y="152.4" text-anchor="end">0</text>
<g stroke="#8c8c8c" stroke-width="1" fill="none">
<path d="M67.3 155.7V263.3"/>
<path d="M59.7 262.8H67.3M62.3 257.47H67.3M62.3 252.14H67.3M62.3 246.81H67.3M59.7 241.48H67.3M62.3 236.15H67.3M62.3 230.82H67.3M62.3 225.49H67.3M59.7 220.16H67.3M62.3 214.83H67.3M62.3 209.5H67.3M62.3 204.17H67.3M59.7 198.84H67.3M62.3 193.51H67.3M62.3 188.18H67.3M62.3 182.85H67.3M59.7 177.52H67.3M62.3 172.19H67.3M62.3 166.86H67.3M62.3 161.53H67.3M59.7 156.2H67.3" stroke="#9a9a9a"/>
</g>
<path d="M66.8 263.1H764.2" stroke="#777" stroke-width="1.2" fill="none"/>
<text class="yt" x="59.3" y="169.1" text-anchor="end">100</text>
<text class="yt" x="59.3" y="267.4" text-anchor="end">0</text>
<g stroke="#8c8c8c" stroke-width="1" fill="none">
<path d="M67.3 274.3V382.3"/>
<path d="M59.7 381.8H67.3M62.3 376.45H67.3M62.3 371.1H67.3M62.3 365.75H67.3M59.7 360.4H67.3M62.3 355.05H67.3M62.3 349.7H67.3M62.3 344.35H67.3M59.7 339H67.3M62.3 333.65H67.3M62.3 328.3H67.3M62.3 322.95H67.3M59.7 317.6H67.3M62.3 312.25H67.3M62.3 306.9H67.3M62.3 301.55H67.3M59.7 296.2H67.3M62.3 290.85H67.3M62.3 285.5H67.3M62.3 280.15H67.3M59.7 274.8H67.3" stroke="#9a9a9a"/>
</g>
<path d="M66.8 382.1H764.2" stroke="#777" stroke-width="0.9" fill="none"/>
<text class="yt" x="59.3" y="286.9" text-anchor="end">100</text>
<text class="yt" x="59.3" y="386.2" text-anchor="end">0</text>
<path d="M66.8 382.1V388.7M69.9 382.1V384.4M73 382.1V384.4M76.09 382.1V384.4M79.19 382.1V384.4M82.29 382.1V386.4M85.39 382.1V384.4M88.48 382.1V384.4M91.58 382.1V384.4M94.68 382.1V384.4M97.78 382.1V386.4M100.87 382.1V384.4M103.97 382.1V384.4M107.07 382.1V384.4M110.17 382.1V384.4M113.26 382.1V386.4M116.36 382.1V384.4M119.46 382.1V384.4M122.56 382.1V384.4M125.65 382.1V384.4M128.75 382.1V386.4M131.85 382.1V384.4M134.95 382.1V384.4M138.04 382.1V384.4M141.14 382.1V384.4M144.24 382.1V388.7M147.34 382.1V384.4M150.44 382.1V384.4M153.53 382.1V384.4M156.63 382.1V384.4M159.73 382.1V386.4M162.83 382.1V384.4M165.92 382.1V384.4M169.02 382.1V384.4M172.12 382.1V384.4M175.22 382.1V386.4M178.31 382.1V384.4M181.41 382.1V384.4M184.51 382.1V384.4M187.61 382.1V384.4M190.7 382.1V386.4M193.8 382.1V384.4M196.9 382.1V384.4M200 382.1V384.4M203.09 382.1V384.4M206.19 382.1V386.4M209.29 382.1V384.4M212.39 382.1V384.4M215.48 382.1V384.4M218.58 382.1V384.4M221.68 382.1V388.7M224.78 382.1V384.4M227.88 382.1V384.4M230.97 382.1V384.4M234.07 382.1V384.4M237.17 382.1V386.4M240.27 382.1V384.4M243.36 382.1V384.4M246.46 382.1V384.4M249.56 382.1V384.4M252.66 382.1V386.4M255.75 382.1V384.4M258.85 382.1V384.4M261.95 382.1V384.4M265.05 382.1V384.4M268.14 382.1V386.4M271.24 382.1V384.4M274.34 382.1V384.4M277.44 382.1V384.4M280.53 382.1V384.4M283.63 382.1V386.4M286.73 382.1V384.4M289.83 382.1V384.4M292.92 382.1V384.4M296.02 382.1V384.4M299.12 382.1V388.7M302.22 382.1V384.4M305.32 382.1V384.4M308.41 382.1V384.4M311.51 382.1V384.4M314.61 382.1V386.4M317.71 382.1V384.4M320.8 382.1V384.4M323.9 382.1V384.4M327 382.1V384.4M330.1 382.1V386.4M333.19 382.1V384.4M336.29 382.1V384.4M339.39 382.1V384.4M342.49 382.1V384.4M345.58 382.1V386.4M348.68 382.1V384.4M351.78 382.1V384.4M354.88 382.1V384.4M357.97 382.1V384.4M361.07 382.1V386.4M364.17 382.1V384.4M367.27 382.1V384.4M370.36 382.1V384.4M373.46 382.1V384.4M376.56 382.1V388.7M379.66 382.1V384.4M382.76 382.1V384.4M385.85 382.1V384.4M388.95 382.1V384.4M392.05 382.1V386.4M395.15 382.1V384.4M398.24 382.1V384.4M401.34 382.1V384.4M404.44 382.1V384.4M407.54 382.1V386.4M410.63 382.1V384.4M413.73 382.1V384.4M416.83 382.1V384.4M419.93 382.1V384.4M423.02 382.1V386.4M426.12 382.1V384.4M429.22 382.1V384.4M432.32 382.1V384.4M435.41 382.1V384.4M438.51 382.1V386.4M441.61 382.1V384.4M444.71 382.1V384.4M447.8 382.1V384.4M450.9 382.1V384.4M454 382.1V388.7M457.1 382.1V384.4M460.2 382.1V384.4M463.29 382.1V384.4M466.39 382.1V384.4M469.49 382.1V386.4M472.59 382.1V384.4M475.68 382.1V384.4M478.78 382.1V384.4M481.88 382.1V384.4M484.98 382.1V386.4M488.07 382.1V384.4M491.17 382.1V384.4M494.27 382.1V384.4M497.37 382.1V384.4M500.46 382.1V386.4M503.56 382.1V384.4M506.66 382.1V384.4M509.76 382.1V384.4M512.85 382.1V384.4M515.95 382.1V386.4M519.05 382.1V384.4M522.15 382.1V384.4M525.24 382.1V384.4M528.34 382.1V384.4M531.44 382.1V388.7M534.54 382.1V384.4M537.64 382.1V384.4M540.73 382.1V384.4M543.83 382.1V384.4M546.93 382.1V386.4M550.03 382.1V384.4M553.12 382.1V384.4M556.22 382.1V384.4M559.32 382.1V384.4M562.42 382.1V386.4M565.51 382.1V384.4M568.61 382.1V384.4M571.71 382.1V384.4M574.81 382.1V384.4M577.9 382.1V386.4M581 382.1V384.4M584.1 382.1V384.4M587.2 382.1V384.4M590.29 382.1V384.4M593.39 382.1V386.4M596.49 382.1V384.4M599.59 382.1V384.4M602.68 382.1V384.4M605.78 382.1V384.4M608.88 382.1V388.7M611.98 382.1V384.4M615.08 382.1V384.4M618.17 382.1V384.4M621.27 382.1V384.4M624.37 382.1V386.4M627.47 382.1V384.4M630.56 382.1V384.4M633.66 382.1V384.4M636.76 382.1V384.4M639.86 382.1V386.4M642.95 382.1V384.4M646.05 382.1V384.4M649.15 382.1V384.4M652.25 382.1V384.4M655.34 382.1V386.4M658.44 382.1V384.4M661.54 382.1V384.4M664.64 382.1V384.4M667.73 382.1V384.4M670.83 382.1V386.4M673.93 382.1V384.4M677.03 382.1V384.4M680.12 382.1V384.4M683.22 382.1V384.4M686.32 382.1V388.7M689.42 382.1V384.4M692.52 382.1V384.4M695.61 382.1V384.4M698.71 382.1V384.4M701.81 382.1V386.4M704.91 382.1V384.4M708 382.1V384.4M711.1 382.1V384.4M714.2 382.1V384.4M717.3 382.1V386.4M720.39 382.1V384.4M723.49 382.1V384.4M726.59 382.1V384.4M729.69 382.1V384.4M732.78 382.1V386.4M735.88 382.1V384.4M738.98 382.1V384.4M742.08 382.1V384.4M745.17 382.1V384.4M748.27 382.1V386.4M751.37 382.1V384.4M754.47 382.1V384.4M757.56 382.1V384.4M760.66 382.1V384.4M763.76 382.1V388.7" stroke="#5a5a5a" stroke-width="0.9" fill="none"/>
<text class="xt" x="55.4" y="410.2">550</text>
<text class="xt" x="132.84" y="410.2">600</text>
<text class="xt" x="210.28" y="410.2">650</text>
<text class="xt" x="287.72" y="410.2">700</text>
<text class="xt" x="365.16" y="410.2">750</text>
<text class="xt" x="442.6" y="410.2">800</text>
<text class="xt" x="520.04" y="410.2">850</text>
<text class="xt" x="597.48" y="410.2">900</text>
<text class="xt" x="674.92" y="410.2">950</text>
<text class="xt" x="752.36" y="410.2">1000</text>
<text x="404" y="439.5" font-size="22.1" font-style="italic" fill="#111" stroke="#111" stroke-width="0.2">m/z</text>
<text class="pk" x="99.2" y="95.4">565.62</text>
<text class="pk" x="99.4" y="117.4" textLength="36.6" lengthAdjust="spacingAndGlyphs">z=4-</text>
<path class="ar" d="M99.5 122.5L90 134.5M90 134.5L91.22 128.42M90 134.5L95.64 131.92"/>
<text class="pk" x="119.2" y="45.4">600.65</text>
<text class="pk" x="119.4" y="67.4" textLength="36.6" lengthAdjust="spacingAndGlyphs">z=4-</text>
<path class="ar" d="M140.6 72L144.5 130M144.5 130L141.32 124.68M144.5 130L146.94 124.3"/>
<text class="pk" x="176.3" y="17.8">620.64</text>
<text class="pk" x="176.5" y="39.8" textLength="36.6" lengthAdjust="spacingAndGlyphs">z=4-</text>
<text class="pk" x="224.4" y="61.7">640.63</text>
<text class="pk" x="224.6" y="83.7" textLength="36.6" lengthAdjust="spacingAndGlyphs">z=4-</text>
<path class="ar" d="M224.5 88.8L211.3 107.8M211.3 107.8L212.14 101.66M211.3 107.8L216.76 104.87"/>
<text class="pk" x="285" y="78.9">660.90</text>
<text class="pk" x="285.2" y="100.9" textLength="36.6" lengthAdjust="spacingAndGlyphs">z=4-</text>
<path class="ar" d="M285.7 105.5L245 135.8M245 135.8L247.75 130.24M245 135.8L251.11 134.76"/>
<text class="pk" x="357.5" y="83.7">754.50</text>
<text class="pk" x="357.7" y="105.7" textLength="36.6" lengthAdjust="spacingAndGlyphs">z=3-</text>
<path class="ar" d="M358.3 110.8L382.5 135.8M382.5 135.8L376.64 133.79M382.5 135.8L380.68 129.87"/>
<text class="pk" x="413" y="50">801.20</text>
<text class="pk" x="413.2" y="72" textLength="36.6" lengthAdjust="spacingAndGlyphs">z=3-</text>
<path class="ar" d="M413.8 77.5L450.5 124.5M450.5 124.5L444.88 121.88M450.5 124.5L449.32 118.41"/>
<text class="pk" x="498" y="15.8">827.85</text>
<text class="pk" x="498.2" y="37.8" textLength="36.6" lengthAdjust="spacingAndGlyphs">z=3-</text>
<text class="pk" x="547" y="45.4">854.51</text>
<text class="pk" x="547.2" y="67.4" textLength="36.6" lengthAdjust="spacingAndGlyphs">z=3-</text>
<path class="ar" d="M547.5 72.5L538.8 123M538.8 123L536.96 117.08M538.8 123L542.51 118.03"/>
<text class="pk" x="612.5" y="73">881.53</text>
<text class="pk" x="612.7" y="95" textLength="36.6" lengthAdjust="spacingAndGlyphs">z=3-</text>
<path class="ar" d="M613 100L585 134.5M585 134.5L586.3 128.44M585 134.5L590.67 131.98"/>
<rect x="589.6" y="15.2" width="177.4" height="37.9" fill="#eeece1" stroke="#1a1a1a" stroke-width="1.1"/>
<text class="bx" x="603.8" y="44" textLength="152.2" lengthAdjust="spacingAndGlyphs">(a) <tspan font-style="italic">E. coli</tspan> R1</text>
<text class="pk" x="102.5" y="210.4">565.38</text>
<text class="pk" x="102.7" y="232.4" textLength="36.6" lengthAdjust="spacingAndGlyphs">z=4-</text>
<path class="ar" d="M103 238.8L93.8 251.2M93.8 251.2L94.83 245.09M93.8 251.2L99.35 248.44"/>
<text class="pk" x="140.9" y="167.2">600.40</text>
<text class="pk" x="141.1" y="189.2" textLength="36.6" lengthAdjust="spacingAndGlyphs">z=4-</text>
<path class="ar" d="M142 193.8L144.5 251.2M144.5 251.2L141.45 245.8M144.5 251.2L147.07 245.56"/>
<text class="pk" x="224.8" y="167.2">620.39</text>
<text class="pk" x="225" y="189.2" textLength="36.6" lengthAdjust="spacingAndGlyphs">z=4-</text>
<path class="ar" d="M196.6 171.3L178.4 180M178.4 180L182.17 175.08M178.4 180L184.6 180.16"/>
<text class="pk" x="294.5" y="171">640.38</text>
<text class="pk" x="294.7" y="193" textLength="36.6" lengthAdjust="spacingAndGlyphs">z=4-</text>
<path class="ar" d="M266.3 175.8L211.8 213M211.8 213L214.78 207.56M211.8 213L217.95 212.21"/>
<text class="pk" x="287.5" y="220.9">660.66</text>
<text class="pk" x="287.7" y="242.9" textLength="36.6" lengthAdjust="spacingAndGlyphs">z=4-</text>
<path class="ar" d="M259.3 225.8L238.8 246.3M238.8 246.3L240.72 240.4M238.8 246.3L244.7 244.38"/>
<text class="pk" x="350.4" y="214.6">754.17</text>
<text class="pk" x="350.6" y="236.6" textLength="36.6" lengthAdjust="spacingAndGlyphs">z=3-</text>
<path class="ar" d="M350 241.8L382.5 252.5M382.5 252.5L376.37 253.45M382.5 252.5L378.13 248.1"/>
<text class="pk" x="387.5" y="170.6">800.87</text>
<text class="pk" x="387.7" y="192.6" textLength="36.6" lengthAdjust="spacingAndGlyphs">z=3-</text>
<path class="ar" d="M387.5 198L454.5 240.8M454.5 240.8L448.33 240.2M454.5 240.8L451.36 235.45"/>
<text class="pk" x="454" y="166.6">827.52</text>
<text class="pk" x="454.2" y="188.6" textLength="36.6" lengthAdjust="spacingAndGlyphs">z=3-</text>
<path class="ar" d="M482.5 170.5L493 170.5M493 170.5L488.67 173M493 170.5L488.67 168"/>
<text class="pk" x="588.3" y="204.2">854.17</text>
<text class="pk" x="588.5" y="226.2" textLength="36.6" lengthAdjust="spacingAndGlyphs">z=3-</text>
<path class="ar" d="M560 210L544.3 229.3M544.3 229.3L545.6 223.24M544.3 229.3L549.97 226.79"/>
<text class="pk" x="664" y="220.4">881.21</text>
<text class="pk" x="664.2" y="242.4" textLength="36.6" lengthAdjust="spacingAndGlyphs">z=3-</text>
<path class="ar" d="M636.3 225L588.8 248.8M588.8 248.8L592.48 243.81M588.8 248.8L595 248.84"/>
<rect x="589.5" y="149.5" width="184.3" height="37.3" fill="#eeece1" stroke="#1a1a1a" stroke-width="1.1"/>
<text class="bx" x="597" y="177.5" textLength="154.5" lengthAdjust="spacingAndGlyphs">(b) <tspan font-style="italic">E. coli</tspan> R2</text>
<text class="pk" x="100.5" y="336.7">565.62</text>
<text class="pk" x="100.7" y="358.7" textLength="36.6" lengthAdjust="spacingAndGlyphs">z=4-</text>
<path class="ar" d="M100.8 365L91.8 377.5M91.8 377.5L92.74 371.37M91.8 377.5L97.31 374.66"/>
<text class="pk" x="110.6" y="290.4">600.65</text>
<text class="pk" x="110.8" y="312.4" textLength="36.6" lengthAdjust="spacingAndGlyphs">z=4-</text>
<path class="ar" d="M138.3 295.8L144.3 369.5M144.3 369.5L141.05 364.22M144.3 369.5L146.66 363.77"/>
<text class="pk" x="178.1" y="294.2">620.64</text>
<text class="pk" x="178.3" y="316.2" textLength="36.6" lengthAdjust="spacingAndGlyphs">z=4-</text>
<text class="pk" x="245" y="294.2">640.63</text>
<text class="pk" x="245.2" y="316.2" textLength="36.6" lengthAdjust="spacingAndGlyphs">z=4-</text>
<path class="ar" d="M245 321.3L211.3 364.5M211.3 364.5L212.48 358.41M211.3 364.5L216.92 361.88"/>
<text class="pk" x="291.3" y="340.4">660.90</text>
<text class="pk" x="291.5" y="362.4" textLength="36.6" lengthAdjust="spacingAndGlyphs">z=4-</text>
<path class="ar" d="M263 345L241.3 376.3M241.3 376.3L242.13 370.16M241.3 376.3L246.76 373.36"/>
<text class="pk" x="360.6" y="328.4">754.50</text>
<text class="pk" x="360.8" y="350.4" textLength="36.6" lengthAdjust="spacingAndGlyphs">z=3-</text>
<path class="ar" d="M360.8 356.3L381.8 375.8M381.8 375.8L375.84 374.1M381.8 375.8L379.67 369.98"/>
<text class="pk" x="413.1" y="289.9">801.20</text>
<text class="pk" x="413.3" y="311.9" textLength="36.6" lengthAdjust="spacingAndGlyphs">z=3-</text>
<path class="ar" d="M413.8 317.5L450.8 349.3M450.8 349.3L444.78 347.83M450.8 349.3L448.45 343.56"/>
<text class="pk" x="554" y="286.2">827.85</text>
<text class="pk" x="554.2" y="308.2" textLength="36.6" lengthAdjust="spacingAndGlyphs">z=3-</text>
<path class="ar" d="M525.5 290.8L500 276.6M500 276.6L506.2 276.83M500 276.6L503.46 281.75"/>
<text class="pk" x="580.9" y="327.9">854.51</text>
<text class="pk" x="581.1" y="349.9" textLength="36.6" lengthAdjust="spacingAndGlyphs">z=3-</text>
<path class="ar" d="M553.8 332.5L544.3 358.3M544.3 358.3L543.57 352.14M544.3 358.3L548.85 354.09"/>
<text class="pk" x="649.5" y="321.7">881.53</text>
<text class="pk" x="649.7" y="343.7" textLength="36.6" lengthAdjust="spacingAndGlyphs">z=3-</text>
<path class="ar" d="M648.8 348.8L582.5 376.3M582.5 376.3L586.52 371.58M582.5 376.3L588.68 376.78"/>
<rect x="589.5" y="268.3" width="188.5" height="38.5" fill="#eeece1" stroke="#1a1a1a" stroke-width="1.1"/>
<text class="bx" x="597.6" y="296.6" textLength="154.2" lengthAdjust="spacingAndGlyphs">(c) <tspan font-style="italic">E. coli</tspan> R4</text>
<path d="M99 808.4H648.5" stroke="#d4d4d4" stroke-width="1.2" fill="none"/>
<g class="bar">
<rect x="118.2" y="804.7" width="52.7" height="3.3" fill="#4f81bd"/>
<rect x="118.2" y="791.24" width="52.7" height="13.46" fill="#c0504d"/>
<rect x="118.2" y="625.37" width="52.7" height="165.86" fill="#9bbb59"/>
<rect x="118.2" y="560.1" width="52.7" height="65.28" fill="#8064a2"/>
<rect x="118.2" y="554" width="52.7" height="6.1" fill="#4bacc6"/>
<rect x="210" y="806.73" width="53" height="1.27" fill="#4f81bd"/>
<rect x="210" y="799.87" width="53" height="6.86" fill="#c0504d"/>
<rect x="210" y="659.66" width="53" height="140.21" fill="#9bbb59"/>
<rect x="210" y="572.8" width="53" height="86.87" fill="#8064a2"/>
<rect x="210" y="554" width="53" height="18.8" fill="#4bacc6"/>
<rect x="301.9" y="806.48" width="52.7" height="1.52" fill="#4f81bd"/>
<rect x="301.9" y="790.22" width="52.7" height="16.26" fill="#c0504d"/>
<rect x="301.9" y="600.99" width="52.7" height="189.23" fill="#9bbb59"/>
<rect x="301.9" y="555.78" width="52.7" height="45.21" fill="#8064a2"/>
<rect x="301.9" y="554" width="52.7" height="1.78" fill="#4bacc6"/>
<rect x="393.9" y="802.67" width="52.4" height="5.33" fill="#4f81bd"/>
<rect x="393.9" y="772.69" width="52.4" height="29.97" fill="#c0504d"/>
<rect x="393.9" y="603.53" width="52.4" height="169.16" fill="#9bbb59"/>
<rect x="393.9" y="563.65" width="52.4" height="39.88" fill="#8064a2"/>
<rect x="393.9" y="554" width="52.4" height="9.65" fill="#4bacc6"/>
<rect x="485.5" y="804.95" width="52.3" height="3.05" fill="#4f81bd"/>
<rect x="485.5" y="783.62" width="52.3" height="21.34" fill="#c0504d"/>
<rect x="485.5" y="624.36" width="52.3" height="159.26" fill="#9bbb59"/>
<rect x="485.5" y="575.84" width="52.3" height="48.51" fill="#8064a2"/>
<rect x="485.5" y="554" width="52.3" height="21.84" fill="#4bacc6"/>
<rect x="576.8" y="805.46" width="52" height="2.54" fill="#4f81bd"/>
<rect x="576.8" y="767.11" width="52" height="38.35" fill="#c0504d"/>
<rect x="576.8" y="582.96" width="52" height="184.15" fill="#9bbb59"/>
<rect x="576.8" y="554.76" width="52" height="28.19" fill="#8064a2"/>
<rect x="576.8" y="554" width="52" height="0.76" fill="#4bacc6"/>
</g>
<text class="cy" x="74.9" y="816.1" textLength="12.5" lengthAdjust="spacingAndGlyphs">0</text>
<text class="cy" x="74.9" y="765.3" textLength="26" lengthAdjust="spacingAndGlyphs">20</text>
<text class="cy" x="74.9" y="714.5" textLength="26" lengthAdjust="spacingAndGlyphs">40</text>
<text class="cy" x="74.9" y="663.7" textLength="26" lengthAdjust="spacingAndGlyphs">60</text>
<text class="cy" x="74.9" y="612.9" textLength="26" lengthAdjust="spacingAndGlyphs">80</text>
<text class="cy" x="74.9" y="562.1" textLength="38.3" lengthAdjust="spacingAndGlyphs">100</text>
<text transform="translate(27.9 800.2) rotate(-90)" font-size="26.3" stroke="#111" stroke-width="0.3" textLength="237.5" lengthAdjust="spacingAndGlyphs" fill="#111">Percent Composition</text>
<text x="68.9" y="510.2" font-size="23.8" font-weight="bold" stroke="#000" stroke-width="0.3" textLength="32.2" lengthAdjust="spacingAndGlyphs" fill="#000">(d)</text>
<text class="zz" x="224.5" y="474.9" textLength="70.5" lengthAdjust="spacingAndGlyphs">z = 4-</text>
<text class="zz" x="481.3" y="474.9" textLength="70.5" lengthAdjust="spacingAndGlyphs">z = 3-</text>
<path d="M149.5 536.6V525.2C149.5 519.6 151.1 517.6 155.1 517.6H258.4C260.8 517.6 261.75 514.1 262 499C262.25 514.1 263.2 517.6 265.6 517.6H367.4C371.4 517.6 373 519.6 373 525.2V536.6" stroke="#2b2b2b" stroke-width="1.15" fill="none"/>
<path d="M407 536.6V525.2C407 519.6 408.6 517.6 412.6 517.6H515.9C518.3 517.6 519.25 514.1 519.5 499C519.75 514.1 520.7 517.6 523.1 517.6H624.9C628.9 517.6 630.5 519.6 630.5 525.2V536.6" stroke="#2b2b2b" stroke-width="1.15" fill="none"/>
<text class="cx" x="126.3" y="867.2" textLength="36.8" lengthAdjust="spacingAndGlyphs">R1</text>
<text class="cx" x="217.1" y="867.2" textLength="37.8" lengthAdjust="spacingAndGlyphs">R2</text>
<text class="cx" x="309.9" y="867.2" textLength="36.6" lengthAdjust="spacingAndGlyphs">R4</text>
<text class="cx" x="401" y="867.2" textLength="36.6" lengthAdjust="spacingAndGlyphs">R1</text>
<text class="cx" x="492.2" y="867.2" textLength="37.6" lengthAdjust="spacingAndGlyphs">R2</text>
<text class="cx" x="583.8" y="867.2" textLength="36.6" lengthAdjust="spacingAndGlyphs">R4</text>
<rect x="670.3" y="607.9" width="18.3" height="18.3" fill="#4bacc6" stroke="#1f1f1f" stroke-width="0.9"/>
<text class="lg" x="705" y="625.6" textLength="87.1" lengthAdjust="spacingAndGlyphs">+ GlcN</text>
<rect x="670.3" y="653.8" width="18.3" height="18.3" fill="#8064a2" stroke="#1f1f1f" stroke-width="0.9"/>
<text class="lg" x="705" y="671.5" textLength="40.8" lengthAdjust="spacingAndGlyphs">+ P</text>
<rect x="670.3" y="699.6" width="18.3" height="18.3" fill="#9bbb59" stroke="#1f1f1f" stroke-width="0.9"/>
<text class="lg" x="698.2" y="717.3" textLength="62.8" lengthAdjust="spacingAndGlyphs">Core</text>
<rect x="670.3" y="745.5" width="18.3" height="18.3" fill="#c0504d" stroke="#1f1f1f" stroke-width="0.9"/>
<text class="lg" x="705.8" y="763.2" textLength="33.4" lengthAdjust="spacingAndGlyphs">- P</text>
<rect x="670.3" y="791.1" width="18.3" height="18.3" fill="#4f81bd" stroke="#1f1f1f" stroke-width="0.9"/>
<text class="lg" x="705.8" y="808.8" textLength="69.8" lengthAdjust="spacingAndGlyphs">- Kdo</text>
</g>
</svg>
</body></html>
